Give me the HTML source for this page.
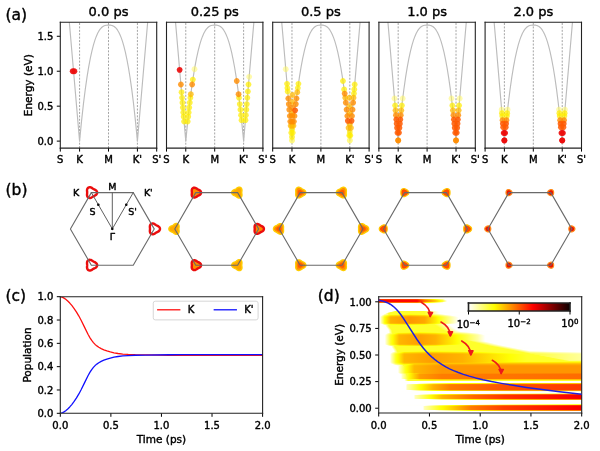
<!DOCTYPE html>
<html><head><meta charset="utf-8"><style>
html,body{margin:0;padding:0;background:#fff;}
#wrap{position:relative;width:600px;height:451px;overflow:hidden;background:#fff;}
#wrap>svg{position:absolute;left:0;top:0;}
#wrap text{stroke:#000;stroke-width:0.4px;}
</style></head><body><div id="wrap">
<svg width="600" height="451" viewBox="0 0 600 451"><defs><linearGradient id="h0" gradientUnits="userSpaceOnUse" x1="378.70" x2="581.70" y1="0" y2="0"><stop offset="0.0000" stop-color="#ff3400"/><stop offset="0.1897" stop-color="#ff3c00"/><stop offset="0.2266" stop-color="#ffa300"/><stop offset="0.2783" stop-color="#fffd00"/><stop offset="0.2931" stop-color="#ffff34"/><stop offset="0.3153" stop-color="#ffff89"/><stop offset="0.3276" stop-color="#fffffc"/><stop offset="0.3818" stop-color="#ffffff"/><stop offset="1.0000" stop-color="#ffffff"/></linearGradient><linearGradient id="h1" gradientUnits="userSpaceOnUse" x1="378.70" x2="581.70" y1="0" y2="0"><stop offset="0.0000" stop-color="#fd0000"/><stop offset="0.1897" stop-color="#ff0700"/><stop offset="0.2266" stop-color="#ff6e00"/><stop offset="0.2783" stop-color="#ffc700"/><stop offset="0.3005" stop-color="#ffff00"/><stop offset="0.3153" stop-color="#ffff39"/><stop offset="0.3350" stop-color="#fffff0"/><stop offset="0.3374" stop-color="#ffffff"/><stop offset="1.0000" stop-color="#ffffff"/></linearGradient><linearGradient id="h2" gradientUnits="userSpaceOnUse" x1="378.70" x2="581.70" y1="0" y2="0"><stop offset="0.0000" stop-color="#fd0000"/><stop offset="0.1897" stop-color="#ff0700"/><stop offset="0.2266" stop-color="#ff6e00"/><stop offset="0.2783" stop-color="#ffc700"/><stop offset="0.3005" stop-color="#ffff00"/><stop offset="0.3153" stop-color="#ffff39"/><stop offset="0.3350" stop-color="#fffff0"/><stop offset="0.3374" stop-color="#ffffff"/><stop offset="1.0000" stop-color="#ffffff"/></linearGradient><linearGradient id="h3" gradientUnits="userSpaceOnUse" x1="378.70" x2="581.70" y1="0" y2="0"><stop offset="0.0000" stop-color="#ff6c00"/><stop offset="0.1897" stop-color="#ff7400"/><stop offset="0.2266" stop-color="#ffdb00"/><stop offset="0.2488" stop-color="#ffff02"/><stop offset="0.2759" stop-color="#ffff47"/><stop offset="0.3153" stop-color="#ffffdd"/><stop offset="0.3177" stop-color="#fffff4"/><stop offset="0.3202" stop-color="#ffffff"/><stop offset="1.0000" stop-color="#ffffff"/></linearGradient><linearGradient id="h4" gradientUnits="userSpaceOnUse" x1="378.70" x2="581.70" y1="0" y2="0"><stop offset="0.0000" stop-color="#ffffff"/><stop offset="0.1429" stop-color="#fffffc"/><stop offset="0.2291" stop-color="#ffffe2"/><stop offset="0.3005" stop-color="#fffffc"/><stop offset="0.3276" stop-color="#ffffff"/><stop offset="1.0000" stop-color="#ffffff"/></linearGradient><linearGradient id="h5" gradientUnits="userSpaceOnUse" x1="378.70" x2="581.70" y1="0" y2="0"><stop offset="0.0000" stop-color="#ffffff"/><stop offset="0.0616" stop-color="#ffffff"/><stop offset="0.0640" stop-color="#ffffeb"/><stop offset="0.0788" stop-color="#ffff38"/><stop offset="0.0813" stop-color="#ffff2a"/><stop offset="0.2217" stop-color="#ffff2a"/><stop offset="0.2586" stop-color="#ffff92"/><stop offset="0.2956" stop-color="#fffffe"/><stop offset="1.0000" stop-color="#ffffff"/></linearGradient><linearGradient id="h6" gradientUnits="userSpaceOnUse" x1="378.70" x2="581.70" y1="0" y2="0"><stop offset="0.0000" stop-color="#ffffff"/><stop offset="0.0419" stop-color="#ffffff"/><stop offset="0.0443" stop-color="#ffffe8"/><stop offset="0.0591" stop-color="#ffff34"/><stop offset="0.0616" stop-color="#ffff2a"/><stop offset="0.2266" stop-color="#ffff2c"/><stop offset="0.2980" stop-color="#fffffc"/><stop offset="1.0000" stop-color="#ffffff"/></linearGradient><linearGradient id="h7" gradientUnits="userSpaceOnUse" x1="378.70" x2="581.70" y1="0" y2="0"><stop offset="0.0000" stop-color="#ffffff"/><stop offset="0.0320" stop-color="#ffffff"/><stop offset="0.0369" stop-color="#ffffc8"/><stop offset="0.0493" stop-color="#ffff33"/><stop offset="0.0517" stop-color="#ffff2a"/><stop offset="0.2266" stop-color="#ffff2a"/><stop offset="0.3005" stop-color="#ffffff"/><stop offset="1.0000" stop-color="#ffffff"/></linearGradient><linearGradient id="h8" gradientUnits="userSpaceOnUse" x1="378.70" x2="581.70" y1="0" y2="0"><stop offset="0.0000" stop-color="#ffffff"/><stop offset="0.0222" stop-color="#fffffd"/><stop offset="0.0296" stop-color="#ffffb2"/><stop offset="0.0443" stop-color="#ffff6e"/><stop offset="0.0493" stop-color="#ffff33"/><stop offset="0.0517" stop-color="#ffff2a"/><stop offset="0.0862" stop-color="#ffff25"/><stop offset="0.1527" stop-color="#ffff0c"/><stop offset="0.2266" stop-color="#ffff27"/><stop offset="0.2783" stop-color="#ffff84"/><stop offset="0.3276" stop-color="#ffffff"/><stop offset="1.0000" stop-color="#ffffff"/></linearGradient><linearGradient id="h9" gradientUnits="userSpaceOnUse" x1="378.70" x2="581.70" y1="0" y2="0"><stop offset="0.0000" stop-color="#ffffff"/><stop offset="0.0123" stop-color="#ffffff"/><stop offset="0.0148" stop-color="#ffffed"/><stop offset="0.0296" stop-color="#ffff59"/><stop offset="0.0493" stop-color="#ffff04"/><stop offset="0.0591" stop-color="#ffe600"/><stop offset="0.1552" stop-color="#ffcc00"/><stop offset="0.2266" stop-color="#ffdd00"/><stop offset="0.2562" stop-color="#ffff01"/><stop offset="0.2783" stop-color="#ffff2a"/><stop offset="0.3621" stop-color="#fffffd"/><stop offset="1.0000" stop-color="#ffffff"/></linearGradient><linearGradient id="h10" gradientUnits="userSpaceOnUse" x1="378.70" x2="581.70" y1="0" y2="0"><stop offset="0.0000" stop-color="#ffffff"/><stop offset="0.0074" stop-color="#ffffff"/><stop offset="0.0296" stop-color="#ffff20"/><stop offset="0.0369" stop-color="#fffe00"/><stop offset="0.0591" stop-color="#ffc000"/><stop offset="0.1552" stop-color="#ffa600"/><stop offset="0.2266" stop-color="#ffb700"/><stop offset="0.2808" stop-color="#fffa00"/><stop offset="0.2857" stop-color="#ffff05"/><stop offset="0.3867" stop-color="#ffffff"/><stop offset="1.0000" stop-color="#ffffff"/></linearGradient><linearGradient id="h11" gradientUnits="userSpaceOnUse" x1="378.70" x2="581.70" y1="0" y2="0"><stop offset="0.0000" stop-color="#ffffff"/><stop offset="0.0074" stop-color="#ffffff"/><stop offset="0.0099" stop-color="#ffffd0"/><stop offset="0.0296" stop-color="#ffff09"/><stop offset="0.0320" stop-color="#fffc00"/><stop offset="0.0591" stop-color="#ffb100"/><stop offset="0.1552" stop-color="#ff9700"/><stop offset="0.2266" stop-color="#ffa800"/><stop offset="0.2808" stop-color="#ffea00"/><stop offset="0.2931" stop-color="#ffff00"/><stop offset="0.3892" stop-color="#fffff1"/><stop offset="0.3941" stop-color="#ffffff"/><stop offset="1.0000" stop-color="#ffffff"/></linearGradient><linearGradient id="h12" gradientUnits="userSpaceOnUse" x1="378.70" x2="581.70" y1="0" y2="0"><stop offset="0.0000" stop-color="#ffffff"/><stop offset="0.0074" stop-color="#ffffff"/><stop offset="0.0099" stop-color="#ffffd0"/><stop offset="0.0296" stop-color="#ffff08"/><stop offset="0.0320" stop-color="#fffc00"/><stop offset="0.0591" stop-color="#ffb000"/><stop offset="0.1552" stop-color="#ff9600"/><stop offset="0.2266" stop-color="#ffa800"/><stop offset="0.2808" stop-color="#ffea00"/><stop offset="0.2931" stop-color="#ffff00"/><stop offset="0.3892" stop-color="#fffff0"/><stop offset="0.3941" stop-color="#ffffff"/><stop offset="1.0000" stop-color="#ffffff"/></linearGradient><linearGradient id="h13" gradientUnits="userSpaceOnUse" x1="378.70" x2="581.70" y1="0" y2="0"><stop offset="0.0000" stop-color="#ffffff"/><stop offset="0.0074" stop-color="#ffffff"/><stop offset="0.0099" stop-color="#ffffd0"/><stop offset="0.0296" stop-color="#ffff08"/><stop offset="0.0320" stop-color="#fffc00"/><stop offset="0.0591" stop-color="#ffb000"/><stop offset="0.1552" stop-color="#ff9600"/><stop offset="0.2266" stop-color="#ffa800"/><stop offset="0.2808" stop-color="#ffea00"/><stop offset="0.2931" stop-color="#ffff00"/><stop offset="0.3892" stop-color="#fffff0"/><stop offset="0.3941" stop-color="#ffffff"/><stop offset="1.0000" stop-color="#ffffff"/></linearGradient><linearGradient id="h14" gradientUnits="userSpaceOnUse" x1="378.70" x2="581.70" y1="0" y2="0"><stop offset="0.0000" stop-color="#ffffff"/><stop offset="0.0074" stop-color="#ffffff"/><stop offset="0.0099" stop-color="#ffffd0"/><stop offset="0.0296" stop-color="#ffff08"/><stop offset="0.0320" stop-color="#fffc00"/><stop offset="0.0591" stop-color="#ffb000"/><stop offset="0.1552" stop-color="#ff9600"/><stop offset="0.2266" stop-color="#ffa800"/><stop offset="0.2808" stop-color="#ffea00"/><stop offset="0.2931" stop-color="#ffff00"/><stop offset="0.3892" stop-color="#fffff0"/><stop offset="0.3941" stop-color="#ffffff"/><stop offset="1.0000" stop-color="#ffffff"/></linearGradient><linearGradient id="h15" gradientUnits="userSpaceOnUse" x1="378.70" x2="581.70" y1="0" y2="0"><stop offset="0.0000" stop-color="#ffffff"/><stop offset="0.0074" stop-color="#ffffff"/><stop offset="0.0099" stop-color="#ffffd0"/><stop offset="0.0296" stop-color="#ffff08"/><stop offset="0.0320" stop-color="#fffc00"/><stop offset="0.0591" stop-color="#ffb000"/><stop offset="0.1552" stop-color="#ff9600"/><stop offset="0.2266" stop-color="#ffa800"/><stop offset="0.2808" stop-color="#ffea00"/><stop offset="0.2931" stop-color="#ffff00"/><stop offset="0.3892" stop-color="#fffff0"/><stop offset="0.3941" stop-color="#ffffff"/><stop offset="1.0000" stop-color="#ffffff"/></linearGradient><linearGradient id="h16" gradientUnits="userSpaceOnUse" x1="378.70" x2="581.70" y1="0" y2="0"><stop offset="0.0000" stop-color="#ffffff"/><stop offset="0.0074" stop-color="#ffffff"/><stop offset="0.0099" stop-color="#ffffd0"/><stop offset="0.0296" stop-color="#ffff08"/><stop offset="0.0320" stop-color="#fffc00"/><stop offset="0.0591" stop-color="#ffb000"/><stop offset="0.1552" stop-color="#ff9600"/><stop offset="0.2266" stop-color="#ffa800"/><stop offset="0.2808" stop-color="#ffea00"/><stop offset="0.2931" stop-color="#ffff00"/><stop offset="0.3892" stop-color="#fffff0"/><stop offset="0.3941" stop-color="#ffffff"/><stop offset="1.0000" stop-color="#ffffff"/></linearGradient><linearGradient id="h17" gradientUnits="userSpaceOnUse" x1="378.70" x2="581.70" y1="0" y2="0"><stop offset="0.0000" stop-color="#ffffff"/><stop offset="0.0074" stop-color="#ffffff"/><stop offset="0.0148" stop-color="#ffffb7"/><stop offset="0.0296" stop-color="#ffff23"/><stop offset="0.0369" stop-color="#ffff01"/><stop offset="0.0591" stop-color="#ffc200"/><stop offset="0.1552" stop-color="#ffa800"/><stop offset="0.2266" stop-color="#ffb900"/><stop offset="0.2808" stop-color="#fffb00"/><stop offset="0.2857" stop-color="#ffff07"/><stop offset="0.3842" stop-color="#fffffe"/><stop offset="1.0000" stop-color="#ffffff"/></linearGradient><linearGradient id="h18" gradientUnits="userSpaceOnUse" x1="378.70" x2="581.70" y1="0" y2="0"><stop offset="0.0000" stop-color="#ffffff"/><stop offset="0.0172" stop-color="#ffffff"/><stop offset="0.0197" stop-color="#fffff0"/><stop offset="0.0296" stop-color="#ffff8d"/><stop offset="0.0468" stop-color="#ffff43"/><stop offset="0.0493" stop-color="#ffff33"/><stop offset="0.0591" stop-color="#ffff0f"/><stop offset="0.0813" stop-color="#ffff02"/><stop offset="0.1552" stop-color="#ffef00"/><stop offset="0.2266" stop-color="#ffff02"/><stop offset="0.2512" stop-color="#ffff2a"/><stop offset="0.2734" stop-color="#ffff2b"/><stop offset="0.3473" stop-color="#ffffff"/><stop offset="1.0000" stop-color="#ffffff"/></linearGradient><linearGradient id="h19" gradientUnits="userSpaceOnUse" x1="378.70" x2="581.70" y1="0" y2="0"><stop offset="0.0000" stop-color="#ffffff"/><stop offset="0.0320" stop-color="#ffffff"/><stop offset="0.0369" stop-color="#ffffc8"/><stop offset="0.0493" stop-color="#ffff33"/><stop offset="0.0517" stop-color="#ffff2a"/><stop offset="0.2808" stop-color="#ffff2a"/><stop offset="0.3547" stop-color="#ffffff"/><stop offset="1.0000" stop-color="#ffffff"/></linearGradient><linearGradient id="h20" gradientUnits="userSpaceOnUse" x1="378.70" x2="581.70" y1="0" y2="0"><stop offset="0.0000" stop-color="#ffffff"/><stop offset="0.0345" stop-color="#fffffd"/><stop offset="0.0517" stop-color="#ffff2b"/><stop offset="0.2882" stop-color="#ffff2a"/><stop offset="0.3621" stop-color="#ffffff"/><stop offset="1.0000" stop-color="#ffffff"/></linearGradient><linearGradient id="h21" gradientUnits="userSpaceOnUse" x1="378.70" x2="581.70" y1="0" y2="0"><stop offset="0.0000" stop-color="#ffffff"/><stop offset="0.0369" stop-color="#ffffff"/><stop offset="0.0394" stop-color="#ffffee"/><stop offset="0.0542" stop-color="#ffff3b"/><stop offset="0.0567" stop-color="#ffff2a"/><stop offset="0.2956" stop-color="#ffff2a"/><stop offset="0.3695" stop-color="#ffffff"/><stop offset="1.0000" stop-color="#ffffff"/></linearGradient><linearGradient id="h22" gradientUnits="userSpaceOnUse" x1="378.70" x2="581.70" y1="0" y2="0"><stop offset="0.0000" stop-color="#ffffff"/><stop offset="0.0419" stop-color="#fffffe"/><stop offset="0.0591" stop-color="#ffff2d"/><stop offset="0.1034" stop-color="#ffff2a"/><stop offset="0.3030" stop-color="#ffff2a"/><stop offset="0.3768" stop-color="#ffffff"/><stop offset="1.0000" stop-color="#ffffff"/></linearGradient><linearGradient id="h23" gradientUnits="userSpaceOnUse" x1="378.70" x2="581.70" y1="0" y2="0"><stop offset="0.0000" stop-color="#ffffff"/><stop offset="0.0443" stop-color="#ffffff"/><stop offset="0.0468" stop-color="#fffff0"/><stop offset="0.0616" stop-color="#ffff3c"/><stop offset="0.0640" stop-color="#ffff2a"/><stop offset="0.3103" stop-color="#ffff2a"/><stop offset="0.3842" stop-color="#fffffe"/><stop offset="1.0000" stop-color="#ffffff"/></linearGradient><linearGradient id="h24" gradientUnits="userSpaceOnUse" x1="378.70" x2="581.70" y1="0" y2="0"><stop offset="0.0000" stop-color="#ffffff"/><stop offset="0.0468" stop-color="#ffffff"/><stop offset="0.0493" stop-color="#ffffee"/><stop offset="0.0640" stop-color="#ffff3b"/><stop offset="0.0665" stop-color="#ffff2a"/><stop offset="0.3202" stop-color="#ffff2a"/><stop offset="0.3941" stop-color="#ffffff"/><stop offset="1.0000" stop-color="#ffffff"/></linearGradient><linearGradient id="h25" gradientUnits="userSpaceOnUse" x1="378.70" x2="581.70" y1="0" y2="0"><stop offset="0.0000" stop-color="#ffffff"/><stop offset="0.0468" stop-color="#ffffff"/><stop offset="0.0493" stop-color="#fffff9"/><stop offset="0.0665" stop-color="#ffff2a"/><stop offset="0.3325" stop-color="#ffff2d"/><stop offset="0.4039" stop-color="#fffffd"/><stop offset="1.0000" stop-color="#ffffff"/></linearGradient><linearGradient id="h26" gradientUnits="userSpaceOnUse" x1="378.70" x2="581.70" y1="0" y2="0"><stop offset="0.0000" stop-color="#ffffff"/><stop offset="0.0493" stop-color="#ffffff"/><stop offset="0.0567" stop-color="#ffffaa"/><stop offset="0.0665" stop-color="#ffff32"/><stop offset="0.0690" stop-color="#ffff2a"/><stop offset="0.1133" stop-color="#ffff26"/><stop offset="0.2044" stop-color="#ffff07"/><stop offset="0.2783" stop-color="#ffff22"/><stop offset="0.2906" stop-color="#ffff2a"/><stop offset="0.3424" stop-color="#ffff2a"/><stop offset="0.3768" stop-color="#ffff8e"/><stop offset="0.4360" stop-color="#ffffe0"/><stop offset="0.4557" stop-color="#ffffff"/><stop offset="1.0000" stop-color="#ffffff"/></linearGradient><linearGradient id="h27" gradientUnits="userSpaceOnUse" x1="378.70" x2="581.70" y1="0" y2="0"><stop offset="0.0000" stop-color="#ffffff"/><stop offset="0.0369" stop-color="#ffffff"/><stop offset="0.0394" stop-color="#fffff8"/><stop offset="0.0591" stop-color="#ffff6d"/><stop offset="0.0640" stop-color="#ffff59"/><stop offset="0.0665" stop-color="#ffff3d"/><stop offset="0.0690" stop-color="#ffff2a"/><stop offset="0.0788" stop-color="#ffff26"/><stop offset="0.0887" stop-color="#ffff04"/><stop offset="0.0985" stop-color="#ffeb00"/><stop offset="0.2020" stop-color="#ffcf00"/><stop offset="0.2808" stop-color="#ffe300"/><stop offset="0.3251" stop-color="#ffff03"/><stop offset="0.3621" stop-color="#ffff2c"/><stop offset="0.4335" stop-color="#ffff8e"/><stop offset="0.4877" stop-color="#ffffeb"/><stop offset="0.4951" stop-color="#fffffe"/><stop offset="1.0000" stop-color="#ffffff"/></linearGradient><linearGradient id="h28" gradientUnits="userSpaceOnUse" x1="378.70" x2="581.70" y1="0" y2="0"><stop offset="0.0000" stop-color="#ffffff"/><stop offset="0.0320" stop-color="#ffffff"/><stop offset="0.0419" stop-color="#ffffb4"/><stop offset="0.0591" stop-color="#ffff3b"/><stop offset="0.0739" stop-color="#ffff05"/><stop offset="0.0788" stop-color="#fff700"/><stop offset="0.1010" stop-color="#ffc600"/><stop offset="0.2044" stop-color="#ffae00"/><stop offset="0.2808" stop-color="#ffc200"/><stop offset="0.3670" stop-color="#ffff00"/><stop offset="0.4335" stop-color="#ffff5c"/><stop offset="0.4877" stop-color="#ffffb9"/><stop offset="0.5148" stop-color="#fffffd"/><stop offset="1.0000" stop-color="#ffffff"/></linearGradient><linearGradient id="h29" gradientUnits="userSpaceOnUse" x1="378.70" x2="581.70" y1="0" y2="0"><stop offset="0.0000" stop-color="#ffffff"/><stop offset="0.0296" stop-color="#ffffff"/><stop offset="0.0320" stop-color="#fffff6"/><stop offset="0.0345" stop-color="#ffffd5"/><stop offset="0.0591" stop-color="#ffff25"/><stop offset="0.0690" stop-color="#ffff00"/><stop offset="0.1010" stop-color="#ffb700"/><stop offset="0.2044" stop-color="#ff9f00"/><stop offset="0.2808" stop-color="#ffb300"/><stop offset="0.3645" stop-color="#ffee00"/><stop offset="0.3842" stop-color="#ffff01"/><stop offset="0.4360" stop-color="#ffff4a"/><stop offset="0.4877" stop-color="#ffffa3"/><stop offset="0.5246" stop-color="#ffffff"/><stop offset="1.0000" stop-color="#ffffff"/></linearGradient><linearGradient id="h30" gradientUnits="userSpaceOnUse" x1="378.70" x2="581.70" y1="0" y2="0"><stop offset="0.0000" stop-color="#ffffff"/><stop offset="0.0296" stop-color="#ffffff"/><stop offset="0.0320" stop-color="#fffff5"/><stop offset="0.0345" stop-color="#ffffd4"/><stop offset="0.0591" stop-color="#ffff23"/><stop offset="0.0690" stop-color="#fffe00"/><stop offset="0.1010" stop-color="#ffb600"/><stop offset="0.2044" stop-color="#ff9e00"/><stop offset="0.2808" stop-color="#ffb200"/><stop offset="0.3645" stop-color="#ffed00"/><stop offset="0.3867" stop-color="#ffff03"/><stop offset="0.4360" stop-color="#ffff49"/><stop offset="0.4877" stop-color="#ffffa1"/><stop offset="0.5246" stop-color="#fffffe"/><stop offset="1.0000" stop-color="#ffffff"/></linearGradient><linearGradient id="h31" gradientUnits="userSpaceOnUse" x1="378.70" x2="581.70" y1="0" y2="0"><stop offset="0.0000" stop-color="#ffffff"/><stop offset="0.0296" stop-color="#ffffff"/><stop offset="0.0320" stop-color="#fffff5"/><stop offset="0.0345" stop-color="#ffffd4"/><stop offset="0.0591" stop-color="#ffff23"/><stop offset="0.0690" stop-color="#fffe00"/><stop offset="0.1010" stop-color="#ffb600"/><stop offset="0.2044" stop-color="#ff9e00"/><stop offset="0.2808" stop-color="#ffb200"/><stop offset="0.3645" stop-color="#ffed00"/><stop offset="0.3867" stop-color="#ffff03"/><stop offset="0.4360" stop-color="#ffff49"/><stop offset="0.4877" stop-color="#ffffa1"/><stop offset="0.5246" stop-color="#fffffe"/><stop offset="1.0000" stop-color="#ffffff"/></linearGradient><linearGradient id="h32" gradientUnits="userSpaceOnUse" x1="378.70" x2="581.70" y1="0" y2="0"><stop offset="0.0000" stop-color="#ffffff"/><stop offset="0.0296" stop-color="#ffffff"/><stop offset="0.0320" stop-color="#fffff5"/><stop offset="0.0345" stop-color="#ffffd4"/><stop offset="0.0591" stop-color="#ffff23"/><stop offset="0.0690" stop-color="#fffe00"/><stop offset="0.1010" stop-color="#ffb600"/><stop offset="0.2044" stop-color="#ff9e00"/><stop offset="0.2808" stop-color="#ffb200"/><stop offset="0.3645" stop-color="#ffed00"/><stop offset="0.3867" stop-color="#ffff03"/><stop offset="0.4360" stop-color="#ffff49"/><stop offset="0.4877" stop-color="#ffffa1"/><stop offset="0.5246" stop-color="#fffffe"/><stop offset="1.0000" stop-color="#ffffff"/></linearGradient><linearGradient id="h33" gradientUnits="userSpaceOnUse" x1="378.70" x2="581.70" y1="0" y2="0"><stop offset="0.0000" stop-color="#ffffff"/><stop offset="0.0296" stop-color="#ffffff"/><stop offset="0.0320" stop-color="#fffff5"/><stop offset="0.0345" stop-color="#ffffd4"/><stop offset="0.0591" stop-color="#ffff23"/><stop offset="0.0690" stop-color="#fffe00"/><stop offset="0.1010" stop-color="#ffb600"/><stop offset="0.2044" stop-color="#ff9e00"/><stop offset="0.2808" stop-color="#ffb200"/><stop offset="0.3645" stop-color="#ffed00"/><stop offset="0.3867" stop-color="#ffff03"/><stop offset="0.4163" stop-color="#ffff2a"/><stop offset="0.4212" stop-color="#ffff2f"/><stop offset="0.4877" stop-color="#ffffa1"/><stop offset="0.5246" stop-color="#fffffe"/><stop offset="1.0000" stop-color="#ffffff"/></linearGradient><linearGradient id="h34" gradientUnits="userSpaceOnUse" x1="378.70" x2="581.70" y1="0" y2="0"><stop offset="0.0000" stop-color="#ffffff"/><stop offset="0.0296" stop-color="#ffffff"/><stop offset="0.0320" stop-color="#fffff5"/><stop offset="0.0345" stop-color="#ffffd4"/><stop offset="0.0591" stop-color="#ffff23"/><stop offset="0.0690" stop-color="#fffe00"/><stop offset="0.1010" stop-color="#ffb600"/><stop offset="0.2044" stop-color="#ff9e00"/><stop offset="0.2808" stop-color="#ffb200"/><stop offset="0.3645" stop-color="#ffed00"/><stop offset="0.3867" stop-color="#ffff03"/><stop offset="0.4163" stop-color="#ffff2a"/><stop offset="0.4360" stop-color="#ffff2c"/><stop offset="0.4606" stop-color="#ffff72"/><stop offset="0.4877" stop-color="#ffffa1"/><stop offset="0.5246" stop-color="#fffffe"/><stop offset="1.0000" stop-color="#ffffff"/></linearGradient><linearGradient id="h35" gradientUnits="userSpaceOnUse" x1="378.70" x2="581.70" y1="0" y2="0"><stop offset="0.0000" stop-color="#ffffff"/><stop offset="0.0296" stop-color="#ffffff"/><stop offset="0.0320" stop-color="#fffff5"/><stop offset="0.0345" stop-color="#ffffd4"/><stop offset="0.0591" stop-color="#ffff23"/><stop offset="0.0690" stop-color="#fffe00"/><stop offset="0.1010" stop-color="#ffb600"/><stop offset="0.2044" stop-color="#ff9e00"/><stop offset="0.2808" stop-color="#ffb200"/><stop offset="0.3645" stop-color="#ffed00"/><stop offset="0.3867" stop-color="#ffff03"/><stop offset="0.4163" stop-color="#ffff2a"/><stop offset="0.4557" stop-color="#ffff2c"/><stop offset="0.5271" stop-color="#fffffc"/><stop offset="0.5443" stop-color="#ffffff"/><stop offset="1.0000" stop-color="#ffffff"/></linearGradient><linearGradient id="h36" gradientUnits="userSpaceOnUse" x1="378.70" x2="581.70" y1="0" y2="0"><stop offset="0.0000" stop-color="#ffffff"/><stop offset="0.0296" stop-color="#ffffff"/><stop offset="0.0320" stop-color="#fffff5"/><stop offset="0.0345" stop-color="#ffffd4"/><stop offset="0.0591" stop-color="#ffff23"/><stop offset="0.0690" stop-color="#fffe00"/><stop offset="0.1010" stop-color="#ffb600"/><stop offset="0.2044" stop-color="#ff9e00"/><stop offset="0.2808" stop-color="#ffb200"/><stop offset="0.3645" stop-color="#ffed00"/><stop offset="0.3867" stop-color="#ffff03"/><stop offset="0.4163" stop-color="#ffff2a"/><stop offset="0.4754" stop-color="#ffff2b"/><stop offset="0.5493" stop-color="#ffffff"/><stop offset="1.0000" stop-color="#ffffff"/></linearGradient><linearGradient id="h37" gradientUnits="userSpaceOnUse" x1="378.70" x2="581.70" y1="0" y2="0"><stop offset="0.0000" stop-color="#ffffff"/><stop offset="0.0296" stop-color="#ffffff"/><stop offset="0.0320" stop-color="#fffff5"/><stop offset="0.0345" stop-color="#ffffd4"/><stop offset="0.0591" stop-color="#ffff23"/><stop offset="0.0690" stop-color="#fffe00"/><stop offset="0.1010" stop-color="#ffb600"/><stop offset="0.2044" stop-color="#ff9e00"/><stop offset="0.2808" stop-color="#ffb200"/><stop offset="0.3645" stop-color="#ffed00"/><stop offset="0.3867" stop-color="#ffff03"/><stop offset="0.4163" stop-color="#ffff2a"/><stop offset="0.4951" stop-color="#ffff2a"/><stop offset="0.5690" stop-color="#ffffff"/><stop offset="1.0000" stop-color="#ffffff"/></linearGradient><linearGradient id="h38" gradientUnits="userSpaceOnUse" x1="378.70" x2="581.70" y1="0" y2="0"><stop offset="0.0000" stop-color="#ffffff"/><stop offset="0.0320" stop-color="#ffffff"/><stop offset="0.0345" stop-color="#ffffe3"/><stop offset="0.0591" stop-color="#ffff33"/><stop offset="0.0714" stop-color="#ffff05"/><stop offset="0.0764" stop-color="#fff700"/><stop offset="0.1010" stop-color="#ffc000"/><stop offset="0.2044" stop-color="#ffa900"/><stop offset="0.2808" stop-color="#ffbc00"/><stop offset="0.3645" stop-color="#fff700"/><stop offset="0.3744" stop-color="#ffff02"/><stop offset="0.4064" stop-color="#ffff2a"/><stop offset="0.5148" stop-color="#ffff2a"/><stop offset="0.5887" stop-color="#ffffff"/><stop offset="1.0000" stop-color="#ffffff"/></linearGradient><linearGradient id="h39" gradientUnits="userSpaceOnUse" x1="378.70" x2="581.70" y1="0" y2="0"><stop offset="0.0000" stop-color="#ffffff"/><stop offset="0.0394" stop-color="#ffffff"/><stop offset="0.0419" stop-color="#fffff7"/><stop offset="0.0591" stop-color="#ffff7e"/><stop offset="0.0764" stop-color="#ffff3f"/><stop offset="0.0788" stop-color="#ffff2a"/><stop offset="0.0837" stop-color="#ffff26"/><stop offset="0.0936" stop-color="#ffff04"/><stop offset="0.1034" stop-color="#fff200"/><stop offset="0.2044" stop-color="#ffdb00"/><stop offset="0.2808" stop-color="#ffee00"/><stop offset="0.3079" stop-color="#ffff02"/><stop offset="0.3498" stop-color="#ffff2a"/><stop offset="0.5369" stop-color="#ffff2a"/><stop offset="0.6108" stop-color="#ffffff"/><stop offset="1.0000" stop-color="#ffffff"/></linearGradient><linearGradient id="h40" gradientUnits="userSpaceOnUse" x1="378.70" x2="581.70" y1="0" y2="0"><stop offset="0.0000" stop-color="#ffffff"/><stop offset="0.0616" stop-color="#fffffc"/><stop offset="0.0640" stop-color="#ffffe6"/><stop offset="0.0788" stop-color="#ffff33"/><stop offset="0.0813" stop-color="#ffff2a"/><stop offset="0.5616" stop-color="#ffff2a"/><stop offset="0.6355" stop-color="#fffffe"/><stop offset="1.0000" stop-color="#ffffff"/></linearGradient><linearGradient id="h41" gradientUnits="userSpaceOnUse" x1="378.70" x2="581.70" y1="0" y2="0"><stop offset="0.0000" stop-color="#ffffff"/><stop offset="0.0640" stop-color="#ffffff"/><stop offset="0.0813" stop-color="#ffff2e"/><stop offset="0.0862" stop-color="#ffff2a"/><stop offset="0.5862" stop-color="#ffff2a"/><stop offset="0.5961" stop-color="#ffff43"/><stop offset="0.6601" stop-color="#fffffd"/><stop offset="1.0000" stop-color="#ffffff"/></linearGradient><linearGradient id="h42" gradientUnits="userSpaceOnUse" x1="378.70" x2="581.70" y1="0" y2="0"><stop offset="0.0000" stop-color="#ffffff"/><stop offset="0.0665" stop-color="#ffffff"/><stop offset="0.0690" stop-color="#ffffec"/><stop offset="0.0837" stop-color="#ffff39"/><stop offset="0.0862" stop-color="#ffff2a"/><stop offset="0.6133" stop-color="#ffff2c"/><stop offset="0.6847" stop-color="#fffffc"/><stop offset="0.8399" stop-color="#ffffff"/><stop offset="1.0000" stop-color="#ffffff"/></linearGradient><linearGradient id="h43" gradientUnits="userSpaceOnUse" x1="378.70" x2="581.70" y1="0" y2="0"><stop offset="0.0000" stop-color="#ffffff"/><stop offset="0.0690" stop-color="#ffffff"/><stop offset="0.0714" stop-color="#fffff7"/><stop offset="0.0862" stop-color="#ffff43"/><stop offset="0.0887" stop-color="#ffff2a"/><stop offset="0.6379" stop-color="#ffff2b"/><stop offset="0.7118" stop-color="#ffffff"/><stop offset="1.0000" stop-color="#ffffff"/></linearGradient><linearGradient id="h44" gradientUnits="userSpaceOnUse" x1="378.70" x2="581.70" y1="0" y2="0"><stop offset="0.0000" stop-color="#ffffff"/><stop offset="0.0714" stop-color="#ffffff"/><stop offset="0.0739" stop-color="#fffff6"/><stop offset="0.0887" stop-color="#ffff43"/><stop offset="0.0911" stop-color="#ffff2a"/><stop offset="0.6626" stop-color="#ffff2a"/><stop offset="0.7365" stop-color="#ffffff"/><stop offset="1.0000" stop-color="#ffffff"/></linearGradient><linearGradient id="h45" gradientUnits="userSpaceOnUse" x1="378.70" x2="581.70" y1="0" y2="0"><stop offset="0.0000" stop-color="#ffffff"/><stop offset="0.0739" stop-color="#ffffff"/><stop offset="0.0764" stop-color="#ffffeb"/><stop offset="0.0911" stop-color="#ffff38"/><stop offset="0.0936" stop-color="#ffff2a"/><stop offset="0.1429" stop-color="#ffff26"/><stop offset="0.2562" stop-color="#ffff06"/><stop offset="0.4089" stop-color="#ffff23"/><stop offset="0.4335" stop-color="#ffff2a"/><stop offset="0.6872" stop-color="#ffff2a"/><stop offset="0.7438" stop-color="#ffffcb"/><stop offset="0.8424" stop-color="#fffff7"/><stop offset="0.8768" stop-color="#ffffff"/><stop offset="1.0000" stop-color="#ffffff"/></linearGradient><linearGradient id="h46" gradientUnits="userSpaceOnUse" x1="378.70" x2="581.70" y1="0" y2="0"><stop offset="0.0000" stop-color="#ffffff"/><stop offset="0.0616" stop-color="#ffffff"/><stop offset="0.0640" stop-color="#fffffa"/><stop offset="0.0837" stop-color="#ffff70"/><stop offset="0.0887" stop-color="#ffff5a"/><stop offset="0.0911" stop-color="#ffff4b"/><stop offset="0.0936" stop-color="#ffff2d"/><stop offset="0.1034" stop-color="#ffff27"/><stop offset="0.1158" stop-color="#fffd00"/><stop offset="0.1256" stop-color="#ffe700"/><stop offset="0.2586" stop-color="#ffcf00"/><stop offset="0.4138" stop-color="#ffe400"/><stop offset="0.5000" stop-color="#ffff02"/><stop offset="0.5837" stop-color="#ffff2a"/><stop offset="0.7118" stop-color="#ffff2a"/><stop offset="0.7414" stop-color="#ffff7c"/><stop offset="0.8399" stop-color="#ffffa8"/><stop offset="1.0000" stop-color="#ffffe4"/></linearGradient><linearGradient id="h47" gradientUnits="userSpaceOnUse" x1="378.70" x2="581.70" y1="0" y2="0"><stop offset="0.0000" stop-color="#ffffff"/><stop offset="0.0567" stop-color="#ffffff"/><stop offset="0.0591" stop-color="#fffff0"/><stop offset="0.0640" stop-color="#ffffc8"/><stop offset="0.0837" stop-color="#ffff3e"/><stop offset="0.0911" stop-color="#ffff20"/><stop offset="0.1010" stop-color="#fffd00"/><stop offset="0.1256" stop-color="#ffc600"/><stop offset="0.2586" stop-color="#ffae00"/><stop offset="0.4138" stop-color="#ffc200"/><stop offset="0.6010" stop-color="#ffff03"/><stop offset="0.6823" stop-color="#ffff2a"/><stop offset="0.7365" stop-color="#ffff2a"/><stop offset="0.7512" stop-color="#ffff4e"/><stop offset="0.8473" stop-color="#ffff79"/><stop offset="1.0000" stop-color="#ffffb2"/></linearGradient><linearGradient id="h48" gradientUnits="userSpaceOnUse" x1="378.70" x2="581.70" y1="0" y2="0"><stop offset="0.0000" stop-color="#ffffff"/><stop offset="0.0542" stop-color="#ffffff"/><stop offset="0.0567" stop-color="#fffffb"/><stop offset="0.0591" stop-color="#ffffda"/><stop offset="0.0640" stop-color="#ffffb2"/><stop offset="0.0837" stop-color="#ffff27"/><stop offset="0.0911" stop-color="#ffff09"/><stop offset="0.0936" stop-color="#ffff01"/><stop offset="0.1256" stop-color="#ffb700"/><stop offset="0.2586" stop-color="#ff9f00"/><stop offset="0.4138" stop-color="#ffb300"/><stop offset="0.6453" stop-color="#ffff03"/><stop offset="0.7266" stop-color="#ffff2a"/><stop offset="0.7635" stop-color="#ffff2d"/><stop offset="0.7709" stop-color="#ffff42"/><stop offset="0.9360" stop-color="#ffff84"/><stop offset="1.0000" stop-color="#ffff9c"/></linearGradient><linearGradient id="h49" gradientUnits="userSpaceOnUse" x1="378.70" x2="581.70" y1="0" y2="0"><stop offset="0.0000" stop-color="#ffffff"/><stop offset="0.0542" stop-color="#ffffff"/><stop offset="0.0567" stop-color="#fffffa"/><stop offset="0.0591" stop-color="#ffffd9"/><stop offset="0.0640" stop-color="#ffffb0"/><stop offset="0.0837" stop-color="#ffff26"/><stop offset="0.0911" stop-color="#ffff08"/><stop offset="0.0936" stop-color="#ffff00"/><stop offset="0.1256" stop-color="#ffb600"/><stop offset="0.2586" stop-color="#ff9e00"/><stop offset="0.4138" stop-color="#ffb300"/><stop offset="0.6478" stop-color="#ffff03"/><stop offset="0.7315" stop-color="#ffff2a"/><stop offset="0.7882" stop-color="#ffff2c"/><stop offset="0.8005" stop-color="#ffff4f"/><stop offset="1.0000" stop-color="#ffff9b"/></linearGradient><linearGradient id="h50" gradientUnits="userSpaceOnUse" x1="378.70" x2="581.70" y1="0" y2="0"><stop offset="0.0000" stop-color="#ffffff"/><stop offset="0.0542" stop-color="#ffffff"/><stop offset="0.0567" stop-color="#fffffa"/><stop offset="0.0591" stop-color="#ffffd9"/><stop offset="0.0640" stop-color="#ffffb0"/><stop offset="0.0837" stop-color="#ffff26"/><stop offset="0.0911" stop-color="#ffff08"/><stop offset="0.0936" stop-color="#ffff00"/><stop offset="0.1256" stop-color="#ffb600"/><stop offset="0.2586" stop-color="#ff9e00"/><stop offset="0.4138" stop-color="#ffb300"/><stop offset="0.6478" stop-color="#ffff03"/><stop offset="0.7315" stop-color="#ffff2a"/><stop offset="0.8128" stop-color="#ffff2b"/><stop offset="0.8300" stop-color="#ffff5b"/><stop offset="1.0000" stop-color="#ffff9b"/></linearGradient><linearGradient id="h51" gradientUnits="userSpaceOnUse" x1="378.70" x2="581.70" y1="0" y2="0"><stop offset="0.0000" stop-color="#ffffff"/><stop offset="0.0542" stop-color="#ffffff"/><stop offset="0.0567" stop-color="#fffffa"/><stop offset="0.0591" stop-color="#ffffd9"/><stop offset="0.0640" stop-color="#ffffb0"/><stop offset="0.0837" stop-color="#ffff26"/><stop offset="0.0911" stop-color="#ffff08"/><stop offset="0.0936" stop-color="#ffff00"/><stop offset="0.1256" stop-color="#ffb600"/><stop offset="0.2586" stop-color="#ff9e00"/><stop offset="0.4138" stop-color="#ffb300"/><stop offset="0.6478" stop-color="#ffff03"/><stop offset="0.7315" stop-color="#ffff2a"/><stop offset="0.8374" stop-color="#ffff2a"/><stop offset="0.8571" stop-color="#ffff63"/><stop offset="1.0000" stop-color="#ffff9b"/></linearGradient><linearGradient id="h52" gradientUnits="userSpaceOnUse" x1="378.70" x2="581.70" y1="0" y2="0"><stop offset="0.0000" stop-color="#ffffff"/><stop offset="0.0542" stop-color="#ffffff"/><stop offset="0.0567" stop-color="#fffffa"/><stop offset="0.0591" stop-color="#ffffd9"/><stop offset="0.0640" stop-color="#ffffb0"/><stop offset="0.0837" stop-color="#ffff26"/><stop offset="0.0911" stop-color="#ffff08"/><stop offset="0.0936" stop-color="#ffff00"/><stop offset="0.1256" stop-color="#ffb600"/><stop offset="0.2586" stop-color="#ff9e00"/><stop offset="0.4138" stop-color="#ffb300"/><stop offset="0.6478" stop-color="#ffff03"/><stop offset="0.7315" stop-color="#ffff2a"/><stop offset="0.8621" stop-color="#ffff2a"/><stop offset="0.8867" stop-color="#ffff70"/><stop offset="1.0000" stop-color="#ffff9b"/></linearGradient><linearGradient id="h53" gradientUnits="userSpaceOnUse" x1="378.70" x2="581.70" y1="0" y2="0"><stop offset="0.0000" stop-color="#ffffff"/><stop offset="0.0542" stop-color="#ffffff"/><stop offset="0.0567" stop-color="#fffffa"/><stop offset="0.0591" stop-color="#ffffd9"/><stop offset="0.0640" stop-color="#ffffb0"/><stop offset="0.0837" stop-color="#ffff26"/><stop offset="0.0911" stop-color="#ffff08"/><stop offset="0.0936" stop-color="#ffff00"/><stop offset="0.1256" stop-color="#ffb600"/><stop offset="0.2586" stop-color="#ff9e00"/><stop offset="0.4138" stop-color="#ffb300"/><stop offset="0.6478" stop-color="#ffff03"/><stop offset="0.7315" stop-color="#ffff2a"/><stop offset="0.8867" stop-color="#ffff2a"/><stop offset="0.9163" stop-color="#ffff7b"/><stop offset="1.0000" stop-color="#ffff9b"/></linearGradient><linearGradient id="h54" gradientUnits="userSpaceOnUse" x1="378.70" x2="581.70" y1="0" y2="0"><stop offset="0.0000" stop-color="#ffffff"/><stop offset="0.0542" stop-color="#ffffff"/><stop offset="0.0567" stop-color="#fffffa"/><stop offset="0.0591" stop-color="#ffffd9"/><stop offset="0.0640" stop-color="#ffffb0"/><stop offset="0.0837" stop-color="#ffff26"/><stop offset="0.0911" stop-color="#ffff08"/><stop offset="0.0936" stop-color="#ffff00"/><stop offset="0.1256" stop-color="#ffb600"/><stop offset="0.2586" stop-color="#ff9e00"/><stop offset="0.4138" stop-color="#ffb300"/><stop offset="0.6478" stop-color="#ffff03"/><stop offset="0.7315" stop-color="#ffff2a"/><stop offset="0.9113" stop-color="#ffff2a"/><stop offset="0.9310" stop-color="#ffff60"/><stop offset="0.9409" stop-color="#ffff7b"/><stop offset="1.0000" stop-color="#ffff7b"/></linearGradient><linearGradient id="h55" gradientUnits="userSpaceOnUse" x1="378.70" x2="581.70" y1="0" y2="0"><stop offset="0.0000" stop-color="#ffffff"/><stop offset="0.0542" stop-color="#ffffff"/><stop offset="0.0567" stop-color="#fffffa"/><stop offset="0.0591" stop-color="#ffffd9"/><stop offset="0.0640" stop-color="#ffffb0"/><stop offset="0.0837" stop-color="#ffff26"/><stop offset="0.0911" stop-color="#ffff08"/><stop offset="0.0936" stop-color="#ffff00"/><stop offset="0.1256" stop-color="#ffb600"/><stop offset="0.2586" stop-color="#ff9e00"/><stop offset="0.4138" stop-color="#ffb300"/><stop offset="0.6478" stop-color="#ffff03"/><stop offset="0.7217" stop-color="#ffff25"/><stop offset="1.0000" stop-color="#ffff25"/></linearGradient><linearGradient id="h56" gradientUnits="userSpaceOnUse" x1="378.70" x2="581.70" y1="0" y2="0"><stop offset="0.0000" stop-color="#ffffff"/><stop offset="0.0567" stop-color="#ffffff"/><stop offset="0.0591" stop-color="#ffffe1"/><stop offset="0.0640" stop-color="#ffffb9"/><stop offset="0.0837" stop-color="#ffff2e"/><stop offset="0.0911" stop-color="#ffff10"/><stop offset="0.0961" stop-color="#fffe00"/><stop offset="0.1256" stop-color="#ffbc00"/><stop offset="0.2586" stop-color="#ffa400"/><stop offset="0.4138" stop-color="#ffb800"/><stop offset="0.5665" stop-color="#ffe900"/><stop offset="1.0000" stop-color="#ffe900"/></linearGradient><linearGradient id="h57" gradientUnits="userSpaceOnUse" x1="378.70" x2="581.70" y1="0" y2="0"><stop offset="0.0000" stop-color="#ffffff"/><stop offset="0.0591" stop-color="#ffffff"/><stop offset="0.0690" stop-color="#ffffbe"/><stop offset="0.0837" stop-color="#ffff56"/><stop offset="0.0911" stop-color="#ffff38"/><stop offset="0.1059" stop-color="#ffff05"/><stop offset="0.1108" stop-color="#fff700"/><stop offset="0.1256" stop-color="#ffd600"/><stop offset="0.2586" stop-color="#ffbe00"/><stop offset="0.3645" stop-color="#ffc400"/><stop offset="1.0000" stop-color="#ffc400"/></linearGradient><linearGradient id="h58" gradientUnits="userSpaceOnUse" x1="378.70" x2="581.70" y1="0" y2="0"><stop offset="0.0000" stop-color="#ffffff"/><stop offset="0.0690" stop-color="#ffffff"/><stop offset="0.0714" stop-color="#fffff5"/><stop offset="0.0837" stop-color="#ffff9f"/><stop offset="0.0911" stop-color="#ffff81"/><stop offset="0.1256" stop-color="#ffff0c"/><stop offset="0.1478" stop-color="#ffff05"/><stop offset="0.1527" stop-color="#fff900"/><stop offset="0.1749" stop-color="#ffcc00"/><stop offset="0.3103" stop-color="#ffaa00"/><stop offset="1.0000" stop-color="#ffaa00"/></linearGradient><linearGradient id="h59" gradientUnits="userSpaceOnUse" x1="378.70" x2="581.70" y1="0" y2="0"><stop offset="0.0000" stop-color="#ffffff"/><stop offset="0.0862" stop-color="#fffffc"/><stop offset="0.1034" stop-color="#ffffc0"/><stop offset="0.1158" stop-color="#ffff78"/><stop offset="0.1207" stop-color="#ffff40"/><stop offset="0.1232" stop-color="#ffff2a"/><stop offset="0.1281" stop-color="#ffff2a"/><stop offset="0.1429" stop-color="#fffd00"/><stop offset="0.1749" stop-color="#ffbc00"/><stop offset="0.3103" stop-color="#ff9a00"/><stop offset="1.0000" stop-color="#ff9a00"/></linearGradient><linearGradient id="h60" gradientUnits="userSpaceOnUse" x1="378.70" x2="581.70" y1="0" y2="0"><stop offset="0.0000" stop-color="#ffffff"/><stop offset="0.0936" stop-color="#ffffff"/><stop offset="0.0961" stop-color="#fffff4"/><stop offset="0.1010" stop-color="#ffffc7"/><stop offset="0.1232" stop-color="#ffff45"/><stop offset="0.1256" stop-color="#ffff2b"/><stop offset="0.1281" stop-color="#ffff28"/><stop offset="0.1330" stop-color="#ffff14"/><stop offset="0.1404" stop-color="#fffd00"/><stop offset="0.1749" stop-color="#ffb700"/><stop offset="0.3103" stop-color="#ff9500"/><stop offset="1.0000" stop-color="#ff9500"/></linearGradient><linearGradient id="h61" gradientUnits="userSpaceOnUse" x1="378.70" x2="581.70" y1="0" y2="0"><stop offset="0.0000" stop-color="#ffffff"/><stop offset="0.0936" stop-color="#ffffff"/><stop offset="0.0961" stop-color="#fffff4"/><stop offset="0.1010" stop-color="#ffffc7"/><stop offset="0.1305" stop-color="#ffff1b"/><stop offset="0.1404" stop-color="#fffd00"/><stop offset="0.1749" stop-color="#ffb700"/><stop offset="0.3103" stop-color="#ff9500"/><stop offset="1.0000" stop-color="#ff9500"/></linearGradient><linearGradient id="h62" gradientUnits="userSpaceOnUse" x1="378.70" x2="581.70" y1="0" y2="0"><stop offset="0.0000" stop-color="#ffffff"/><stop offset="0.0936" stop-color="#ffffff"/><stop offset="0.0961" stop-color="#fffff4"/><stop offset="0.1010" stop-color="#ffffc7"/><stop offset="0.1305" stop-color="#ffff1b"/><stop offset="0.1404" stop-color="#fffd00"/><stop offset="0.1749" stop-color="#ffb700"/><stop offset="0.3103" stop-color="#ff9500"/><stop offset="1.0000" stop-color="#ff9500"/></linearGradient><linearGradient id="h63" gradientUnits="userSpaceOnUse" x1="378.70" x2="581.70" y1="0" y2="0"><stop offset="0.0000" stop-color="#ffffff"/><stop offset="0.0936" stop-color="#ffffff"/><stop offset="0.0961" stop-color="#fffff4"/><stop offset="0.1010" stop-color="#ffffc7"/><stop offset="0.1305" stop-color="#ffff1b"/><stop offset="0.1404" stop-color="#fffd00"/><stop offset="0.1749" stop-color="#ffb700"/><stop offset="0.3103" stop-color="#ff9500"/><stop offset="1.0000" stop-color="#ff9500"/></linearGradient><linearGradient id="h64" gradientUnits="userSpaceOnUse" x1="378.70" x2="581.70" y1="0" y2="0"><stop offset="0.0000" stop-color="#ffffff"/><stop offset="0.0936" stop-color="#ffffff"/><stop offset="0.0961" stop-color="#fffff4"/><stop offset="0.1010" stop-color="#ffffc7"/><stop offset="0.1305" stop-color="#ffff1b"/><stop offset="0.1404" stop-color="#fffd00"/><stop offset="0.1749" stop-color="#ffb700"/><stop offset="0.3103" stop-color="#ff9500"/><stop offset="1.0000" stop-color="#ff9500"/></linearGradient><linearGradient id="h65" gradientUnits="userSpaceOnUse" x1="378.70" x2="581.70" y1="0" y2="0"><stop offset="0.0000" stop-color="#ffffff"/><stop offset="0.0936" stop-color="#ffffff"/><stop offset="0.0961" stop-color="#fffff4"/><stop offset="0.1010" stop-color="#ffffc7"/><stop offset="0.1305" stop-color="#ffff1b"/><stop offset="0.1404" stop-color="#fffd00"/><stop offset="0.1749" stop-color="#ffb700"/><stop offset="0.3103" stop-color="#ff9500"/><stop offset="1.0000" stop-color="#ff9500"/></linearGradient><linearGradient id="h66" gradientUnits="userSpaceOnUse" x1="378.70" x2="581.70" y1="0" y2="0"><stop offset="0.0000" stop-color="#ffffff"/><stop offset="0.0936" stop-color="#ffffff"/><stop offset="0.0961" stop-color="#fffff4"/><stop offset="0.1010" stop-color="#ffffc7"/><stop offset="0.1305" stop-color="#ffff1b"/><stop offset="0.1404" stop-color="#fffd00"/><stop offset="0.1749" stop-color="#ffb700"/><stop offset="0.3103" stop-color="#ff9500"/><stop offset="1.0000" stop-color="#ff9500"/></linearGradient><linearGradient id="h67" gradientUnits="userSpaceOnUse" x1="378.70" x2="581.70" y1="0" y2="0"><stop offset="0.0000" stop-color="#ffffff"/><stop offset="0.0985" stop-color="#ffffff"/><stop offset="0.1305" stop-color="#ffff44"/><stop offset="0.1330" stop-color="#ffff3d"/><stop offset="0.1355" stop-color="#ffff2d"/><stop offset="0.1429" stop-color="#ffff1f"/><stop offset="0.1527" stop-color="#ffff00"/><stop offset="0.1749" stop-color="#ffd200"/><stop offset="0.1872" stop-color="#ffcc00"/><stop offset="0.2020" stop-color="#ffb200"/><stop offset="0.3103" stop-color="#ff9000"/><stop offset="1.0000" stop-color="#ff8000"/></linearGradient><linearGradient id="h68" gradientUnits="userSpaceOnUse" x1="378.70" x2="581.70" y1="0" y2="0"><stop offset="0.0000" stop-color="#ffffff"/><stop offset="0.1084" stop-color="#ffffff"/><stop offset="0.1108" stop-color="#fffff7"/><stop offset="0.1158" stop-color="#ffffc8"/><stop offset="0.1305" stop-color="#ffff74"/><stop offset="0.1330" stop-color="#ffff5c"/><stop offset="0.1355" stop-color="#ffff3e"/><stop offset="0.1379" stop-color="#ffff2a"/><stop offset="0.1429" stop-color="#ffff2a"/><stop offset="0.1502" stop-color="#ffff03"/><stop offset="0.1773" stop-color="#ffcb00"/><stop offset="0.2020" stop-color="#ff9d00"/><stop offset="0.3103" stop-color="#ff7c00"/><stop offset="1.0000" stop-color="#ff6b00"/></linearGradient><linearGradient id="h69" gradientUnits="userSpaceOnUse" x1="378.70" x2="581.70" y1="0" y2="0"><stop offset="0.0000" stop-color="#ffffff"/><stop offset="0.1084" stop-color="#ffffff"/><stop offset="0.1108" stop-color="#fffff7"/><stop offset="0.1158" stop-color="#ffffc8"/><stop offset="0.1330" stop-color="#ffff66"/><stop offset="0.1355" stop-color="#ffff4f"/><stop offset="0.1379" stop-color="#ffff31"/><stop offset="0.1404" stop-color="#ffff2a"/><stop offset="0.1429" stop-color="#ffff2a"/><stop offset="0.1502" stop-color="#ffff03"/><stop offset="0.1773" stop-color="#ffcb00"/><stop offset="0.2020" stop-color="#ff9d00"/><stop offset="0.3103" stop-color="#ff7c00"/><stop offset="1.0000" stop-color="#ff6b00"/></linearGradient><linearGradient id="h70" gradientUnits="userSpaceOnUse" x1="378.70" x2="581.70" y1="0" y2="0"><stop offset="0.0000" stop-color="#ffffff"/><stop offset="0.1084" stop-color="#ffffff"/><stop offset="0.1108" stop-color="#fffff7"/><stop offset="0.1158" stop-color="#ffffc8"/><stop offset="0.1355" stop-color="#ffff57"/><stop offset="0.1404" stop-color="#ffff2a"/><stop offset="0.1429" stop-color="#ffff2a"/><stop offset="0.1502" stop-color="#ffff03"/><stop offset="0.1773" stop-color="#ffcb00"/><stop offset="0.2020" stop-color="#ff9d00"/><stop offset="0.3103" stop-color="#ff7c00"/><stop offset="1.0000" stop-color="#ff6b00"/></linearGradient><linearGradient id="h71" gradientUnits="userSpaceOnUse" x1="378.70" x2="581.70" y1="0" y2="0"><stop offset="0.0000" stop-color="#ffffff"/><stop offset="0.1084" stop-color="#ffffff"/><stop offset="0.1108" stop-color="#fffff7"/><stop offset="0.1158" stop-color="#ffffc8"/><stop offset="0.1379" stop-color="#ffff49"/><stop offset="0.1404" stop-color="#ffff36"/><stop offset="0.1502" stop-color="#ffff03"/><stop offset="0.1773" stop-color="#ffcb00"/><stop offset="0.2020" stop-color="#ff9d00"/><stop offset="0.3103" stop-color="#ff7c00"/><stop offset="1.0000" stop-color="#ff6b00"/></linearGradient><linearGradient id="h72" gradientUnits="userSpaceOnUse" x1="378.70" x2="581.70" y1="0" y2="0"><stop offset="0.0000" stop-color="#ffffff"/><stop offset="0.1084" stop-color="#ffffff"/><stop offset="0.1108" stop-color="#fffff7"/><stop offset="0.1158" stop-color="#ffffc8"/><stop offset="0.1404" stop-color="#ffff3b"/><stop offset="0.1429" stop-color="#ffff2a"/><stop offset="0.1502" stop-color="#ffff03"/><stop offset="0.1773" stop-color="#ffcb00"/><stop offset="0.2020" stop-color="#ff9d00"/><stop offset="0.3103" stop-color="#ff7c00"/><stop offset="1.0000" stop-color="#ff6b00"/></linearGradient><linearGradient id="h73" gradientUnits="userSpaceOnUse" x1="378.70" x2="581.70" y1="0" y2="0"><stop offset="0.0000" stop-color="#ffffff"/><stop offset="0.1256" stop-color="#ffffff"/><stop offset="0.1281" stop-color="#ffffee"/><stop offset="0.1429" stop-color="#ffff3b"/><stop offset="0.1453" stop-color="#ffff2a"/><stop offset="0.1798" stop-color="#ffff28"/><stop offset="0.1921" stop-color="#ffff03"/><stop offset="0.2020" stop-color="#fff000"/><stop offset="0.3103" stop-color="#ffcf00"/><stop offset="1.0000" stop-color="#ffbf00"/></linearGradient><linearGradient id="h74" gradientUnits="userSpaceOnUse" x1="378.70" x2="581.70" y1="0" y2="0"><stop offset="0.0000" stop-color="#ffffff"/><stop offset="0.1256" stop-color="#ffffff"/><stop offset="0.1281" stop-color="#fffff7"/><stop offset="0.1429" stop-color="#ffff44"/><stop offset="0.1453" stop-color="#ffff2a"/><stop offset="1.0000" stop-color="#ffff2a"/></linearGradient><linearGradient id="h75" gradientUnits="userSpaceOnUse" x1="378.70" x2="581.70" y1="0" y2="0"><stop offset="0.0000" stop-color="#ffffff"/><stop offset="0.1872" stop-color="#ffffff"/><stop offset="0.2044" stop-color="#ffffd3"/><stop offset="0.2685" stop-color="#ffff5b"/><stop offset="0.3522" stop-color="#ffff06"/><stop offset="0.4015" stop-color="#fffb00"/><stop offset="0.6330" stop-color="#ffd700"/><stop offset="1.0000" stop-color="#ffc000"/></linearGradient><linearGradient id="h76" gradientUnits="userSpaceOnUse" x1="378.70" x2="581.70" y1="0" y2="0"><stop offset="0.0000" stop-color="#ffffff"/><stop offset="0.1330" stop-color="#ffffff"/><stop offset="0.1355" stop-color="#fffff7"/><stop offset="0.1404" stop-color="#ffffc3"/><stop offset="0.2020" stop-color="#ffff1d"/><stop offset="0.2167" stop-color="#ffff01"/><stop offset="0.2709" stop-color="#ffbd00"/><stop offset="0.3547" stop-color="#ff8600"/><stop offset="0.6305" stop-color="#ff5b00"/><stop offset="1.0000" stop-color="#ff4400"/></linearGradient><linearGradient id="h77" gradientUnits="userSpaceOnUse" x1="378.70" x2="581.70" y1="0" y2="0"><stop offset="0.0000" stop-color="#ffffff"/><stop offset="0.1330" stop-color="#ffffff"/><stop offset="0.1404" stop-color="#ffffb3"/><stop offset="0.2020" stop-color="#ffff0d"/><stop offset="0.2094" stop-color="#fffe00"/><stop offset="0.2685" stop-color="#ffb400"/><stop offset="0.3547" stop-color="#ff7b00"/><stop offset="0.6305" stop-color="#ff5000"/><stop offset="1.0000" stop-color="#ff3900"/></linearGradient><linearGradient id="h78" gradientUnits="userSpaceOnUse" x1="378.70" x2="581.70" y1="0" y2="0"><stop offset="0.0000" stop-color="#ffffff"/><stop offset="0.1330" stop-color="#ffffff"/><stop offset="0.1404" stop-color="#ffffb3"/><stop offset="0.2020" stop-color="#ffff0d"/><stop offset="0.2094" stop-color="#fffe00"/><stop offset="0.2685" stop-color="#ffb400"/><stop offset="0.3547" stop-color="#ff7b00"/><stop offset="0.6305" stop-color="#ff5000"/><stop offset="1.0000" stop-color="#ff3900"/></linearGradient><linearGradient id="h79" gradientUnits="userSpaceOnUse" x1="378.70" x2="581.70" y1="0" y2="0"><stop offset="0.0000" stop-color="#ffffff"/><stop offset="0.1330" stop-color="#ffffff"/><stop offset="0.1404" stop-color="#ffffb3"/><stop offset="0.2020" stop-color="#ffff0d"/><stop offset="0.2094" stop-color="#fffe00"/><stop offset="0.2685" stop-color="#ffb400"/><stop offset="0.3547" stop-color="#ff7b00"/><stop offset="0.6305" stop-color="#ff5000"/><stop offset="1.0000" stop-color="#ff3900"/></linearGradient><linearGradient id="h80" gradientUnits="userSpaceOnUse" x1="378.70" x2="581.70" y1="0" y2="0"><stop offset="0.0000" stop-color="#ffffff"/><stop offset="0.1330" stop-color="#ffffff"/><stop offset="0.1404" stop-color="#ffffb3"/><stop offset="0.2020" stop-color="#ffff0d"/><stop offset="0.2094" stop-color="#fffe00"/><stop offset="0.2685" stop-color="#ffb400"/><stop offset="0.3547" stop-color="#ff7b00"/><stop offset="0.6305" stop-color="#ff5000"/><stop offset="1.0000" stop-color="#ff3900"/></linearGradient><linearGradient id="h81" gradientUnits="userSpaceOnUse" x1="378.70" x2="581.70" y1="0" y2="0"><stop offset="0.0000" stop-color="#ffffff"/><stop offset="0.1330" stop-color="#ffffff"/><stop offset="0.1404" stop-color="#ffffb3"/><stop offset="0.2020" stop-color="#ffff0d"/><stop offset="0.2094" stop-color="#fffe00"/><stop offset="0.2685" stop-color="#ffb400"/><stop offset="0.3547" stop-color="#ff7b00"/><stop offset="0.6305" stop-color="#ff5000"/><stop offset="1.0000" stop-color="#ff3900"/></linearGradient><linearGradient id="h82" gradientUnits="userSpaceOnUse" x1="378.70" x2="581.70" y1="0" y2="0"><stop offset="0.0000" stop-color="#ffffff"/><stop offset="0.1576" stop-color="#ffffff"/><stop offset="0.2044" stop-color="#ffff85"/><stop offset="0.2685" stop-color="#ffff0d"/><stop offset="0.2833" stop-color="#fffd00"/><stop offset="0.3547" stop-color="#ffcf00"/><stop offset="0.6305" stop-color="#ffa400"/><stop offset="1.0000" stop-color="#ff8d00"/></linearGradient><linearGradient id="h83" gradientUnits="userSpaceOnUse" x1="378.70" x2="581.70" y1="0" y2="0"><stop offset="0.0000" stop-color="#ffffff"/><stop offset="0.5616" stop-color="#fffffc"/><stop offset="0.6379" stop-color="#ffffef"/><stop offset="1.0000" stop-color="#ffffcd"/></linearGradient><linearGradient id="h84" gradientUnits="userSpaceOnUse" x1="378.70" x2="581.70" y1="0" y2="0"><stop offset="0.0000" stop-color="#ffffff"/><stop offset="0.5049" stop-color="#fffffd"/><stop offset="0.6133" stop-color="#ffffc9"/><stop offset="1.0000" stop-color="#ffff68"/></linearGradient><linearGradient id="h85" gradientUnits="userSpaceOnUse" x1="378.70" x2="581.70" y1="0" y2="0"><stop offset="0.0000" stop-color="#ffffff"/><stop offset="0.1897" stop-color="#ffffff"/><stop offset="0.2685" stop-color="#ffff4d"/><stop offset="0.3054" stop-color="#ffff00"/><stop offset="0.3251" stop-color="#fff000"/><stop offset="0.4655" stop-color="#ffa800"/><stop offset="0.6207" stop-color="#ff7800"/><stop offset="1.0000" stop-color="#ff3800"/></linearGradient><linearGradient id="h86" gradientUnits="userSpaceOnUse" x1="378.70" x2="581.70" y1="0" y2="0"><stop offset="0.0000" stop-color="#ffffff"/><stop offset="0.1724" stop-color="#ffffff"/><stop offset="0.1749" stop-color="#ffffee"/><stop offset="0.1798" stop-color="#ffffb6"/><stop offset="0.2562" stop-color="#ffff04"/><stop offset="0.2685" stop-color="#fff000"/><stop offset="0.3128" stop-color="#ffb500"/><stop offset="0.4655" stop-color="#ff6600"/><stop offset="0.6207" stop-color="#ff3500"/><stop offset="0.9581" stop-color="#fc0000"/><stop offset="1.0000" stop-color="#f50000"/></linearGradient><linearGradient id="h87" gradientUnits="userSpaceOnUse" x1="378.70" x2="581.70" y1="0" y2="0"><stop offset="0.0000" stop-color="#ffffff"/><stop offset="0.1724" stop-color="#ffffff"/><stop offset="0.1749" stop-color="#ffffee"/><stop offset="0.1798" stop-color="#ffffb6"/><stop offset="0.2562" stop-color="#ffff04"/><stop offset="0.2685" stop-color="#fff000"/><stop offset="0.3128" stop-color="#ffb500"/><stop offset="0.4655" stop-color="#ff6600"/><stop offset="0.6207" stop-color="#ff3500"/><stop offset="0.9581" stop-color="#fc0000"/><stop offset="1.0000" stop-color="#f50000"/></linearGradient><linearGradient id="h88" gradientUnits="userSpaceOnUse" x1="378.70" x2="581.70" y1="0" y2="0"><stop offset="0.0000" stop-color="#ffffff"/><stop offset="0.1724" stop-color="#ffffff"/><stop offset="0.1749" stop-color="#ffffee"/><stop offset="0.1798" stop-color="#ffffb6"/><stop offset="0.2562" stop-color="#ffff04"/><stop offset="0.2685" stop-color="#fff000"/><stop offset="0.3128" stop-color="#ffb500"/><stop offset="0.4655" stop-color="#ff6600"/><stop offset="0.6207" stop-color="#ff3500"/><stop offset="0.9581" stop-color="#fc0000"/><stop offset="1.0000" stop-color="#f50000"/></linearGradient><linearGradient id="h89" gradientUnits="userSpaceOnUse" x1="378.70" x2="581.70" y1="0" y2="0"><stop offset="0.0000" stop-color="#ffffff"/><stop offset="0.1724" stop-color="#ffffff"/><stop offset="0.1749" stop-color="#fffff4"/><stop offset="0.1798" stop-color="#ffffbc"/><stop offset="0.2611" stop-color="#ffff00"/><stop offset="0.3128" stop-color="#ffb900"/><stop offset="0.4655" stop-color="#ff6a00"/><stop offset="0.6207" stop-color="#ff3a00"/><stop offset="0.9828" stop-color="#fc0000"/><stop offset="1.0000" stop-color="#f90000"/></linearGradient><linearGradient id="h90" gradientUnits="userSpaceOnUse" x1="378.70" x2="581.70" y1="0" y2="0"><stop offset="0.0000" stop-color="#ffffff"/><stop offset="0.2438" stop-color="#fffffe"/><stop offset="0.3103" stop-color="#ffff72"/><stop offset="0.4532" stop-color="#ffff00"/><stop offset="0.6182" stop-color="#ffcb00"/><stop offset="1.0000" stop-color="#ff8b00"/></linearGradient><linearGradient id="h91" gradientUnits="userSpaceOnUse" x1="378.70" x2="581.70" y1="0" y2="0"><stop offset="0.0000" stop-color="#ffffff"/><stop offset="0.4483" stop-color="#fffffe"/><stop offset="0.6084" stop-color="#ffffa1"/><stop offset="1.0000" stop-color="#ffff32"/></linearGradient><linearGradient id="h92" gradientUnits="userSpaceOnUse" x1="378.70" x2="581.70" y1="0" y2="0"><stop offset="0.0000" stop-color="#ffffff"/><stop offset="0.2266" stop-color="#fffffc"/><stop offset="0.3030" stop-color="#ffff59"/><stop offset="0.3695" stop-color="#ffff00"/><stop offset="0.4532" stop-color="#ffad00"/><stop offset="0.6158" stop-color="#ff7100"/><stop offset="1.0000" stop-color="#ff2900"/></linearGradient><linearGradient id="h93" gradientUnits="userSpaceOnUse" x1="378.70" x2="581.70" y1="0" y2="0"><stop offset="0.0000" stop-color="#ffffff"/><stop offset="0.2167" stop-color="#ffffff"/><stop offset="0.2192" stop-color="#fffff5"/><stop offset="0.2241" stop-color="#ffffbd"/><stop offset="0.2266" stop-color="#ffffb0"/><stop offset="0.3030" stop-color="#ffff0d"/><stop offset="0.3153" stop-color="#fffc00"/><stop offset="0.4236" stop-color="#ff9600"/><stop offset="0.4557" stop-color="#ff7a00"/><stop offset="0.6158" stop-color="#ff3e00"/><stop offset="0.9631" stop-color="#fc0000"/><stop offset="1.0000" stop-color="#f50000"/></linearGradient><linearGradient id="h94" gradientUnits="userSpaceOnUse" x1="378.70" x2="581.70" y1="0" y2="0"><stop offset="0.0000" stop-color="#ffffff"/><stop offset="0.2167" stop-color="#ffffff"/><stop offset="0.2192" stop-color="#fffff5"/><stop offset="0.2241" stop-color="#ffffbd"/><stop offset="0.2266" stop-color="#ffffb0"/><stop offset="0.3030" stop-color="#ffff0d"/><stop offset="0.3153" stop-color="#fffc00"/><stop offset="0.4236" stop-color="#ff9600"/><stop offset="0.4557" stop-color="#ff7a00"/><stop offset="0.6158" stop-color="#ff3e00"/><stop offset="0.9631" stop-color="#fc0000"/><stop offset="1.0000" stop-color="#f50000"/></linearGradient><linearGradient id="h95" gradientUnits="userSpaceOnUse" x1="378.70" x2="581.70" y1="0" y2="0"><stop offset="0.0000" stop-color="#ffffff"/><stop offset="0.2167" stop-color="#ffffff"/><stop offset="0.2192" stop-color="#fffff5"/><stop offset="0.2241" stop-color="#ffffbd"/><stop offset="0.2266" stop-color="#ffffb0"/><stop offset="0.3030" stop-color="#ffff0d"/><stop offset="0.3153" stop-color="#fffc00"/><stop offset="0.4236" stop-color="#ff9600"/><stop offset="0.4557" stop-color="#ff7a00"/><stop offset="0.6158" stop-color="#ff3e00"/><stop offset="0.9631" stop-color="#fc0000"/><stop offset="1.0000" stop-color="#f50000"/></linearGradient><linearGradient id="h96" gradientUnits="userSpaceOnUse" x1="378.70" x2="581.70" y1="0" y2="0"><stop offset="0.0000" stop-color="#ffffff"/><stop offset="0.2167" stop-color="#ffffff"/><stop offset="0.2192" stop-color="#fffff7"/><stop offset="0.2241" stop-color="#ffffbf"/><stop offset="0.2266" stop-color="#ffffb2"/><stop offset="0.3030" stop-color="#ffff0e"/><stop offset="0.3153" stop-color="#fffd00"/><stop offset="0.4236" stop-color="#ff9700"/><stop offset="0.4557" stop-color="#ff7b00"/><stop offset="0.6158" stop-color="#ff3f00"/><stop offset="0.9680" stop-color="#fc0000"/><stop offset="1.0000" stop-color="#f60000"/></linearGradient><linearGradient id="h97" gradientUnits="userSpaceOnUse" x1="378.70" x2="581.70" y1="0" y2="0"><stop offset="0.0000" stop-color="#ffffff"/><stop offset="0.2759" stop-color="#ffffff"/><stop offset="0.3030" stop-color="#ffffc8"/><stop offset="0.3990" stop-color="#ffff43"/><stop offset="0.4458" stop-color="#fffd00"/><stop offset="0.6133" stop-color="#ffbc00"/><stop offset="1.0000" stop-color="#ff7300"/></linearGradient><linearGradient id="cbg" x1="0" x2="1" y1="0" y2="0"><stop offset="0.000" stop-color="#ffffff"/><stop offset="0.254" stop-color="#ffff00"/><stop offset="0.635" stop-color="#ff0000"/><stop offset="1.000" stop-color="#0b0000"/></linearGradient></defs><rect x="378.70" y="299" width="203.00" height="1" fill="url(#h0)"/><rect x="378.70" y="300" width="203.00" height="1" fill="url(#h1)"/><rect x="378.70" y="301" width="203.00" height="1" fill="url(#h2)"/><rect x="378.70" y="302" width="203.00" height="1" fill="url(#h3)"/><rect x="378.70" y="303" width="203.00" height="1" fill="url(#h4)"/><rect x="378.70" y="311" width="203.00" height="1" fill="url(#h5)"/><rect x="378.70" y="312" width="203.00" height="1" fill="url(#h6)"/><rect x="378.70" y="313" width="203.00" height="1" fill="url(#h7)"/><rect x="378.70" y="314" width="203.00" height="1" fill="url(#h8)"/><rect x="378.70" y="315" width="203.00" height="1" fill="url(#h9)"/><rect x="378.70" y="316" width="203.00" height="1" fill="url(#h10)"/><rect x="378.70" y="317" width="203.00" height="1" fill="url(#h11)"/><rect x="378.70" y="318" width="203.00" height="1" fill="url(#h12)"/><rect x="378.70" y="319" width="203.00" height="1" fill="url(#h13)"/><rect x="378.70" y="320" width="203.00" height="1" fill="url(#h14)"/><rect x="378.70" y="321" width="203.00" height="1" fill="url(#h15)"/><rect x="378.70" y="322" width="203.00" height="1" fill="url(#h16)"/><rect x="378.70" y="323" width="203.00" height="1" fill="url(#h17)"/><rect x="378.70" y="324" width="203.00" height="1" fill="url(#h18)"/><rect x="378.70" y="325" width="203.00" height="1" fill="url(#h19)"/><rect x="378.70" y="326" width="203.00" height="1" fill="url(#h20)"/><rect x="378.70" y="327" width="203.00" height="1" fill="url(#h21)"/><rect x="378.70" y="328" width="203.00" height="1" fill="url(#h22)"/><rect x="378.70" y="329" width="203.00" height="1" fill="url(#h23)"/><rect x="378.70" y="330" width="203.00" height="1" fill="url(#h24)"/><rect x="378.70" y="331" width="203.00" height="1" fill="url(#h25)"/><rect x="378.70" y="332" width="203.00" height="1" fill="url(#h26)"/><rect x="378.70" y="333" width="203.00" height="1" fill="url(#h27)"/><rect x="378.70" y="334" width="203.00" height="1" fill="url(#h28)"/><rect x="378.70" y="335" width="203.00" height="1" fill="url(#h29)"/><rect x="378.70" y="336" width="203.00" height="1" fill="url(#h30)"/><rect x="378.70" y="337" width="203.00" height="1" fill="url(#h31)"/><rect x="378.70" y="338" width="203.00" height="1" fill="url(#h32)"/><rect x="378.70" y="339" width="203.00" height="1" fill="url(#h33)"/><rect x="378.70" y="340" width="203.00" height="1" fill="url(#h34)"/><rect x="378.70" y="341" width="203.00" height="1" fill="url(#h35)"/><rect x="378.70" y="342" width="203.00" height="1" fill="url(#h36)"/><rect x="378.70" y="343" width="203.00" height="1" fill="url(#h37)"/><rect x="378.70" y="344" width="203.00" height="1" fill="url(#h38)"/><rect x="378.70" y="345" width="203.00" height="1" fill="url(#h39)"/><rect x="378.70" y="346" width="203.00" height="1" fill="url(#h40)"/><rect x="378.70" y="347" width="203.00" height="1" fill="url(#h41)"/><rect x="378.70" y="348" width="203.00" height="1" fill="url(#h42)"/><rect x="378.70" y="349" width="203.00" height="1" fill="url(#h43)"/><rect x="378.70" y="350" width="203.00" height="1" fill="url(#h44)"/><rect x="378.70" y="351" width="203.00" height="1" fill="url(#h45)"/><rect x="378.70" y="352" width="203.00" height="1" fill="url(#h46)"/><rect x="378.70" y="353" width="203.00" height="1" fill="url(#h47)"/><rect x="378.70" y="354" width="203.00" height="1" fill="url(#h48)"/><rect x="378.70" y="355" width="203.00" height="1" fill="url(#h49)"/><rect x="378.70" y="356" width="203.00" height="1" fill="url(#h50)"/><rect x="378.70" y="357" width="203.00" height="1" fill="url(#h51)"/><rect x="378.70" y="358" width="203.00" height="1" fill="url(#h52)"/><rect x="378.70" y="359" width="203.00" height="1" fill="url(#h53)"/><rect x="378.70" y="360" width="203.00" height="1" fill="url(#h54)"/><rect x="378.70" y="361" width="203.00" height="1" fill="url(#h55)"/><rect x="378.70" y="362" width="203.00" height="1" fill="url(#h56)"/><rect x="378.70" y="363" width="203.00" height="1" fill="url(#h57)"/><rect x="378.70" y="364" width="203.00" height="1" fill="url(#h58)"/><rect x="378.70" y="365" width="203.00" height="1" fill="url(#h59)"/><rect x="378.70" y="366" width="203.00" height="1" fill="url(#h60)"/><rect x="378.70" y="367" width="203.00" height="1" fill="url(#h61)"/><rect x="378.70" y="368" width="203.00" height="1" fill="url(#h62)"/><rect x="378.70" y="369" width="203.00" height="1" fill="url(#h63)"/><rect x="378.70" y="370" width="203.00" height="1" fill="url(#h64)"/><rect x="378.70" y="371" width="203.00" height="1" fill="url(#h65)"/><rect x="378.70" y="372" width="203.00" height="1" fill="url(#h66)"/><rect x="378.70" y="373" width="203.00" height="1" fill="url(#h67)"/><rect x="378.70" y="374" width="203.00" height="1" fill="url(#h68)"/><rect x="378.70" y="375" width="203.00" height="1" fill="url(#h69)"/><rect x="378.70" y="376" width="203.00" height="1" fill="url(#h70)"/><rect x="378.70" y="377" width="203.00" height="1" fill="url(#h71)"/><rect x="378.70" y="378" width="203.00" height="1" fill="url(#h72)"/><rect x="378.70" y="379" width="203.00" height="1" fill="url(#h73)"/><rect x="378.70" y="380" width="203.00" height="1" fill="url(#h74)"/><rect x="378.70" y="383" width="203.00" height="1" fill="url(#h75)"/><rect x="378.70" y="384" width="203.00" height="1" fill="url(#h76)"/><rect x="378.70" y="385" width="203.00" height="1" fill="url(#h77)"/><rect x="378.70" y="386" width="203.00" height="1" fill="url(#h78)"/><rect x="378.70" y="387" width="203.00" height="1" fill="url(#h79)"/><rect x="378.70" y="388" width="203.00" height="1" fill="url(#h80)"/><rect x="378.70" y="389" width="203.00" height="1" fill="url(#h81)"/><rect x="378.70" y="390" width="203.00" height="1" fill="url(#h82)"/><rect x="378.70" y="391" width="203.00" height="1" fill="url(#h83)"/><rect x="378.70" y="393" width="203.00" height="1" fill="url(#h84)"/><rect x="378.70" y="394" width="203.00" height="1" fill="url(#h85)"/><rect x="378.70" y="395" width="203.00" height="1" fill="url(#h86)"/><rect x="378.70" y="396" width="203.00" height="1" fill="url(#h87)"/><rect x="378.70" y="397" width="203.00" height="1" fill="url(#h88)"/><rect x="378.70" y="398" width="203.00" height="1" fill="url(#h89)"/><rect x="378.70" y="399" width="203.00" height="1" fill="url(#h90)"/><rect x="378.70" y="404" width="203.00" height="1" fill="url(#h91)"/><rect x="378.70" y="405" width="203.00" height="1" fill="url(#h92)"/><rect x="378.70" y="406" width="203.00" height="1" fill="url(#h93)"/><rect x="378.70" y="407" width="203.00" height="1" fill="url(#h94)"/><rect x="378.70" y="408" width="203.00" height="1" fill="url(#h95)"/><rect x="378.70" y="409" width="203.00" height="1" fill="url(#h96)"/><rect x="378.70" y="410" width="203.00" height="1" fill="url(#h97)"/><rect x="468.50" y="303.00" width="101.50" height="8.00" fill="url(#cbg)"/></svg>
<svg width="600" height="451" viewBox="0 0 600 451" version="1.1">
 <defs>
  <style type="text/css">*{stroke-linejoin: round; stroke-linecap: butt}</style>
 </defs>
 <g id="figure_1">
  <g id="patch_1">
   <path d="M 0 451 
L 600 451 
L 600 0 
L 0 0 
L 0 451 
z
" style="fill: none; opacity: 0"/>
  </g>
  <g id="axes_1">
   <g id="patch_2">
    <path d="M 60.3 148.1 
L 156.7 148.1 
L 156.7 22.3 
L 60.3 22.3 
L 60.3 148.1 
z
" style="fill: none; opacity: 0"/>
   </g>
   <g id="line2d_1">
    <path d="M 79.58 148.1 
L 79.58 22.3 
" clip-path="url(#p44844f4a24)" style="fill: none; stroke-dasharray: 1.98,1.44; stroke-dashoffset: 0; stroke: #9a9a9a; stroke-width: 0.9"/>
   </g>
   <g id="line2d_2">
    <path d="M 108.5 148.1 
L 108.5 22.3 
" clip-path="url(#p44844f4a24)" style="fill: none; stroke-dasharray: 1.98,1.44; stroke-dashoffset: 0; stroke: #9a9a9a; stroke-width: 0.9"/>
   </g>
   <g id="line2d_3">
    <path d="M 137.42 148.1 
L 137.42 22.3 
" clip-path="url(#p44844f4a24)" style="fill: none; stroke-dasharray: 1.98,1.44; stroke-dashoffset: 0; stroke: #9a9a9a; stroke-width: 0.9"/>
   </g>
   <g id="line2d_4">
    <path d="M 67.328847 -1 
L 79.58 141.111111 
L 81.508 121.393168 
L 83.436 103.930157 
L 85.283667 89.205241 
L 87.051 76.86576 
L 88.738 66.593278 
L 90.344667 58.101507 
L 91.951333 50.79602 
L 93.477667 44.886741 
L 94.923667 40.154467 
L 96.289333 36.405935 
L 97.655 33.306642 
L 98.940333 30.936408 
L 100.145333 29.155214 
L 101.350333 27.761509 
L 102.555333 26.71522 
L 103.760333 25.974173 
L 104.965333 25.493499 
L 106.331 25.202014 
L 108.018 25.09739 
L 110.508333 25.18204 
L 111.874 25.446528 
L 113.079 25.896056 
L 114.203667 26.543984 
L 115.328333 27.450228 
L 116.453 28.649532 
L 117.577667 30.174942 
L 118.782667 32.20714 
L 119.987667 34.687503 
L 121.273 37.867932 
L 122.558333 41.641905 
L 123.924 46.348191 
L 125.37 52.165762 
L 126.896333 59.297853 
L 128.422667 67.510511 
L 130.029333 77.390947 
L 131.716333 89.205241 
L 133.483667 103.249792 
L 135.251 119.089289 
L 137.098667 137.66343 
L 137.42 141.111111 
L 149.671153 -1 
L 149.671153 -1 
" clip-path="url(#p44844f4a24)" style="fill: none; stroke: #bcbcbc; stroke-width: 1.15; stroke-linecap: square"/>
   </g>
   <g id="matplotlib.axis_1">
    <g id="xtick_1">
     <g id="line2d_5">
      <defs>
       <path id="m8d3a855a7b" d="M 0 0 
L 0 3.5 
" style="stroke: #000000"/>
      </defs>
      <g>
       <use href="#m8d3a855a7b" x="60.3" y="148.1" style="stroke: #000000"/>
      </g>
     </g>
     <g id="text_1">
      <text style="font-size: 10px; font-family: 'DejaVu Sans'; text-anchor: middle" x="60.3" y="163.198438" transform="rotate(-0 60.3 163.198438)">S</text>
     </g>
    </g>
    <g id="xtick_2">
     <g id="line2d_6">
      <g>
       <use href="#m8d3a855a7b" x="79.58" y="148.1" style="stroke: #000000"/>
      </g>
     </g>
     <g id="text_2">
      <text style="font-size: 10px; font-family: 'DejaVu Sans'; text-anchor: middle" x="79.58" y="163.198438" transform="rotate(-0 79.58 163.198438)">K</text>
     </g>
    </g>
    <g id="xtick_3">
     <g id="line2d_7">
      <g>
       <use href="#m8d3a855a7b" x="108.5" y="148.1" style="stroke: #000000"/>
      </g>
     </g>
     <g id="text_3">
      <text style="font-size: 10px; font-family: 'DejaVu Sans'; text-anchor: middle" x="108.5" y="163.198438" transform="rotate(-0 108.5 163.198438)">M</text>
     </g>
    </g>
    <g id="xtick_4">
     <g id="line2d_8">
      <g>
       <use href="#m8d3a855a7b" x="137.42" y="148.1" style="stroke: #000000"/>
      </g>
     </g>
     <g id="text_4">
      <text style="font-size: 10px; font-family: 'DejaVu Sans'; text-anchor: middle" x="137.42" y="163.198438" transform="rotate(-0 137.42 163.198438)">K'</text>
     </g>
    </g>
    <g id="xtick_5">
     <g id="line2d_9">
      <g>
       <use href="#m8d3a855a7b" x="156.7" y="148.1" style="stroke: #000000"/>
      </g>
     </g>
     <g id="text_5">
      <text style="font-size: 10px; font-family: 'DejaVu Sans'; text-anchor: middle" x="156.7" y="163.198438" transform="rotate(-0 156.7 163.198438)">S'</text>
     </g>
    </g>
   </g>
   <g id="matplotlib.axis_2">
    <g id="ytick_1">
     <g id="line2d_10">
      <defs>
       <path id="me4d9d56b5a" d="M 0 0 
L -3.5 0 
" style="stroke: #000000"/>
      </defs>
      <g>
       <use href="#me4d9d56b5a" x="60.3" y="141.111111" style="stroke: #000000"/>
      </g>
     </g>
     <g id="text_6">
      <text style="font-size: 10px; font-family: 'DejaVu Sans'; text-anchor: end" x="53.3" y="144.91033" transform="rotate(-0 53.3 144.91033)">0.0</text>
     </g>
    </g>
    <g id="ytick_2">
     <g id="line2d_11">
      <g>
       <use href="#me4d9d56b5a" x="60.3" y="106.166667" style="stroke: #000000"/>
      </g>
     </g>
     <g id="text_7">
      <text style="font-size: 10px; font-family: 'DejaVu Sans'; text-anchor: end" x="53.3" y="109.965885" transform="rotate(-0 53.3 109.965885)">0.5</text>
     </g>
    </g>
    <g id="ytick_3">
     <g id="line2d_12">
      <g>
       <use href="#me4d9d56b5a" x="60.3" y="71.222222" style="stroke: #000000"/>
      </g>
     </g>
     <g id="text_8">
      <text style="font-size: 10px; font-family: 'DejaVu Sans'; text-anchor: end" x="53.3" y="75.021441" transform="rotate(-0 53.3 75.021441)">1.0</text>
     </g>
    </g>
    <g id="ytick_4">
     <g id="line2d_13">
      <g>
       <use href="#me4d9d56b5a" x="60.3" y="36.277778" style="stroke: #000000"/>
      </g>
     </g>
     <g id="text_9">
      <text style="font-size: 10px; font-family: 'DejaVu Sans'; text-anchor: end" x="53.3" y="40.076997" transform="rotate(-0 53.3 40.076997)">1.5</text>
     </g>
    </g>
    <g id="text_10">
     <text style="font-size: 10.5px; font-family: 'DejaVu Sans'; text-anchor: middle" x="31.713203" y="85.2" transform="rotate(-90 31.713203 85.2)">Energy (eV)</text>
    </g>
   </g>
   <g id="patch_3">
    <path d="M 60.3 148.1 
L 60.3 22.3 
" style="fill: none; stroke: #222222; stroke-width: 1.1; stroke-linejoin: miter; stroke-linecap: square"/>
   </g>
   <g id="patch_4">
    <path d="M 156.7 148.1 
L 156.7 22.3 
" style="fill: none; stroke: #222222; stroke-width: 1.1; stroke-linejoin: miter; stroke-linecap: square"/>
   </g>
   <g id="patch_5">
    <path d="M 60.3 148.1 
L 156.7 148.1 
" style="fill: none; stroke: #222222; stroke-width: 1.1; stroke-linejoin: miter; stroke-linecap: square"/>
   </g>
   <g id="patch_6">
    <path d="M 60.3 22.3 
L 156.7 22.3 
" style="fill: none; stroke: #222222; stroke-width: 1.1; stroke-linejoin: miter; stroke-linecap: square"/>
   </g>
   <g id="PathCollection_1">
    <defs>
     <path id="C0_0_6bc16225f0" d="M 0 2.915476 
C 0.773193 2.915476 1.514823 2.608283 2.061553 2.061553 
C 2.608283 1.514823 2.915476 0.773193 2.915476 -0 
C 2.915476 -0.773193 2.608283 -1.514823 2.061553 -2.061553 
C 1.514823 -2.608283 0.773193 -2.915476 0 -2.915476 
C -0.773193 -2.915476 -1.514823 -2.608283 -2.061553 -2.061553 
C -2.608283 -1.514823 -2.915476 -0.773193 -2.915476 0 
C -2.915476 0.773193 -2.608283 1.514823 -2.061553 2.061553 
C -1.514823 2.608283 -0.773193 2.915476 0 2.915476 
z
"/>
    </defs>
    <g clip-path="url(#p44844f4a24)">
     <use href="#C0_0_6bc16225f0" x="72.6874" y="71.222222" style="fill: #eb0d0d; fill-opacity: 0.92"/>
    </g>
    <g clip-path="url(#p44844f4a24)">
     <use href="#C0_0_6bc16225f0" x="74.4226" y="71.222222" style="fill: #eb0d0d; fill-opacity: 0.92"/>
    </g>
   </g>
   <g id="text_11">
    <text style="font-size: 13px; font-family: 'DejaVu Sans'; text-anchor: middle" x="108.5" y="16.3" transform="rotate(-0 108.5 16.3)">0.0 ps</text>
   </g>
  </g>
  <g id="axes_2">
   <g id="patch_7">
    <path d="M 166.5 148.1 
L 262.9 148.1 
L 262.9 22.3 
L 166.5 22.3 
L 166.5 148.1 
z
" style="fill: none; opacity: 0"/>
   </g>
   <g id="line2d_14">
    <path d="M 185.78 148.1 
L 185.78 22.3 
" clip-path="url(#pb991e767cc)" style="fill: none; stroke-dasharray: 1.98,1.44; stroke-dashoffset: 0; stroke: #9a9a9a; stroke-width: 0.9"/>
   </g>
   <g id="line2d_15">
    <path d="M 214.7 148.1 
L 214.7 22.3 
" clip-path="url(#pb991e767cc)" style="fill: none; stroke-dasharray: 1.98,1.44; stroke-dashoffset: 0; stroke: #9a9a9a; stroke-width: 0.9"/>
   </g>
   <g id="line2d_16">
    <path d="M 243.62 148.1 
L 243.62 22.3 
" clip-path="url(#pb991e767cc)" style="fill: none; stroke-dasharray: 1.98,1.44; stroke-dashoffset: 0; stroke: #9a9a9a; stroke-width: 0.9"/>
   </g>
   <g id="line2d_17">
    <path d="M 173.528847 -1 
L 185.78 141.111111 
L 187.708 121.393168 
L 189.636 103.930157 
L 191.483667 89.205241 
L 193.251 76.86576 
L 194.938 66.593278 
L 196.544667 58.101507 
L 198.151333 50.79602 
L 199.677667 44.886741 
L 201.123667 40.154467 
L 202.489333 36.405935 
L 203.855 33.306642 
L 205.140333 30.936408 
L 206.345333 29.155214 
L 207.550333 27.761509 
L 208.755333 26.71522 
L 209.960333 25.974173 
L 211.165333 25.493499 
L 212.531 25.202014 
L 214.218 25.09739 
L 216.708333 25.18204 
L 218.074 25.446528 
L 219.279 25.896056 
L 220.403667 26.543984 
L 221.528333 27.450228 
L 222.653 28.649532 
L 223.777667 30.174942 
L 224.982667 32.20714 
L 226.187667 34.687503 
L 227.473 37.867932 
L 228.758333 41.641905 
L 230.124 46.348191 
L 231.57 52.165762 
L 233.096333 59.297853 
L 234.622667 67.510511 
L 236.229333 77.390947 
L 237.916333 89.205241 
L 239.683667 103.249792 
L 241.451 119.089289 
L 243.298667 137.66343 
L 243.62 141.111111 
L 255.871153 -1 
L 255.871153 -1 
" clip-path="url(#pb991e767cc)" style="fill: none; stroke: #bcbcbc; stroke-width: 1.15; stroke-linecap: square"/>
   </g>
   <g id="matplotlib.axis_3">
    <g id="xtick_6">
     <g id="line2d_18">
      <g>
       <use href="#m8d3a855a7b" x="166.5" y="148.1" style="stroke: #000000"/>
      </g>
     </g>
     <g id="text_12">
      <text style="font-size: 10px; font-family: 'DejaVu Sans'; text-anchor: middle" x="166.5" y="163.198438" transform="rotate(-0 166.5 163.198438)">S</text>
     </g>
    </g>
    <g id="xtick_7">
     <g id="line2d_19">
      <g>
       <use href="#m8d3a855a7b" x="185.78" y="148.1" style="stroke: #000000"/>
      </g>
     </g>
     <g id="text_13">
      <text style="font-size: 10px; font-family: 'DejaVu Sans'; text-anchor: middle" x="185.78" y="163.198438" transform="rotate(-0 185.78 163.198438)">K</text>
     </g>
    </g>
    <g id="xtick_8">
     <g id="line2d_20">
      <g>
       <use href="#m8d3a855a7b" x="214.7" y="148.1" style="stroke: #000000"/>
      </g>
     </g>
     <g id="text_14">
      <text style="font-size: 10px; font-family: 'DejaVu Sans'; text-anchor: middle" x="214.7" y="163.198438" transform="rotate(-0 214.7 163.198438)">M</text>
     </g>
    </g>
    <g id="xtick_9">
     <g id="line2d_21">
      <g>
       <use href="#m8d3a855a7b" x="243.62" y="148.1" style="stroke: #000000"/>
      </g>
     </g>
     <g id="text_15">
      <text style="font-size: 10px; font-family: 'DejaVu Sans'; text-anchor: middle" x="243.62" y="163.198438" transform="rotate(-0 243.62 163.198438)">K'</text>
     </g>
    </g>
    <g id="xtick_10">
     <g id="line2d_22">
      <g>
       <use href="#m8d3a855a7b" x="262.9" y="148.1" style="stroke: #000000"/>
      </g>
     </g>
     <g id="text_16">
      <text style="font-size: 10px; font-family: 'DejaVu Sans'; text-anchor: middle" x="262.9" y="163.198438" transform="rotate(-0 262.9 163.198438)">S'</text>
     </g>
    </g>
   </g>
   <g id="matplotlib.axis_4">
    <g id="ytick_5">
     <g id="line2d_23"/>
    </g>
    <g id="ytick_6">
     <g id="line2d_24"/>
    </g>
    <g id="ytick_7">
     <g id="line2d_25"/>
    </g>
    <g id="ytick_8">
     <g id="line2d_26"/>
    </g>
   </g>
   <g id="patch_8">
    <path d="M 166.5 148.1 
L 166.5 22.3 
" style="fill: none; stroke: #222222; stroke-width: 1.1; stroke-linejoin: miter; stroke-linecap: square"/>
   </g>
   <g id="patch_9">
    <path d="M 262.9 148.1 
L 262.9 22.3 
" style="fill: none; stroke: #222222; stroke-width: 1.1; stroke-linejoin: miter; stroke-linecap: square"/>
   </g>
   <g id="patch_10">
    <path d="M 166.5 148.1 
L 262.9 148.1 
" style="fill: none; stroke: #222222; stroke-width: 1.1; stroke-linejoin: miter; stroke-linecap: square"/>
   </g>
   <g id="patch_11">
    <path d="M 166.5 22.3 
L 262.9 22.3 
" style="fill: none; stroke: #222222; stroke-width: 1.1; stroke-linejoin: miter; stroke-linecap: square"/>
   </g>
   <g id="PathCollection_2">
    <defs>
     <path id="C1_0_6bc16225f0" d="M 0 2.915476 
C 0.773193 2.915476 1.514823 2.608283 2.061553 2.061553 
C 2.608283 1.514823 2.915476 0.773193 2.915476 -0 
C 2.915476 -0.773193 2.608283 -1.514823 2.061553 -2.061553 
C 1.514823 -2.608283 0.773193 -2.915476 0 -2.915476 
C -0.773193 -2.915476 -1.514823 -2.608283 -2.061553 -2.061553 
C -2.608283 -1.514823 -2.915476 -0.773193 -2.915476 0 
C -2.915476 0.773193 -2.608283 1.514823 -2.061553 2.061553 
C -1.514823 2.608283 -0.773193 2.915476 0 2.915476 
z
"/>
    </defs>
    <g clip-path="url(#pb991e767cc)">
     <use href="#C1_0_6bc16225f0" x="194.49967" y="69.125556" style="fill: #fff759; fill-opacity: 0.5"/>
    </g>
    <g clip-path="url(#pb991e767cc)">
     <use href="#C1_0_6bc16225f0" x="249.163" y="76.813333" style="fill: #fff759; fill-opacity: 0.5"/>
    </g>
    <g clip-path="url(#pb991e767cc)">
     <use href="#C1_0_6bc16225f0" x="192.836896" y="79.608889" style="fill: #ffed00; fill-opacity: 0.72"/>
    </g>
    <g clip-path="url(#pb991e767cc)">
     <use href="#C1_0_6bc16225f0" x="181.5625" y="92.188889" style="fill: #ffed00; fill-opacity: 0.72"/>
    </g>
    <g clip-path="url(#pb991e767cc)">
     <use href="#C1_0_6bc16225f0" x="182.0445" y="97.78" style="fill: #ffed00; fill-opacity: 0.72"/>
    </g>
    <g clip-path="url(#pb991e767cc)">
     <use href="#C1_0_6bc16225f0" x="190.378776" y="97.78" style="fill: #ffed00; fill-opacity: 0.72"/>
    </g>
    <g clip-path="url(#pb991e767cc)">
     <use href="#C1_0_6bc16225f0" x="182.46625" y="102.672222" style="fill: #ffed00; fill-opacity: 0.72"/>
    </g>
    <g clip-path="url(#pb991e767cc)">
     <use href="#C1_0_6bc16225f0" x="189.784875" y="102.672222" style="fill: #ffed00; fill-opacity: 0.72"/>
    </g>
    <g clip-path="url(#pb991e767cc)">
     <use href="#C1_0_6bc16225f0" x="182.888" y="107.564444" style="fill: #ffed00; fill-opacity: 0.72"/>
    </g>
    <g clip-path="url(#pb991e767cc)">
     <use href="#C1_0_6bc16225f0" x="189.214114" y="107.564444" style="fill: #ffed00; fill-opacity: 0.72"/>
    </g>
    <g clip-path="url(#pb991e767cc)">
     <use href="#C1_0_6bc16225f0" x="183.30975" y="112.456667" style="fill: #ffed00; fill-opacity: 0.72"/>
    </g>
    <g clip-path="url(#pb991e767cc)">
     <use href="#C1_0_6bc16225f0" x="188.664293" y="112.456667" style="fill: #ffed00; fill-opacity: 0.72"/>
    </g>
    <g clip-path="url(#pb991e767cc)">
     <use href="#C1_0_6bc16225f0" x="183.67125" y="116.65" style="fill: #ffed00; fill-opacity: 0.72"/>
    </g>
    <g clip-path="url(#pb991e767cc)">
     <use href="#C1_0_6bc16225f0" x="188.208254" y="116.65" style="fill: #ffed00; fill-opacity: 0.72"/>
    </g>
    <g clip-path="url(#pb991e767cc)">
     <use href="#C1_0_6bc16225f0" x="184.093" y="121.542222" style="fill: #ffed00; fill-opacity: 0.72"/>
    </g>
    <g clip-path="url(#pb991e767cc)">
     <use href="#C1_0_6bc16225f0" x="187.692534" y="121.542222" style="fill: #ffed00; fill-opacity: 0.72"/>
    </g>
    <g clip-path="url(#pb991e767cc)">
     <use href="#C1_0_6bc16225f0" x="248.50025" y="84.501111" style="fill: #ffed00; fill-opacity: 0.72"/>
    </g>
    <g clip-path="url(#pb991e767cc)">
     <use href="#C1_0_6bc16225f0" x="247.89775" y="91.49" style="fill: #ffed00; fill-opacity: 0.72"/>
    </g>
    <g clip-path="url(#pb991e767cc)">
     <use href="#C1_0_6bc16225f0" x="247.3555" y="97.78" style="fill: #ffed00; fill-opacity: 0.72"/>
    </g>
    <g clip-path="url(#pb991e767cc)">
     <use href="#C1_0_6bc16225f0" x="239.021224" y="97.78" style="fill: #ffed00; fill-opacity: 0.72"/>
    </g>
    <g clip-path="url(#pb991e767cc)">
     <use href="#C1_0_6bc16225f0" x="246.81325" y="104.07" style="fill: #ffed00; fill-opacity: 0.72"/>
    </g>
    <g clip-path="url(#pb991e767cc)">
     <use href="#C1_0_6bc16225f0" x="239.780458" y="104.07" style="fill: #ffed00; fill-opacity: 0.72"/>
    </g>
    <g clip-path="url(#pb991e767cc)">
     <use href="#C1_0_6bc16225f0" x="246.33125" y="109.661111" style="fill: #ffed00; fill-opacity: 0.72"/>
    </g>
    <g clip-path="url(#pb991e767cc)">
     <use href="#C1_0_6bc16225f0" x="240.423972" y="109.661111" style="fill: #ffed00; fill-opacity: 0.72"/>
    </g>
    <g clip-path="url(#pb991e767cc)">
     <use href="#C1_0_6bc16225f0" x="245.84925" y="115.252222" style="fill: #ffed00; fill-opacity: 0.72"/>
    </g>
    <g clip-path="url(#pb991e767cc)">
     <use href="#C1_0_6bc16225f0" x="241.041222" y="115.252222" style="fill: #ffed00; fill-opacity: 0.72"/>
    </g>
    <g clip-path="url(#pb991e767cc)">
     <use href="#C1_0_6bc16225f0" x="245.4275" y="120.144444" style="fill: #ffed00; fill-opacity: 0.72"/>
    </g>
    <g clip-path="url(#pb991e767cc)">
     <use href="#C1_0_6bc16225f0" x="241.561832" y="120.144444" style="fill: #ffed00; fill-opacity: 0.72"/>
    </g>
    <g clip-path="url(#pb991e767cc)">
     <use href="#C1_0_6bc16225f0" x="190.818578" y="94.285556" style="fill: #ffb800; fill-opacity: 0.75"/>
    </g>
    <g clip-path="url(#pb991e767cc)">
     <use href="#C1_0_6bc16225f0" x="180.89975" y="84.501111" style="fill: #ff8c00; fill-opacity: 0.8"/>
    </g>
    <g clip-path="url(#pb991e767cc)">
     <use href="#C1_0_6bc16225f0" x="192.129788" y="84.501111" style="fill: #ff8c00; fill-opacity: 0.8"/>
    </g>
    <g clip-path="url(#pb991e767cc)">
     <use href="#C1_0_6bc16225f0" x="236.769077" y="81.006667" style="fill: #ff8c00; fill-opacity: 0.8"/>
    </g>
    <g clip-path="url(#pb991e767cc)">
     <use href="#C1_0_6bc16225f0" x="238.581422" y="94.285556" style="fill: #ff8c00; fill-opacity: 0.8"/>
    </g>
    <g clip-path="url(#pb991e767cc)">
     <use href="#C1_0_6bc16225f0" x="179.6345" y="69.824444" style="fill: #eb0d0d; fill-opacity: 0.92"/>
    </g>
   </g>
   <g id="text_17">
    <text style="font-size: 13px; font-family: 'DejaVu Sans'; text-anchor: middle" x="214.7" y="16.3" transform="rotate(-0 214.7 16.3)">0.25 ps</text>
   </g>
  </g>
  <g id="axes_3">
   <g id="patch_12">
    <path d="M 272.7 148.1 
L 369.1 148.1 
L 369.1 22.3 
L 272.7 22.3 
L 272.7 148.1 
z
" style="fill: none; opacity: 0"/>
   </g>
   <g id="line2d_27">
    <path d="M 291.98 148.1 
L 291.98 22.3 
" clip-path="url(#p926dd5e495)" style="fill: none; stroke-dasharray: 1.98,1.44; stroke-dashoffset: 0; stroke: #9a9a9a; stroke-width: 0.9"/>
   </g>
   <g id="line2d_28">
    <path d="M 320.9 148.1 
L 320.9 22.3 
" clip-path="url(#p926dd5e495)" style="fill: none; stroke-dasharray: 1.98,1.44; stroke-dashoffset: 0; stroke: #9a9a9a; stroke-width: 0.9"/>
   </g>
   <g id="line2d_29">
    <path d="M 349.82 148.1 
L 349.82 22.3 
" clip-path="url(#p926dd5e495)" style="fill: none; stroke-dasharray: 1.98,1.44; stroke-dashoffset: 0; stroke: #9a9a9a; stroke-width: 0.9"/>
   </g>
   <g id="line2d_30">
    <path d="M 279.728847 -1 
L 291.98 141.111111 
L 293.908 121.393168 
L 295.836 103.930157 
L 297.683667 89.205241 
L 299.451 76.86576 
L 301.138 66.593278 
L 302.744667 58.101507 
L 304.351333 50.79602 
L 305.877667 44.886741 
L 307.323667 40.154467 
L 308.689333 36.405935 
L 310.055 33.306642 
L 311.340333 30.936408 
L 312.545333 29.155214 
L 313.750333 27.761509 
L 314.955333 26.71522 
L 316.160333 25.974173 
L 317.365333 25.493499 
L 318.731 25.202014 
L 320.418 25.09739 
L 322.908333 25.18204 
L 324.274 25.446528 
L 325.479 25.896056 
L 326.603667 26.543984 
L 327.728333 27.450228 
L 328.853 28.649532 
L 329.977667 30.174942 
L 331.182667 32.20714 
L 332.387667 34.687503 
L 333.673 37.867932 
L 334.958333 41.641905 
L 336.324 46.348191 
L 337.77 52.165762 
L 339.296333 59.297853 
L 340.822667 67.510511 
L 342.429333 77.390947 
L 344.116333 89.205241 
L 345.883667 103.249792 
L 347.651 119.089289 
L 349.498667 137.66343 
L 349.82 141.111111 
L 362.071153 -1 
L 362.071153 -1 
" clip-path="url(#p926dd5e495)" style="fill: none; stroke: #bcbcbc; stroke-width: 1.15; stroke-linecap: square"/>
   </g>
   <g id="matplotlib.axis_5">
    <g id="xtick_11">
     <g id="line2d_31">
      <g>
       <use href="#m8d3a855a7b" x="272.7" y="148.1" style="stroke: #000000"/>
      </g>
     </g>
     <g id="text_18">
      <text style="font-size: 10px; font-family: 'DejaVu Sans'; text-anchor: middle" x="272.7" y="163.198438" transform="rotate(-0 272.7 163.198438)">S</text>
     </g>
    </g>
    <g id="xtick_12">
     <g id="line2d_32">
      <g>
       <use href="#m8d3a855a7b" x="291.98" y="148.1" style="stroke: #000000"/>
      </g>
     </g>
     <g id="text_19">
      <text style="font-size: 10px; font-family: 'DejaVu Sans'; text-anchor: middle" x="291.98" y="163.198438" transform="rotate(-0 291.98 163.198438)">K</text>
     </g>
    </g>
    <g id="xtick_13">
     <g id="line2d_33">
      <g>
       <use href="#m8d3a855a7b" x="320.9" y="148.1" style="stroke: #000000"/>
      </g>
     </g>
     <g id="text_20">
      <text style="font-size: 10px; font-family: 'DejaVu Sans'; text-anchor: middle" x="320.9" y="163.198438" transform="rotate(-0 320.9 163.198438)">M</text>
     </g>
    </g>
    <g id="xtick_14">
     <g id="line2d_34">
      <g>
       <use href="#m8d3a855a7b" x="349.82" y="148.1" style="stroke: #000000"/>
      </g>
     </g>
     <g id="text_21">
      <text style="font-size: 10px; font-family: 'DejaVu Sans'; text-anchor: middle" x="349.82" y="163.198438" transform="rotate(-0 349.82 163.198438)">K'</text>
     </g>
    </g>
    <g id="xtick_15">
     <g id="line2d_35">
      <g>
       <use href="#m8d3a855a7b" x="369.1" y="148.1" style="stroke: #000000"/>
      </g>
     </g>
     <g id="text_22">
      <text style="font-size: 10px; font-family: 'DejaVu Sans'; text-anchor: middle" x="369.1" y="163.198438" transform="rotate(-0 369.1 163.198438)">S'</text>
     </g>
    </g>
   </g>
   <g id="matplotlib.axis_6">
    <g id="ytick_9">
     <g id="line2d_36"/>
    </g>
    <g id="ytick_10">
     <g id="line2d_37"/>
    </g>
    <g id="ytick_11">
     <g id="line2d_38"/>
    </g>
    <g id="ytick_12">
     <g id="line2d_39"/>
    </g>
   </g>
   <g id="patch_13">
    <path d="M 272.7 148.1 
L 272.7 22.3 
" style="fill: none; stroke: #222222; stroke-width: 1.1; stroke-linejoin: miter; stroke-linecap: square"/>
   </g>
   <g id="patch_14">
    <path d="M 369.1 148.1 
L 369.1 22.3 
" style="fill: none; stroke: #222222; stroke-width: 1.1; stroke-linejoin: miter; stroke-linecap: square"/>
   </g>
   <g id="patch_15">
    <path d="M 272.7 148.1 
L 369.1 148.1 
" style="fill: none; stroke: #222222; stroke-width: 1.1; stroke-linejoin: miter; stroke-linecap: square"/>
   </g>
   <g id="patch_16">
    <path d="M 272.7 22.3 
L 369.1 22.3 
" style="fill: none; stroke: #222222; stroke-width: 1.1; stroke-linejoin: miter; stroke-linecap: square"/>
   </g>
   <g id="PathCollection_3">
    <defs>
     <path id="C2_0_6bc16225f0" d="M 0 2.915476 
C 0.773193 2.915476 1.514823 2.608283 2.061553 2.061553 
C 2.608283 1.514823 2.915476 0.773193 2.915476 -0 
C 2.915476 -0.773193 2.608283 -1.514823 2.061553 -2.061553 
C 1.514823 -2.608283 0.773193 -2.915476 0 -2.915476 
C -0.773193 -2.915476 -1.514823 -2.608283 -2.061553 -2.061553 
C -2.608283 -1.514823 -2.915476 -0.773193 -2.915476 0 
C -2.915476 0.773193 -2.608283 1.514823 -2.061553 2.061553 
C -1.514823 2.608283 -0.773193 2.915476 0 2.915476 
z
"/>
    </defs>
    <g clip-path="url(#p926dd5e495)">
     <use href="#C2_0_6bc16225f0" x="285.77425" y="69.125556" style="fill: #fff759; fill-opacity: 0.5"/>
    </g>
    <g clip-path="url(#p926dd5e495)">
     <use href="#C2_0_6bc16225f0" x="291.91975" y="140.412222" style="fill: #fff759; fill-opacity: 0.5"/>
    </g>
    <g clip-path="url(#p926dd5e495)">
     <use href="#C2_0_6bc16225f0" x="292.044648" y="140.412222" style="fill: #fff759; fill-opacity: 0.5"/>
    </g>
    <g clip-path="url(#p926dd5e495)">
     <use href="#C2_0_6bc16225f0" x="349.88025" y="140.412222" style="fill: #fff759; fill-opacity: 0.5"/>
    </g>
    <g clip-path="url(#p926dd5e495)">
     <use href="#C2_0_6bc16225f0" x="349.755352" y="140.412222" style="fill: #fff759; fill-opacity: 0.5"/>
    </g>
    <g clip-path="url(#p926dd5e495)">
     <use href="#C2_0_6bc16225f0" x="287.0395" y="83.802222" style="fill: #ffed00; fill-opacity: 0.72"/>
    </g>
    <g clip-path="url(#p926dd5e495)">
     <use href="#C2_0_6bc16225f0" x="298.4285" y="83.802222" style="fill: #ffed00; fill-opacity: 0.72"/>
    </g>
    <g clip-path="url(#p926dd5e495)">
     <use href="#C2_0_6bc16225f0" x="287.401" y="87.995556" style="fill: #ffed00; fill-opacity: 0.72"/>
    </g>
    <g clip-path="url(#p926dd5e495)">
     <use href="#C2_0_6bc16225f0" x="297.846888" y="87.995556" style="fill: #ffed00; fill-opacity: 0.72"/>
    </g>
    <g clip-path="url(#p926dd5e495)">
     <use href="#C2_0_6bc16225f0" x="287.70225" y="91.49" style="fill: #ffed00; fill-opacity: 0.72"/>
    </g>
    <g clip-path="url(#p926dd5e495)">
     <use href="#C2_0_6bc16225f0" x="292.035073" y="129.23" style="fill: #ffed00; fill-opacity: 0.72"/>
    </g>
    <g clip-path="url(#p926dd5e495)">
     <use href="#C2_0_6bc16225f0" x="291.257" y="132.724444" style="fill: #ffed00; fill-opacity: 0.72"/>
    </g>
    <g clip-path="url(#p926dd5e495)">
     <use href="#C2_0_6bc16225f0" x="292.772645" y="132.724444" style="fill: #ffed00; fill-opacity: 0.72"/>
    </g>
    <g clip-path="url(#p926dd5e495)">
     <use href="#C2_0_6bc16225f0" x="291.995071" y="136.917778" style="fill: #ffed00; fill-opacity: 0.72"/>
    </g>
    <g clip-path="url(#p926dd5e495)">
     <use href="#C2_0_6bc16225f0" x="342.969077" y="81.006667" style="fill: #ffed00; fill-opacity: 0.72"/>
    </g>
    <g clip-path="url(#p926dd5e495)">
     <use href="#C2_0_6bc16225f0" x="354.70025" y="84.501111" style="fill: #ffed00; fill-opacity: 0.72"/>
    </g>
    <g clip-path="url(#p926dd5e495)">
     <use href="#C2_0_6bc16225f0" x="354.2785" y="89.393333" style="fill: #ffed00; fill-opacity: 0.72"/>
    </g>
    <g clip-path="url(#p926dd5e495)">
     <use href="#C2_0_6bc16225f0" x="344.141538" y="89.393333" style="fill: #ffed00; fill-opacity: 0.72"/>
    </g>
    <g clip-path="url(#p926dd5e495)">
     <use href="#C2_0_6bc16225f0" x="353.917" y="93.586667" style="fill: #ffed00; fill-opacity: 0.72"/>
    </g>
    <g clip-path="url(#p926dd5e495)">
     <use href="#C2_0_6bc16225f0" x="349.78141" y="132.025556" style="fill: #ffed00; fill-opacity: 0.72"/>
    </g>
    <g clip-path="url(#p926dd5e495)">
     <use href="#C2_0_6bc16225f0" x="350.302" y="135.52" style="fill: #ffed00; fill-opacity: 0.72"/>
    </g>
    <g clip-path="url(#p926dd5e495)">
     <use href="#C2_0_6bc16225f0" x="349.295758" y="135.52" style="fill: #ffed00; fill-opacity: 0.72"/>
    </g>
    <g clip-path="url(#p926dd5e495)">
     <use href="#C2_0_6bc16225f0" x="297.289207" y="92.188889" style="fill: #ffb800; fill-opacity: 0.75"/>
    </g>
    <g clip-path="url(#p926dd5e495)">
     <use href="#C2_0_6bc16225f0" x="292.466509" y="94.984444" style="fill: #ffb800; fill-opacity: 0.75"/>
    </g>
    <g clip-path="url(#p926dd5e495)">
     <use href="#C2_0_6bc16225f0" x="292.337123" y="101.973333" style="fill: #ffb800; fill-opacity: 0.75"/>
    </g>
    <g clip-path="url(#p926dd5e495)">
     <use href="#C2_0_6bc16225f0" x="292.178672" y="113.155556" style="fill: #ffb800; fill-opacity: 0.75"/>
    </g>
    <g clip-path="url(#p926dd5e495)">
     <use href="#C2_0_6bc16225f0" x="290.6545" y="125.735556" style="fill: #ffb800; fill-opacity: 0.75"/>
    </g>
    <g clip-path="url(#p926dd5e495)">
     <use href="#C2_0_6bc16225f0" x="293.463447" y="125.735556" style="fill: #ffb800; fill-opacity: 0.75"/>
    </g>
    <g clip-path="url(#p926dd5e495)">
     <use href="#C2_0_6bc16225f0" x="292.058973" y="125.735556" style="fill: #ffb800; fill-opacity: 0.75"/>
    </g>
    <g clip-path="url(#p926dd5e495)">
     <use href="#C2_0_6bc16225f0" x="353.5555" y="97.78" style="fill: #ffb800; fill-opacity: 0.75"/>
    </g>
    <g clip-path="url(#p926dd5e495)">
     <use href="#C2_0_6bc16225f0" x="345.221224" y="97.78" style="fill: #ffb800; fill-opacity: 0.75"/>
    </g>
    <g clip-path="url(#p926dd5e495)">
     <use href="#C2_0_6bc16225f0" x="349.388362" y="97.78" style="fill: #ffb800; fill-opacity: 0.75"/>
    </g>
    <g clip-path="url(#p926dd5e495)">
     <use href="#C2_0_6bc16225f0" x="349.528769" y="106.166667" style="fill: #ffb800; fill-opacity: 0.75"/>
    </g>
    <g clip-path="url(#p926dd5e495)">
     <use href="#C2_0_6bc16225f0" x="349.621328" y="113.155556" style="fill: #ffb800; fill-opacity: 0.75"/>
    </g>
    <g clip-path="url(#p926dd5e495)">
     <use href="#C2_0_6bc16225f0" x="349.730398" y="124.337778" style="fill: #ffb800; fill-opacity: 0.75"/>
    </g>
    <g clip-path="url(#p926dd5e495)">
     <use href="#C2_0_6bc16225f0" x="350.96475" y="127.832222" style="fill: #ffb800; fill-opacity: 0.75"/>
    </g>
    <g clip-path="url(#p926dd5e495)">
     <use href="#C2_0_6bc16225f0" x="348.546882" y="127.832222" style="fill: #ffb800; fill-opacity: 0.75"/>
    </g>
    <g clip-path="url(#p926dd5e495)">
     <use href="#C2_0_6bc16225f0" x="288.30475" y="98.478889" style="fill: #ff8c00; fill-opacity: 0.8"/>
    </g>
    <g clip-path="url(#p926dd5e495)">
     <use href="#C2_0_6bc16225f0" x="296.492423" y="98.478889" style="fill: #ff8c00; fill-opacity: 0.8"/>
    </g>
    <g clip-path="url(#p926dd5e495)">
     <use href="#C2_0_6bc16225f0" x="288.78675" y="104.07" style="fill: #ff8c00; fill-opacity: 0.8"/>
    </g>
    <g clip-path="url(#p926dd5e495)">
     <use href="#C2_0_6bc16225f0" x="295.819542" y="104.07" style="fill: #ff8c00; fill-opacity: 0.8"/>
    </g>
    <g clip-path="url(#p926dd5e495)">
     <use href="#C2_0_6bc16225f0" x="289.26875" y="109.661111" style="fill: #ff8c00; fill-opacity: 0.8"/>
    </g>
    <g clip-path="url(#p926dd5e495)">
     <use href="#C2_0_6bc16225f0" x="292.251057" y="107.564444" style="fill: #ff8c00; fill-opacity: 0.8"/>
    </g>
    <g clip-path="url(#p926dd5e495)">
     <use href="#C2_0_6bc16225f0" x="289.811" y="115.951111" style="fill: #ff8c00; fill-opacity: 0.8"/>
    </g>
    <g clip-path="url(#p926dd5e495)">
     <use href="#C2_0_6bc16225f0" x="294.483333" y="115.951111" style="fill: #ff8c00; fill-opacity: 0.8"/>
    </g>
    <g clip-path="url(#p926dd5e495)">
     <use href="#C2_0_6bc16225f0" x="292.147167" y="115.951111" style="fill: #ff8c00; fill-opacity: 0.8"/>
    </g>
    <g clip-path="url(#p926dd5e495)">
     <use href="#C2_0_6bc16225f0" x="290.293" y="121.542222" style="fill: #ff8c00; fill-opacity: 0.8"/>
    </g>
    <g clip-path="url(#p926dd5e495)">
     <use href="#C2_0_6bc16225f0" x="293.892534" y="121.542222" style="fill: #ff8c00; fill-opacity: 0.8"/>
    </g>
    <g clip-path="url(#p926dd5e495)">
     <use href="#C2_0_6bc16225f0" x="292.092767" y="121.542222" style="fill: #ff8c00; fill-opacity: 0.8"/>
    </g>
    <g clip-path="url(#p926dd5e495)">
     <use href="#C2_0_6bc16225f0" x="344.691793" y="93.586667" style="fill: #ff8c00; fill-opacity: 0.8"/>
    </g>
    <g clip-path="url(#p926dd5e495)">
     <use href="#C2_0_6bc16225f0" x="353.13375" y="102.672222" style="fill: #ff8c00; fill-opacity: 0.8"/>
    </g>
    <g clip-path="url(#p926dd5e495)">
     <use href="#C2_0_6bc16225f0" x="345.815125" y="102.672222" style="fill: #ff8c00; fill-opacity: 0.8"/>
    </g>
    <g clip-path="url(#p926dd5e495)">
     <use href="#C2_0_6bc16225f0" x="352.53125" y="109.661111" style="fill: #ff8c00; fill-opacity: 0.8"/>
    </g>
    <g clip-path="url(#p926dd5e495)">
     <use href="#C2_0_6bc16225f0" x="346.623972" y="109.661111" style="fill: #ff8c00; fill-opacity: 0.8"/>
    </g>
    <g clip-path="url(#p926dd5e495)">
     <use href="#C2_0_6bc16225f0" x="351.989" y="115.951111" style="fill: #ff8c00; fill-opacity: 0.8"/>
    </g>
    <g clip-path="url(#p926dd5e495)">
     <use href="#C2_0_6bc16225f0" x="347.316667" y="115.951111" style="fill: #ff8c00; fill-opacity: 0.8"/>
    </g>
    <g clip-path="url(#p926dd5e495)">
     <use href="#C2_0_6bc16225f0" x="295.097493" y="110.36" style="fill: #ff5900; fill-opacity: 0.85"/>
    </g>
    <g clip-path="url(#p926dd5e495)">
     <use href="#C2_0_6bc16225f0" x="351.56725" y="120.843333" style="fill: #ff5900; fill-opacity: 0.85"/>
    </g>
    <g clip-path="url(#p926dd5e495)">
     <use href="#C2_0_6bc16225f0" x="347.834817" y="120.843333" style="fill: #ff5900; fill-opacity: 0.85"/>
    </g>
   </g>
   <g id="text_23">
    <text style="font-size: 13px; font-family: 'DejaVu Sans'; text-anchor: middle" x="320.9" y="16.3" transform="rotate(-0 320.9 16.3)">0.5 ps</text>
   </g>
  </g>
  <g id="axes_4">
   <g id="patch_17">
    <path d="M 378.9 148.1 
L 475.3 148.1 
L 475.3 22.3 
L 378.9 22.3 
L 378.9 148.1 
z
" style="fill: none; opacity: 0"/>
   </g>
   <g id="line2d_40">
    <path d="M 398.18 148.1 
L 398.18 22.3 
" clip-path="url(#p4cb11d95ed)" style="fill: none; stroke-dasharray: 1.98,1.44; stroke-dashoffset: 0; stroke: #9a9a9a; stroke-width: 0.9"/>
   </g>
   <g id="line2d_41">
    <path d="M 427.1 148.1 
L 427.1 22.3 
" clip-path="url(#p4cb11d95ed)" style="fill: none; stroke-dasharray: 1.98,1.44; stroke-dashoffset: 0; stroke: #9a9a9a; stroke-width: 0.9"/>
   </g>
   <g id="line2d_42">
    <path d="M 456.02 148.1 
L 456.02 22.3 
" clip-path="url(#p4cb11d95ed)" style="fill: none; stroke-dasharray: 1.98,1.44; stroke-dashoffset: 0; stroke: #9a9a9a; stroke-width: 0.9"/>
   </g>
   <g id="line2d_43">
    <path d="M 385.928847 -1 
L 398.18 141.111111 
L 400.108 121.393168 
L 402.036 103.930157 
L 403.883667 89.205241 
L 405.651 76.86576 
L 407.338 66.593278 
L 408.944667 58.101507 
L 410.551333 50.79602 
L 412.077667 44.886741 
L 413.523667 40.154467 
L 414.889333 36.405935 
L 416.255 33.306642 
L 417.540333 30.936408 
L 418.745333 29.155214 
L 419.950333 27.761509 
L 421.155333 26.71522 
L 422.360333 25.974173 
L 423.565333 25.493499 
L 424.931 25.202014 
L 426.618 25.09739 
L 429.108333 25.18204 
L 430.474 25.446528 
L 431.679 25.896056 
L 432.803667 26.543984 
L 433.928333 27.450228 
L 435.053 28.649532 
L 436.177667 30.174942 
L 437.382667 32.20714 
L 438.587667 34.687503 
L 439.873 37.867932 
L 441.158333 41.641905 
L 442.524 46.348191 
L 443.97 52.165762 
L 445.496333 59.297853 
L 447.022667 67.510511 
L 448.629333 77.390947 
L 450.316333 89.205241 
L 452.083667 103.249792 
L 453.851 119.089289 
L 455.698667 137.66343 
L 456.02 141.111111 
L 468.271153 -1 
L 468.271153 -1 
" clip-path="url(#p4cb11d95ed)" style="fill: none; stroke: #bcbcbc; stroke-width: 1.15; stroke-linecap: square"/>
   </g>
   <g id="matplotlib.axis_7">
    <g id="xtick_16">
     <g id="line2d_44">
      <g>
       <use href="#m8d3a855a7b" x="378.9" y="148.1" style="stroke: #000000"/>
      </g>
     </g>
     <g id="text_24">
      <text style="font-size: 10px; font-family: 'DejaVu Sans'; text-anchor: middle" x="378.9" y="163.198438" transform="rotate(-0 378.9 163.198438)">S</text>
     </g>
    </g>
    <g id="xtick_17">
     <g id="line2d_45">
      <g>
       <use href="#m8d3a855a7b" x="398.18" y="148.1" style="stroke: #000000"/>
      </g>
     </g>
     <g id="text_25">
      <text style="font-size: 10px; font-family: 'DejaVu Sans'; text-anchor: middle" x="398.18" y="163.198438" transform="rotate(-0 398.18 163.198438)">K</text>
     </g>
    </g>
    <g id="xtick_18">
     <g id="line2d_46">
      <g>
       <use href="#m8d3a855a7b" x="427.1" y="148.1" style="stroke: #000000"/>
      </g>
     </g>
     <g id="text_26">
      <text style="font-size: 10px; font-family: 'DejaVu Sans'; text-anchor: middle" x="427.1" y="163.198438" transform="rotate(-0 427.1 163.198438)">M</text>
     </g>
    </g>
    <g id="xtick_19">
     <g id="line2d_47">
      <g>
       <use href="#m8d3a855a7b" x="456.02" y="148.1" style="stroke: #000000"/>
      </g>
     </g>
     <g id="text_27">
      <text style="font-size: 10px; font-family: 'DejaVu Sans'; text-anchor: middle" x="456.02" y="163.198438" transform="rotate(-0 456.02 163.198438)">K'</text>
     </g>
    </g>
    <g id="xtick_20">
     <g id="line2d_48">
      <g>
       <use href="#m8d3a855a7b" x="475.3" y="148.1" style="stroke: #000000"/>
      </g>
     </g>
     <g id="text_28">
      <text style="font-size: 10px; font-family: 'DejaVu Sans'; text-anchor: middle" x="475.3" y="163.198438" transform="rotate(-0 475.3 163.198438)">S'</text>
     </g>
    </g>
   </g>
   <g id="matplotlib.axis_8">
    <g id="ytick_13">
     <g id="line2d_49"/>
    </g>
    <g id="ytick_14">
     <g id="line2d_50"/>
    </g>
    <g id="ytick_15">
     <g id="line2d_51"/>
    </g>
    <g id="ytick_16">
     <g id="line2d_52"/>
    </g>
   </g>
   <g id="patch_18">
    <path d="M 378.9 148.1 
L 378.9 22.3 
" style="fill: none; stroke: #222222; stroke-width: 1.1; stroke-linejoin: miter; stroke-linecap: square"/>
   </g>
   <g id="patch_19">
    <path d="M 475.3 148.1 
L 475.3 22.3 
" style="fill: none; stroke: #222222; stroke-width: 1.1; stroke-linejoin: miter; stroke-linecap: square"/>
   </g>
   <g id="patch_20">
    <path d="M 378.9 148.1 
L 475.3 148.1 
" style="fill: none; stroke: #222222; stroke-width: 1.1; stroke-linejoin: miter; stroke-linecap: square"/>
   </g>
   <g id="patch_21">
    <path d="M 378.9 22.3 
L 475.3 22.3 
" style="fill: none; stroke: #222222; stroke-width: 1.1; stroke-linejoin: miter; stroke-linecap: square"/>
   </g>
   <g id="PathCollection_4">
    <defs>
     <path id="C3_0_6bc16225f0" d="M 0 2.915476 
C 0.773193 2.915476 1.514823 2.608283 2.061553 2.061553 
C 2.608283 1.514823 2.915476 0.773193 2.915476 -0 
C 2.915476 -0.773193 2.608283 -1.514823 2.061553 -2.061553 
C 1.514823 -2.608283 0.773193 -2.915476 0 -2.915476 
C -0.773193 -2.915476 -1.514823 -2.608283 -2.061553 -2.061553 
C -2.608283 -1.514823 -2.915476 -0.773193 -2.915476 0 
C -2.915476 0.773193 -2.608283 1.514823 -2.061553 2.061553 
C -1.514823 2.608283 -0.773193 2.915476 0 2.915476 
z
"/>
    </defs>
    <g clip-path="url(#p4cb11d95ed)">
     <use href="#C3_0_6bc16225f0" x="394.50475" y="98.478889" style="fill: #fff759; fill-opacity: 0.5"/>
    </g>
    <g clip-path="url(#p4cb11d95ed)">
     <use href="#C3_0_6bc16225f0" x="402.692423" y="98.478889" style="fill: #fff759; fill-opacity: 0.5"/>
    </g>
    <g clip-path="url(#p4cb11d95ed)">
     <use href="#C3_0_6bc16225f0" x="459.69525" y="98.478889" style="fill: #fff759; fill-opacity: 0.5"/>
    </g>
    <g clip-path="url(#p4cb11d95ed)">
     <use href="#C3_0_6bc16225f0" x="451.507577" y="98.478889" style="fill: #fff759; fill-opacity: 0.5"/>
    </g>
    <g clip-path="url(#p4cb11d95ed)">
     <use href="#C3_0_6bc16225f0" x="395.10725" y="105.467778" style="fill: #ffed00; fill-opacity: 0.72"/>
    </g>
    <g clip-path="url(#p4cb11d95ed)">
     <use href="#C3_0_6bc16225f0" x="401.856042" y="105.467778" style="fill: #ffed00; fill-opacity: 0.72"/>
    </g>
    <g clip-path="url(#p4cb11d95ed)">
     <use href="#C3_0_6bc16225f0" x="459.09275" y="105.467778" style="fill: #ffed00; fill-opacity: 0.72"/>
    </g>
    <g clip-path="url(#p4cb11d95ed)">
     <use href="#C3_0_6bc16225f0" x="452.343958" y="105.467778" style="fill: #ffed00; fill-opacity: 0.72"/>
    </g>
    <g clip-path="url(#p4cb11d95ed)">
     <use href="#C3_0_6bc16225f0" x="395.529" y="110.36" style="fill: #ffb800; fill-opacity: 0.75"/>
    </g>
    <g clip-path="url(#p4cb11d95ed)">
     <use href="#C3_0_6bc16225f0" x="401.297493" y="110.36" style="fill: #ffb800; fill-opacity: 0.75"/>
    </g>
    <g clip-path="url(#p4cb11d95ed)">
     <use href="#C3_0_6bc16225f0" x="458.671" y="110.36" style="fill: #ffb800; fill-opacity: 0.75"/>
    </g>
    <g clip-path="url(#p4cb11d95ed)">
     <use href="#C3_0_6bc16225f0" x="452.902507" y="110.36" style="fill: #ffb800; fill-opacity: 0.75"/>
    </g>
    <g clip-path="url(#p4cb11d95ed)">
     <use href="#C3_0_6bc16225f0" x="395.95075" y="115.252222" style="fill: #ff8c00; fill-opacity: 0.8"/>
    </g>
    <g clip-path="url(#p4cb11d95ed)">
     <use href="#C3_0_6bc16225f0" x="400.758778" y="115.252222" style="fill: #ff8c00; fill-opacity: 0.8"/>
    </g>
    <g clip-path="url(#p4cb11d95ed)">
     <use href="#C3_0_6bc16225f0" x="398.11975" y="140.412222" style="fill: #ff8c00; fill-opacity: 0.8"/>
    </g>
    <g clip-path="url(#p4cb11d95ed)">
     <use href="#C3_0_6bc16225f0" x="398.244648" y="140.412222" style="fill: #ff8c00; fill-opacity: 0.8"/>
    </g>
    <g clip-path="url(#p4cb11d95ed)">
     <use href="#C3_0_6bc16225f0" x="458.24925" y="115.252222" style="fill: #ff8c00; fill-opacity: 0.8"/>
    </g>
    <g clip-path="url(#p4cb11d95ed)">
     <use href="#C3_0_6bc16225f0" x="453.441222" y="115.252222" style="fill: #ff8c00; fill-opacity: 0.8"/>
    </g>
    <g clip-path="url(#p4cb11d95ed)">
     <use href="#C3_0_6bc16225f0" x="456.08025" y="140.412222" style="fill: #ff8c00; fill-opacity: 0.8"/>
    </g>
    <g clip-path="url(#p4cb11d95ed)">
     <use href="#C3_0_6bc16225f0" x="455.955352" y="140.412222" style="fill: #ff8c00; fill-opacity: 0.8"/>
    </g>
    <g clip-path="url(#p4cb11d95ed)">
     <use href="#C3_0_6bc16225f0" x="396.31225" y="119.445556" style="fill: #ff5900; fill-opacity: 0.85"/>
    </g>
    <g clip-path="url(#p4cb11d95ed)">
     <use href="#C3_0_6bc16225f0" x="400.311491" y="119.445556" style="fill: #ff5900; fill-opacity: 0.85"/>
    </g>
    <g clip-path="url(#p4cb11d95ed)">
     <use href="#C3_0_6bc16225f0" x="396.67375" y="123.638889" style="fill: #ff5900; fill-opacity: 0.85"/>
    </g>
    <g clip-path="url(#p4cb11d95ed)">
     <use href="#C3_0_6bc16225f0" x="399.876553" y="123.638889" style="fill: #ff5900; fill-opacity: 0.85"/>
    </g>
    <g clip-path="url(#p4cb11d95ed)">
     <use href="#C3_0_6bc16225f0" x="397.03525" y="127.832222" style="fill: #ff5900; fill-opacity: 0.85"/>
    </g>
    <g clip-path="url(#p4cb11d95ed)">
     <use href="#C3_0_6bc16225f0" x="399.453118" y="127.832222" style="fill: #ff5900; fill-opacity: 0.85"/>
    </g>
    <g clip-path="url(#p4cb11d95ed)">
     <use href="#C3_0_6bc16225f0" x="397.457" y="132.724444" style="fill: #ff5900; fill-opacity: 0.85"/>
    </g>
    <g clip-path="url(#p4cb11d95ed)">
     <use href="#C3_0_6bc16225f0" x="398.972645" y="132.724444" style="fill: #ff5900; fill-opacity: 0.85"/>
    </g>
    <g clip-path="url(#p4cb11d95ed)">
     <use href="#C3_0_6bc16225f0" x="457.88775" y="119.445556" style="fill: #ff5900; fill-opacity: 0.85"/>
    </g>
    <g clip-path="url(#p4cb11d95ed)">
     <use href="#C3_0_6bc16225f0" x="453.888509" y="119.445556" style="fill: #ff5900; fill-opacity: 0.85"/>
    </g>
    <g clip-path="url(#p4cb11d95ed)">
     <use href="#C3_0_6bc16225f0" x="457.52625" y="123.638889" style="fill: #ff5900; fill-opacity: 0.85"/>
    </g>
    <g clip-path="url(#p4cb11d95ed)">
     <use href="#C3_0_6bc16225f0" x="454.323447" y="123.638889" style="fill: #ff5900; fill-opacity: 0.85"/>
    </g>
    <g clip-path="url(#p4cb11d95ed)">
     <use href="#C3_0_6bc16225f0" x="457.16475" y="127.832222" style="fill: #ff5900; fill-opacity: 0.85"/>
    </g>
    <g clip-path="url(#p4cb11d95ed)">
     <use href="#C3_0_6bc16225f0" x="454.746882" y="127.832222" style="fill: #ff5900; fill-opacity: 0.85"/>
    </g>
    <g clip-path="url(#p4cb11d95ed)">
     <use href="#C3_0_6bc16225f0" x="456.743" y="132.724444" style="fill: #ff5900; fill-opacity: 0.85"/>
    </g>
    <g clip-path="url(#p4cb11d95ed)">
     <use href="#C3_0_6bc16225f0" x="455.227355" y="132.724444" style="fill: #ff5900; fill-opacity: 0.85"/>
    </g>
   </g>
   <g id="text_29">
    <text style="font-size: 13px; font-family: 'DejaVu Sans'; text-anchor: middle" x="427.1" y="16.3" transform="rotate(-0 427.1 16.3)">1.0 ps</text>
   </g>
  </g>
  <g id="axes_5">
   <g id="patch_22">
    <path d="M 485.1 148.1 
L 581.5 148.1 
L 581.5 22.3 
L 485.1 22.3 
L 485.1 148.1 
z
" style="fill: none; opacity: 0"/>
   </g>
   <g id="line2d_53">
    <path d="M 504.38 148.1 
L 504.38 22.3 
" clip-path="url(#pf6ebbcd71c)" style="fill: none; stroke-dasharray: 1.98,1.44; stroke-dashoffset: 0; stroke: #9a9a9a; stroke-width: 0.9"/>
   </g>
   <g id="line2d_54">
    <path d="M 533.3 148.1 
L 533.3 22.3 
" clip-path="url(#pf6ebbcd71c)" style="fill: none; stroke-dasharray: 1.98,1.44; stroke-dashoffset: 0; stroke: #9a9a9a; stroke-width: 0.9"/>
   </g>
   <g id="line2d_55">
    <path d="M 562.22 148.1 
L 562.22 22.3 
" clip-path="url(#pf6ebbcd71c)" style="fill: none; stroke-dasharray: 1.98,1.44; stroke-dashoffset: 0; stroke: #9a9a9a; stroke-width: 0.9"/>
   </g>
   <g id="line2d_56">
    <path d="M 492.128847 -1 
L 504.38 141.111111 
L 506.308 121.393168 
L 508.236 103.930157 
L 510.083667 89.205241 
L 511.851 76.86576 
L 513.538 66.593278 
L 515.144667 58.101507 
L 516.751333 50.79602 
L 518.277667 44.886741 
L 519.723667 40.154467 
L 521.089333 36.405935 
L 522.455 33.306642 
L 523.740333 30.936408 
L 524.945333 29.155214 
L 526.150333 27.761509 
L 527.355333 26.71522 
L 528.560333 25.974173 
L 529.765333 25.493499 
L 531.131 25.202014 
L 532.818 25.09739 
L 535.308333 25.18204 
L 536.674 25.446528 
L 537.879 25.896056 
L 539.003667 26.543984 
L 540.128333 27.450228 
L 541.253 28.649532 
L 542.377667 30.174942 
L 543.582667 32.20714 
L 544.787667 34.687503 
L 546.073 37.867932 
L 547.358333 41.641905 
L 548.724 46.348191 
L 550.17 52.165762 
L 551.696333 59.297853 
L 553.222667 67.510511 
L 554.829333 77.390947 
L 556.516333 89.205241 
L 558.283667 103.249792 
L 560.051 119.089289 
L 561.898667 137.66343 
L 562.22 141.111111 
L 574.471153 -1 
L 574.471153 -1 
" clip-path="url(#pf6ebbcd71c)" style="fill: none; stroke: #bcbcbc; stroke-width: 1.15; stroke-linecap: square"/>
   </g>
   <g id="matplotlib.axis_9">
    <g id="xtick_21">
     <g id="line2d_57">
      <g>
       <use href="#m8d3a855a7b" x="485.1" y="148.1" style="stroke: #000000"/>
      </g>
     </g>
     <g id="text_30">
      <text style="font-size: 10px; font-family: 'DejaVu Sans'; text-anchor: middle" x="485.1" y="163.198438" transform="rotate(-0 485.1 163.198438)">S</text>
     </g>
    </g>
    <g id="xtick_22">
     <g id="line2d_58">
      <g>
       <use href="#m8d3a855a7b" x="504.38" y="148.1" style="stroke: #000000"/>
      </g>
     </g>
     <g id="text_31">
      <text style="font-size: 10px; font-family: 'DejaVu Sans'; text-anchor: middle" x="504.38" y="163.198438" transform="rotate(-0 504.38 163.198438)">K</text>
     </g>
    </g>
    <g id="xtick_23">
     <g id="line2d_59">
      <g>
       <use href="#m8d3a855a7b" x="533.3" y="148.1" style="stroke: #000000"/>
      </g>
     </g>
     <g id="text_32">
      <text style="font-size: 10px; font-family: 'DejaVu Sans'; text-anchor: middle" x="533.3" y="163.198438" transform="rotate(-0 533.3 163.198438)">M</text>
     </g>
    </g>
    <g id="xtick_24">
     <g id="line2d_60">
      <g>
       <use href="#m8d3a855a7b" x="562.22" y="148.1" style="stroke: #000000"/>
      </g>
     </g>
     <g id="text_33">
      <text style="font-size: 10px; font-family: 'DejaVu Sans'; text-anchor: middle" x="562.22" y="163.198438" transform="rotate(-0 562.22 163.198438)">K'</text>
     </g>
    </g>
    <g id="xtick_25">
     <g id="line2d_61">
      <g>
       <use href="#m8d3a855a7b" x="581.5" y="148.1" style="stroke: #000000"/>
      </g>
     </g>
     <g id="text_34">
      <text style="font-size: 10px; font-family: 'DejaVu Sans'; text-anchor: middle" x="581.5" y="163.198438" transform="rotate(-0 581.5 163.198438)">S'</text>
     </g>
    </g>
   </g>
   <g id="matplotlib.axis_10">
    <g id="ytick_17">
     <g id="line2d_62"/>
    </g>
    <g id="ytick_18">
     <g id="line2d_63"/>
    </g>
    <g id="ytick_19">
     <g id="line2d_64"/>
    </g>
    <g id="ytick_20">
     <g id="line2d_65"/>
    </g>
   </g>
   <g id="patch_23">
    <path d="M 485.1 148.1 
L 485.1 22.3 
" style="fill: none; stroke: #222222; stroke-width: 1.1; stroke-linejoin: miter; stroke-linecap: square"/>
   </g>
   <g id="patch_24">
    <path d="M 581.5 148.1 
L 581.5 22.3 
" style="fill: none; stroke: #222222; stroke-width: 1.1; stroke-linejoin: miter; stroke-linecap: square"/>
   </g>
   <g id="patch_25">
    <path d="M 485.1 148.1 
L 581.5 148.1 
" style="fill: none; stroke: #222222; stroke-width: 1.1; stroke-linejoin: miter; stroke-linecap: square"/>
   </g>
   <g id="patch_26">
    <path d="M 485.1 22.3 
L 581.5 22.3 
" style="fill: none; stroke: #222222; stroke-width: 1.1; stroke-linejoin: miter; stroke-linecap: square"/>
   </g>
   <g id="PathCollection_5">
    <defs>
     <path id="C4_0_6bc16225f0" d="M 0 2.915476 
C 0.773193 2.915476 1.514823 2.608283 2.061553 2.061553 
C 2.608283 1.514823 2.915476 0.773193 2.915476 -0 
C 2.915476 -0.773193 2.608283 -1.514823 2.061553 -2.061553 
C 1.514823 -2.608283 0.773193 -2.915476 0 -2.915476 
C -0.773193 -2.915476 -1.514823 -2.608283 -2.061553 -2.061553 
C -2.608283 -1.514823 -2.915476 -0.773193 -2.915476 0 
C -2.915476 0.773193 -2.608283 1.514823 -2.061553 2.061553 
C -1.514823 2.608283 -0.773193 2.915476 0 2.915476 
z
"/>
    </defs>
    <g clip-path="url(#pf6ebbcd71c)">
     <use href="#C4_0_6bc16225f0" x="501.66875" y="109.661111" style="fill: #fff759; fill-opacity: 0.5"/>
    </g>
    <g clip-path="url(#pf6ebbcd71c)">
     <use href="#C4_0_6bc16225f0" x="507.576028" y="109.661111" style="fill: #fff759; fill-opacity: 0.5"/>
    </g>
    <g clip-path="url(#pf6ebbcd71c)">
     <use href="#C4_0_6bc16225f0" x="564.93125" y="109.661111" style="fill: #fff759; fill-opacity: 0.5"/>
    </g>
    <g clip-path="url(#pf6ebbcd71c)">
     <use href="#C4_0_6bc16225f0" x="559.023972" y="109.661111" style="fill: #fff759; fill-opacity: 0.5"/>
    </g>
    <g clip-path="url(#pf6ebbcd71c)">
     <use href="#C4_0_6bc16225f0" x="501.97" y="113.155556" style="fill: #ffed00; fill-opacity: 0.72"/>
    </g>
    <g clip-path="url(#pf6ebbcd71c)">
     <use href="#C4_0_6bc16225f0" x="507.187344" y="113.155556" style="fill: #ffed00; fill-opacity: 0.72"/>
    </g>
    <g clip-path="url(#pf6ebbcd71c)">
     <use href="#C4_0_6bc16225f0" x="502.211" y="115.951111" style="fill: #ffed00; fill-opacity: 0.72"/>
    </g>
    <g clip-path="url(#pf6ebbcd71c)">
     <use href="#C4_0_6bc16225f0" x="506.883333" y="115.951111" style="fill: #ffed00; fill-opacity: 0.72"/>
    </g>
    <g clip-path="url(#pf6ebbcd71c)">
     <use href="#C4_0_6bc16225f0" x="564.63" y="113.155556" style="fill: #ffed00; fill-opacity: 0.72"/>
    </g>
    <g clip-path="url(#pf6ebbcd71c)">
     <use href="#C4_0_6bc16225f0" x="559.412656" y="113.155556" style="fill: #ffed00; fill-opacity: 0.72"/>
    </g>
    <g clip-path="url(#pf6ebbcd71c)">
     <use href="#C4_0_6bc16225f0" x="564.389" y="115.951111" style="fill: #ffed00; fill-opacity: 0.72"/>
    </g>
    <g clip-path="url(#pf6ebbcd71c)">
     <use href="#C4_0_6bc16225f0" x="559.716667" y="115.951111" style="fill: #ffed00; fill-opacity: 0.72"/>
    </g>
    <g clip-path="url(#pf6ebbcd71c)">
     <use href="#C4_0_6bc16225f0" x="502.5725" y="120.144444" style="fill: #ff8c00; fill-opacity: 0.8"/>
    </g>
    <g clip-path="url(#pf6ebbcd71c)">
     <use href="#C4_0_6bc16225f0" x="506.438168" y="120.144444" style="fill: #ff8c00; fill-opacity: 0.8"/>
    </g>
    <g clip-path="url(#pf6ebbcd71c)">
     <use href="#C4_0_6bc16225f0" x="564.0275" y="120.144444" style="fill: #ff8c00; fill-opacity: 0.8"/>
    </g>
    <g clip-path="url(#pf6ebbcd71c)">
     <use href="#C4_0_6bc16225f0" x="560.161832" y="120.144444" style="fill: #ff8c00; fill-opacity: 0.8"/>
    </g>
    <g clip-path="url(#pf6ebbcd71c)">
     <use href="#C4_0_6bc16225f0" x="502.87375" y="123.638889" style="fill: #ff5900; fill-opacity: 0.85"/>
    </g>
    <g clip-path="url(#pf6ebbcd71c)">
     <use href="#C4_0_6bc16225f0" x="506.076553" y="123.638889" style="fill: #ff5900; fill-opacity: 0.85"/>
    </g>
    <g clip-path="url(#pf6ebbcd71c)">
     <use href="#C4_0_6bc16225f0" x="503.175" y="127.133333" style="fill: #ff5900; fill-opacity: 0.85"/>
    </g>
    <g clip-path="url(#pf6ebbcd71c)">
     <use href="#C4_0_6bc16225f0" x="505.722925" y="127.133333" style="fill: #ff5900; fill-opacity: 0.85"/>
    </g>
    <g clip-path="url(#pf6ebbcd71c)">
     <use href="#C4_0_6bc16225f0" x="563.72625" y="123.638889" style="fill: #ff5900; fill-opacity: 0.85"/>
    </g>
    <g clip-path="url(#pf6ebbcd71c)">
     <use href="#C4_0_6bc16225f0" x="560.523447" y="123.638889" style="fill: #ff5900; fill-opacity: 0.85"/>
    </g>
    <g clip-path="url(#pf6ebbcd71c)">
     <use href="#C4_0_6bc16225f0" x="563.425" y="127.133333" style="fill: #ff5900; fill-opacity: 0.85"/>
    </g>
    <g clip-path="url(#pf6ebbcd71c)">
     <use href="#C4_0_6bc16225f0" x="560.877075" y="127.133333" style="fill: #ff5900; fill-opacity: 0.85"/>
    </g>
    <g clip-path="url(#pf6ebbcd71c)">
     <use href="#C4_0_6bc16225f0" x="503.6811" y="133.004" style="fill: #eb0d0d; fill-opacity: 0.92"/>
    </g>
    <g clip-path="url(#pf6ebbcd71c)">
     <use href="#C4_0_6bc16225f0" x="505.145609" y="133.004" style="fill: #eb0d0d; fill-opacity: 0.92"/>
    </g>
    <g clip-path="url(#pf6ebbcd71c)">
     <use href="#C4_0_6bc16225f0" x="504.31975" y="140.412222" style="fill: #eb0d0d; fill-opacity: 0.92"/>
    </g>
    <g clip-path="url(#pf6ebbcd71c)">
     <use href="#C4_0_6bc16225f0" x="504.444648" y="140.412222" style="fill: #eb0d0d; fill-opacity: 0.92"/>
    </g>
    <g clip-path="url(#pf6ebbcd71c)">
     <use href="#C4_0_6bc16225f0" x="562.9189" y="133.004" style="fill: #eb0d0d; fill-opacity: 0.92"/>
    </g>
    <g clip-path="url(#pf6ebbcd71c)">
     <use href="#C4_0_6bc16225f0" x="561.454391" y="133.004" style="fill: #eb0d0d; fill-opacity: 0.92"/>
    </g>
    <g clip-path="url(#pf6ebbcd71c)">
     <use href="#C4_0_6bc16225f0" x="562.28025" y="140.412222" style="fill: #eb0d0d; fill-opacity: 0.92"/>
    </g>
    <g clip-path="url(#pf6ebbcd71c)">
     <use href="#C4_0_6bc16225f0" x="562.155352" y="140.412222" style="fill: #eb0d0d; fill-opacity: 0.92"/>
    </g>
   </g>
   <g id="text_35">
    <text style="font-size: 13px; font-family: 'DejaVu Sans'; text-anchor: middle" x="533.3" y="16.3" transform="rotate(-0 533.3 16.3)">2.0 ps</text>
   </g>
  </g>
  <g id="axes_6">
   <g id="patch_27">
    <path d="M 160 228.9 
L 159.929287 228.297828 
L 159.723808 227.725878 
L 159.402496 227.209607 
L 158.993568 226.765766 
L 158.530127 226.4 
L 158.045085 226.106382 
L 157.566276 225.868991 
L 157.112583 225.665249 
L 156.691713 225.470452 
L 156.3 225.262693 
L 155.92422 225.027339 
L 155.545085 224.760254 
L 155.141793 224.469215 
L 154.696801 224.17325 
L 154.2 223.9 
L 153.651517 223.681531 
L 153.062676 223.549309 
L 152.454915 223.529181 
L 151.856853 223.637206 
L 151.3 223.877053 
L 150.81386 224.239378 
L 150.421277 224.703302 
L 150.134828 225.239703 
L 149.954915 225.815765 
L 149.869873 226.4 
L 149.858114 226.966868 
L 149.891931 227.500224 
L 149.942332 227.995005 
L 149.984068 228.456888 
L 150 228.9 
L 149.984068 229.343112 
L 149.942332 229.804995 
L 149.891931 230.299776 
L 149.858114 230.833132 
L 149.869873 231.4 
L 149.954915 231.984235 
L 150.134828 232.560297 
L 150.421277 233.096698 
L 150.81386 233.560622 
L 151.3 233.922947 
L 151.856853 234.162794 
L 152.454915 234.270819 
L 153.062676 234.250691 
L 153.651517 234.118469 
L 154.2 233.9 
L 154.696801 233.62675 
L 155.141793 233.330785 
L 155.545085 233.039746 
L 155.92422 232.772661 
L 156.3 232.537307 
L 156.691713 232.329548 
L 157.112583 232.134751 
L 157.566276 231.931009 
L 158.045085 231.693618 
L 158.530127 231.4 
L 158.993568 231.034234 
L 159.402496 230.590393 
L 159.723808 230.074122 
L 159.929287 229.502172 
L 160 228.9 
z
" clip-path="url(#pe98bc2f327)" style="fill: none; stroke: #eb0d0d; stroke-width: 2.4; stroke-linejoin: miter"/>
   </g>
   <g id="patch_28">
    <path d="M 97.15 192.6146 
L 97.079287 192.012428 
L 96.873808 191.440478 
L 96.552496 190.924207 
L 96.143568 190.480366 
L 95.680127 190.1146 
L 95.195085 189.820982 
L 94.716276 189.583591 
L 94.262583 189.379849 
L 93.841713 189.185052 
L 93.45 188.977293 
L 93.07422 188.741939 
L 92.695085 188.474854 
L 92.291793 188.183815 
L 91.846801 187.88785 
L 91.35 187.6146 
L 90.801517 187.396131 
L 90.212676 187.263909 
L 89.604915 187.243781 
L 89.006853 187.351806 
L 88.45 187.591653 
L 87.96386 187.953978 
L 87.571277 188.417902 
L 87.284828 188.954303 
L 87.104915 189.530365 
L 87.019873 190.1146 
L 87.008114 190.681468 
L 87.041931 191.214824 
L 87.092332 191.709605 
L 87.134068 192.171488 
L 87.15 192.6146 
L 87.134068 193.057712 
L 87.092332 193.519595 
L 87.041931 194.014376 
L 87.008114 194.547732 
L 87.019873 195.1146 
L 87.104915 195.698835 
L 87.284828 196.274897 
L 87.571277 196.811298 
L 87.96386 197.275222 
L 88.45 197.637547 
L 89.006853 197.877394 
L 89.604915 197.985419 
L 90.212676 197.965291 
L 90.801517 197.833069 
L 91.35 197.6146 
L 91.846801 197.34135 
L 92.291793 197.045385 
L 92.695085 196.754346 
L 93.07422 196.487261 
L 93.45 196.251907 
L 93.841713 196.044148 
L 94.262583 195.849351 
L 94.716276 195.645609 
L 95.195085 195.408218 
L 95.680127 195.1146 
L 96.143568 194.748834 
L 96.552496 194.304993 
L 96.873808 193.788722 
L 97.079287 193.216772 
L 97.15 192.6146 
z
" clip-path="url(#pe98bc2f327)" style="fill: none; stroke: #eb0d0d; stroke-width: 2.4; stroke-linejoin: miter"/>
   </g>
   <g id="patch_29">
    <path d="M 97.15 265.1854 
L 97.079287 264.583228 
L 96.873808 264.011278 
L 96.552496 263.495007 
L 96.143568 263.051166 
L 95.680127 262.6854 
L 95.195085 262.391782 
L 94.716276 262.154391 
L 94.262583 261.950649 
L 93.841713 261.755852 
L 93.45 261.548093 
L 93.07422 261.312739 
L 92.695085 261.045654 
L 92.291793 260.754615 
L 91.846801 260.45865 
L 91.35 260.1854 
L 90.801517 259.966931 
L 90.212676 259.834709 
L 89.604915 259.814581 
L 89.006853 259.922606 
L 88.45 260.162453 
L 87.96386 260.524778 
L 87.571277 260.988702 
L 87.284828 261.525103 
L 87.104915 262.101165 
L 87.019873 262.6854 
L 87.008114 263.252268 
L 87.041931 263.785624 
L 87.092332 264.280405 
L 87.134068 264.742288 
L 87.15 265.1854 
L 87.134068 265.628512 
L 87.092332 266.090395 
L 87.041931 266.585176 
L 87.008114 267.118532 
L 87.019873 267.6854 
L 87.104915 268.269635 
L 87.284828 268.845697 
L 87.571277 269.382098 
L 87.96386 269.846022 
L 88.45 270.208347 
L 89.006853 270.448194 
L 89.604915 270.556219 
L 90.212676 270.536091 
L 90.801517 270.403869 
L 91.35 270.1854 
L 91.846801 269.91215 
L 92.291793 269.616185 
L 92.695085 269.325146 
L 93.07422 269.058061 
L 93.45 268.822707 
L 93.841713 268.614948 
L 94.262583 268.420151 
L 94.716276 268.216409 
L 95.195085 267.979018 
L 95.680127 267.6854 
L 96.143568 267.319634 
L 96.552496 266.875793 
L 96.873808 266.359522 
L 97.079287 265.787572 
L 97.15 265.1854 
z
" clip-path="url(#pe98bc2f327)" style="fill: none; stroke: #eb0d0d; stroke-width: 2.4; stroke-linejoin: miter"/>
   </g>
   <g id="patch_30">
    <path d="M 263.916 228.9 
L 263.850944 228.346001 
L 263.661904 227.819808 
L 263.366296 227.344838 
L 262.990083 226.936505 
L 262.563717 226.6 
L 262.117478 226.329872 
L 261.676974 226.111472 
L 261.259576 225.924029 
L 260.872376 225.744816 
L 260.512 225.553678 
L 260.166282 225.337152 
L 259.817478 225.091434 
L 259.446449 224.823677 
L 259.037057 224.55139 
L 258.58 224.3 
L 258.075395 224.099009 
L 257.533662 223.977365 
L 256.974522 223.958846 
L 256.424305 224.05823 
L 255.912 224.278888 
L 255.464751 224.612228 
L 255.103574 225.039038 
L 254.840042 225.532527 
L 254.674522 226.062504 
L 254.596283 226.6 
L 254.585464 227.121518 
L 254.616577 227.612206 
L 254.662946 228.067404 
L 254.701342 228.492337 
L 254.716 228.9 
L 254.701342 229.307663 
L 254.662946 229.732596 
L 254.616577 230.187794 
L 254.585464 230.678482 
L 254.596283 231.2 
L 254.674522 231.737496 
L 254.840042 232.267473 
L 255.103574 232.760962 
L 255.464751 233.187772 
L 255.912 233.521112 
L 256.424305 233.74177 
L 256.974522 233.841154 
L 257.533662 233.822635 
L 258.075395 233.700991 
L 258.58 233.5 
L 259.037057 233.24861 
L 259.446449 232.976323 
L 259.817478 232.708566 
L 260.166282 232.462848 
L 260.512 232.246322 
L 260.872376 232.055184 
L 261.259576 231.875971 
L 261.676974 231.688528 
L 262.117478 231.470128 
L 262.563717 231.2 
L 262.990083 230.863495 
L 263.366296 230.455162 
L 263.661904 229.980192 
L 263.850944 229.453999 
z
" clip-path="url(#pe98bc2f327)" style="fill: #ff8c00; stroke: #eb0d0d; stroke-width: 2.4; stroke-linejoin: miter"/>
   </g>
   <g id="patch_31">
    <path d="M 201.066 192.6146 
L 201.000944 192.060601 
L 200.811904 191.534408 
L 200.516296 191.059438 
L 200.140083 190.651105 
L 199.713717 190.3146 
L 199.267478 190.044472 
L 198.826974 189.826072 
L 198.409576 189.638629 
L 198.022376 189.459416 
L 197.662 189.268278 
L 197.316282 189.051752 
L 196.967478 188.806034 
L 196.596449 188.538277 
L 196.187057 188.26599 
L 195.73 188.0146 
L 195.225395 187.813609 
L 194.683662 187.691965 
L 194.124522 187.673446 
L 193.574305 187.77283 
L 193.062 187.993488 
L 192.614751 188.326828 
L 192.253574 188.753638 
L 191.990042 189.247127 
L 191.824522 189.777104 
L 191.746283 190.3146 
L 191.735464 190.836118 
L 191.766577 191.326806 
L 191.812946 191.782004 
L 191.851342 192.206937 
L 191.866 192.6146 
L 191.851342 193.022263 
L 191.812946 193.447196 
L 191.766577 193.902394 
L 191.735464 194.393082 
L 191.746283 194.9146 
L 191.824522 195.452096 
L 191.990042 195.982073 
L 192.253574 196.475562 
L 192.614751 196.902372 
L 193.062 197.235712 
L 193.574305 197.45637 
L 194.124522 197.555754 
L 194.683662 197.537235 
L 195.225395 197.415591 
L 195.73 197.2146 
L 196.187057 196.96321 
L 196.596449 196.690923 
L 196.967478 196.423166 
L 197.316282 196.177448 
L 197.662 195.960922 
L 198.022376 195.769784 
L 198.409576 195.590571 
L 198.826974 195.403128 
L 199.267478 195.184728 
L 199.713717 194.9146 
L 200.140083 194.578095 
L 200.516296 194.169762 
L 200.811904 193.694792 
L 201.000944 193.168599 
z
" clip-path="url(#pe98bc2f327)" style="fill: #ff8c00; stroke: #eb0d0d; stroke-width: 2.4; stroke-linejoin: miter"/>
   </g>
   <g id="patch_32">
    <path d="M 201.066 265.1854 
L 201.000944 264.631401 
L 200.811904 264.105208 
L 200.516296 263.630238 
L 200.140083 263.221905 
L 199.713717 262.8854 
L 199.267478 262.615272 
L 198.826974 262.396872 
L 198.409576 262.209429 
L 198.022376 262.030216 
L 197.662 261.839078 
L 197.316282 261.622552 
L 196.967478 261.376834 
L 196.596449 261.109077 
L 196.187057 260.83679 
L 195.73 260.5854 
L 195.225395 260.384409 
L 194.683662 260.262765 
L 194.124522 260.244246 
L 193.574305 260.34363 
L 193.062 260.564288 
L 192.614751 260.897628 
L 192.253574 261.324438 
L 191.990042 261.817927 
L 191.824522 262.347904 
L 191.746283 262.8854 
L 191.735464 263.406918 
L 191.766577 263.897606 
L 191.812946 264.352804 
L 191.851342 264.777737 
L 191.866 265.1854 
L 191.851342 265.593063 
L 191.812946 266.017996 
L 191.766577 266.473194 
L 191.735464 266.963882 
L 191.746283 267.4854 
L 191.824522 268.022896 
L 191.990042 268.552873 
L 192.253574 269.046362 
L 192.614751 269.473172 
L 193.062 269.806512 
L 193.574305 270.02717 
L 194.124522 270.126554 
L 194.683662 270.108035 
L 195.225395 269.986391 
L 195.73 269.7854 
L 196.187057 269.53401 
L 196.596449 269.261723 
L 196.967478 268.993966 
L 197.316282 268.748248 
L 197.662 268.531722 
L 198.022376 268.340584 
L 198.409576 268.161371 
L 198.826974 267.973928 
L 199.267478 267.755528 
L 199.713717 267.4854 
L 200.140083 267.148895 
L 200.516296 266.740562 
L 200.811904 266.265592 
L 201.000944 265.739399 
z
" clip-path="url(#pe98bc2f327)" style="fill: #ff8c00; stroke: #eb0d0d; stroke-width: 2.4; stroke-linejoin: miter"/>
   </g>
   <g id="patch_33">
    <path d="M 178.88 228.9 
L 178.901348 228.466829 
L 178.958534 228.011825 
L 179.032167 227.518387 
L 179.093656 226.979436 
L 179.110127 226.4 
L 179.050085 225.797602 
L 178.888853 225.200372 
L 178.612857 224.643181 
L 178.222042 224.162436 
L 177.73 223.79045 
L 177.16183 223.550323 
L 176.550085 223.452239 
L 175.929545 223.491815 
L 175.331713 223.650799 
L 174.78 223.9 
L 174.286429 224.203982 
L 173.850428 224.526709 
L 173.459915 224.837196 
L 173.094463 225.114223 
L 172.73 225.349296 
L 172.344189 225.547394 
L 171.921551 225.725371 
L 171.457404 225.908322 
L 170.959915 226.124546 
L 170.449873 226.4 
L 169.958202 226.753197 
L 169.521602 227.191443 
L 169.177058 227.709058 
L 168.956129 228.287886 
L 168.88 228.9 
L 168.956129 229.512114 
L 169.177058 230.090942 
L 169.521602 230.608557 
L 169.958202 231.046803 
L 170.449873 231.4 
L 170.959915 231.675454 
L 171.457404 231.891678 
L 171.921551 232.074629 
L 172.344189 232.252606 
L 172.73 232.450704 
L 173.094463 232.685777 
L 173.459915 232.962804 
L 173.850428 233.273291 
L 174.286429 233.596018 
L 174.78 233.9 
L 175.331713 234.149201 
L 175.929545 234.308185 
L 176.550085 234.347761 
L 177.16183 234.249677 
L 177.73 234.00955 
L 178.222042 233.637564 
L 178.612857 233.156819 
L 178.888853 232.599628 
L 179.050085 232.002398 
L 179.110127 231.4 
L 179.093656 230.820564 
L 179.032167 230.281613 
L 178.958534 229.788175 
L 178.901348 229.333171 
z
" clip-path="url(#pe98bc2f327)" style="fill: #ffaa00; stroke: #ffcc00; stroke-width: 1.4; stroke-linejoin: miter"/>
   </g>
   <g id="patch_34">
    <path d="M 241.73 192.6146 
L 241.751348 192.181429 
L 241.808534 191.726425 
L 241.882167 191.232987 
L 241.943656 190.694036 
L 241.960127 190.1146 
L 241.900085 189.512202 
L 241.738853 188.914972 
L 241.462857 188.357781 
L 241.072042 187.877036 
L 240.58 187.50505 
L 240.01183 187.264923 
L 239.400085 187.166839 
L 238.779545 187.206415 
L 238.181713 187.365399 
L 237.63 187.6146 
L 237.136429 187.918582 
L 236.700428 188.241309 
L 236.309915 188.551796 
L 235.944463 188.828823 
L 235.58 189.063896 
L 235.194189 189.261994 
L 234.771551 189.439971 
L 234.307404 189.622922 
L 233.809915 189.839146 
L 233.299873 190.1146 
L 232.808202 190.467797 
L 232.371602 190.906043 
L 232.027058 191.423658 
L 231.806129 192.002486 
L 231.73 192.6146 
L 231.806129 193.226714 
L 232.027058 193.805542 
L 232.371602 194.323157 
L 232.808202 194.761403 
L 233.299873 195.1146 
L 233.809915 195.390054 
L 234.307404 195.606278 
L 234.771551 195.789229 
L 235.194189 195.967206 
L 235.58 196.165304 
L 235.944463 196.400377 
L 236.309915 196.677404 
L 236.700428 196.987891 
L 237.136429 197.310618 
L 237.63 197.6146 
L 238.181713 197.863801 
L 238.779545 198.022785 
L 239.400085 198.062361 
L 240.01183 197.964277 
L 240.58 197.72415 
L 241.072042 197.352164 
L 241.462857 196.871419 
L 241.738853 196.314228 
L 241.900085 195.716998 
L 241.960127 195.1146 
L 241.943656 194.535164 
L 241.882167 193.996213 
L 241.808534 193.502775 
L 241.751348 193.047771 
z
" clip-path="url(#pe98bc2f327)" style="fill: #ffaa00; stroke: #ffcc00; stroke-width: 1.4; stroke-linejoin: miter"/>
   </g>
   <g id="patch_35">
    <path d="M 241.73 265.1854 
L 241.751348 264.752229 
L 241.808534 264.297225 
L 241.882167 263.803787 
L 241.943656 263.264836 
L 241.960127 262.6854 
L 241.900085 262.083002 
L 241.738853 261.485772 
L 241.462857 260.928581 
L 241.072042 260.447836 
L 240.58 260.07585 
L 240.01183 259.835723 
L 239.400085 259.737639 
L 238.779545 259.777215 
L 238.181713 259.936199 
L 237.63 260.1854 
L 237.136429 260.489382 
L 236.700428 260.812109 
L 236.309915 261.122596 
L 235.944463 261.399623 
L 235.58 261.634696 
L 235.194189 261.832794 
L 234.771551 262.010771 
L 234.307404 262.193722 
L 233.809915 262.409946 
L 233.299873 262.6854 
L 232.808202 263.038597 
L 232.371602 263.476843 
L 232.027058 263.994458 
L 231.806129 264.573286 
L 231.73 265.1854 
L 231.806129 265.797514 
L 232.027058 266.376342 
L 232.371602 266.893957 
L 232.808202 267.332203 
L 233.299873 267.6854 
L 233.809915 267.960854 
L 234.307404 268.177078 
L 234.771551 268.360029 
L 235.194189 268.538006 
L 235.58 268.736104 
L 235.944463 268.971177 
L 236.309915 269.248204 
L 236.700428 269.558691 
L 237.136429 269.881418 
L 237.63 270.1854 
L 238.181713 270.434601 
L 238.779545 270.593585 
L 239.400085 270.633161 
L 240.01183 270.535077 
L 240.58 270.29495 
L 241.072042 269.922964 
L 241.462857 269.442219 
L 241.738853 268.885028 
L 241.900085 268.287798 
L 241.960127 267.6854 
L 241.943656 267.105964 
L 241.882167 266.567013 
L 241.808534 266.073575 
L 241.751348 265.618571 
z
" clip-path="url(#pe98bc2f327)" style="fill: #ffaa00; stroke: #ffcc00; stroke-width: 1.4; stroke-linejoin: miter"/>
   </g>
   <g id="patch_36">
    <path d="M 368.66 228.9 
L 368.594702 228.307769 
L 368.404675 227.742699 
L 368.106594 227.22777 
L 367.725338 226.778335 
L 367.290127 226.4 
L 366.830085 226.088219 
L 366.369957 225.829661 
L 365.926716 225.605128 
L 365.507614 225.39351 
L 365.11 225.176091 
L 364.722903 224.940456 
L 364.330085 224.683312 
L 363.914013 224.411721 
L 363.460032 224.142517 
L 362.96 223.9 
L 362.414747 223.712264 
L 361.834896 223.606803 
L 361.239915 223.606123 
L 360.655536 223.724089 
L 360.11 223.963655 
L 359.629762 224.31632 
L 359.23541 224.763424 
L 358.938509 225.279033 
L 358.739915 225.833929 
L 358.629873 226.4 
L 358.589883 226.954299 
L 358.596029 227.48206 
L 358.623199 227.978184 
L 358.649483 228.446946 
L 358.66 228.9 
L 358.649483 229.353054 
L 358.623199 229.821816 
L 358.596029 230.31794 
L 358.589883 230.845701 
L 358.629873 231.4 
L 358.739915 231.966071 
L 358.938509 232.520967 
L 359.23541 233.036576 
L 359.629762 233.48368 
L 360.11 233.836345 
L 360.655536 234.075911 
L 361.239915 234.193877 
L 361.834896 234.193197 
L 362.414747 234.087736 
L 362.96 233.9 
L 363.460032 233.657483 
L 363.914013 233.388279 
L 364.330085 233.116688 
L 364.722903 232.859544 
L 365.11 232.623909 
L 365.507614 232.40649 
L 365.926716 232.194872 
L 366.369957 231.970339 
L 366.830085 231.711781 
L 367.290127 231.4 
L 367.725338 231.021665 
L 368.106594 230.57223 
L 368.404675 230.057301 
L 368.594702 229.492231 
z
" clip-path="url(#pe98bc2f327)" style="fill: #ff8c00; stroke: #ffcc00; stroke-width: 1.4; stroke-linejoin: miter"/>
   </g>
   <g id="patch_37">
    <path d="M 365.82 228.9 
L 365.791677 228.602379 
L 365.708932 228.315697 
L 365.578091 228.049331 
L 365.408616 227.809806 
L 365.211666 227.6 
L 364.998444 227.418984 
L 364.778606 227.26252 
L 364.558992 227.12414 
L 364.342897 226.996605 
L 364.13 226.873501 
L 363.91694 226.750678 
L 363.698444 226.627302 
L 363.468796 226.506301 
L 363.223376 226.394147 
L 362.96 226.3 
L 362.679828 226.234339 
L 362.387656 226.207332 
L 362.091556 226.227204 
L 361.801909 226.298885 
L 361.53 226.423167 
L 361.286414 226.596506 
L 361.079513 226.811507 
L 360.914253 227.058001 
L 360.791556 227.324533 
L 360.708334 227.6 
L 360.65818 227.875164 
L 360.632597 228.143781 
L 360.622564 228.403163 
L 360.620163 228.654073 
L 360.62 228.9 
L 360.620163 229.145927 
L 360.622564 229.396837 
L 360.632597 229.656219 
L 360.65818 229.924836 
L 360.708334 230.2 
L 360.791556 230.475467 
L 360.914253 230.741999 
L 361.079513 230.988493 
L 361.286414 231.203494 
L 361.53 231.376833 
L 361.801909 231.501115 
L 362.091556 231.572796 
L 362.387656 231.592668 
L 362.679828 231.565661 
L 362.96 231.5 
L 363.223376 231.405853 
L 363.468796 231.293699 
L 363.698444 231.172698 
L 363.91694 231.049322 
L 364.13 230.926499 
L 364.342897 230.803395 
L 364.558992 230.67586 
L 364.778606 230.53748 
L 364.998444 230.381016 
L 365.211666 230.2 
L 365.408616 229.990194 
L 365.578091 229.750669 
L 365.708932 229.484303 
L 365.791677 229.197621 
z
" clip-path="url(#pe98bc2f327)" style="fill: #ff5900"/>
   </g>
   <g id="patch_38">
    <path d="M 305.81 192.6146 
L 305.744702 192.022369 
L 305.554675 191.457299 
L 305.256594 190.94237 
L 304.875338 190.492935 
L 304.440127 190.1146 
L 303.980085 189.802819 
L 303.519957 189.544261 
L 303.076716 189.319728 
L 302.657614 189.10811 
L 302.26 188.890691 
L 301.872903 188.655056 
L 301.480085 188.397912 
L 301.064013 188.126321 
L 300.610032 187.857117 
L 300.11 187.6146 
L 299.564747 187.426864 
L 298.984896 187.321403 
L 298.389915 187.320723 
L 297.805536 187.438689 
L 297.26 187.678255 
L 296.779762 188.03092 
L 296.38541 188.478024 
L 296.088509 188.993633 
L 295.889915 189.548529 
L 295.779873 190.1146 
L 295.739883 190.668899 
L 295.746029 191.19666 
L 295.773199 191.692784 
L 295.799483 192.161546 
L 295.81 192.6146 
L 295.799483 193.067654 
L 295.773199 193.536416 
L 295.746029 194.03254 
L 295.739883 194.560301 
L 295.779873 195.1146 
L 295.889915 195.680671 
L 296.088509 196.235567 
L 296.38541 196.751176 
L 296.779762 197.19828 
L 297.26 197.550945 
L 297.805536 197.790511 
L 298.389915 197.908477 
L 298.984896 197.907797 
L 299.564747 197.802336 
L 300.11 197.6146 
L 300.610032 197.372083 
L 301.064013 197.102879 
L 301.480085 196.831288 
L 301.872903 196.574144 
L 302.26 196.338509 
L 302.657614 196.12109 
L 303.076716 195.909472 
L 303.519957 195.684939 
L 303.980085 195.426381 
L 304.440127 195.1146 
L 304.875338 194.736265 
L 305.256594 194.28683 
L 305.554675 193.771901 
L 305.744702 193.206831 
z
" clip-path="url(#pe98bc2f327)" style="fill: #ff8c00; stroke: #ffcc00; stroke-width: 1.4; stroke-linejoin: miter"/>
   </g>
   <g id="patch_39">
    <path d="M 302.97 192.6146 
L 302.941677 192.316979 
L 302.858932 192.030297 
L 302.728091 191.763931 
L 302.558616 191.524406 
L 302.361666 191.3146 
L 302.148444 191.133584 
L 301.928606 190.97712 
L 301.708992 190.83874 
L 301.492897 190.711205 
L 301.28 190.588101 
L 301.06694 190.465278 
L 300.848444 190.341902 
L 300.618796 190.220901 
L 300.373376 190.108747 
L 300.11 190.0146 
L 299.829828 189.948939 
L 299.537656 189.921932 
L 299.241556 189.941804 
L 298.951909 190.013485 
L 298.68 190.137767 
L 298.436414 190.311106 
L 298.229513 190.526107 
L 298.064253 190.772601 
L 297.941556 191.039133 
L 297.858334 191.3146 
L 297.80818 191.589764 
L 297.782597 191.858381 
L 297.772564 192.117763 
L 297.770163 192.368673 
L 297.77 192.6146 
L 297.770163 192.860527 
L 297.772564 193.111437 
L 297.782597 193.370819 
L 297.80818 193.639436 
L 297.858334 193.9146 
L 297.941556 194.190067 
L 298.064253 194.456599 
L 298.229513 194.703093 
L 298.436414 194.918094 
L 298.68 195.091433 
L 298.951909 195.215715 
L 299.241556 195.287396 
L 299.537656 195.307268 
L 299.829828 195.280261 
L 300.11 195.2146 
L 300.373376 195.120453 
L 300.618796 195.008299 
L 300.848444 194.887298 
L 301.06694 194.763922 
L 301.28 194.641099 
L 301.492897 194.517995 
L 301.708992 194.39046 
L 301.928606 194.25208 
L 302.148444 194.095616 
L 302.361666 193.9146 
L 302.558616 193.704794 
L 302.728091 193.465269 
L 302.858932 193.198903 
L 302.941677 192.912221 
z
" clip-path="url(#pe98bc2f327)" style="fill: #ff5900"/>
   </g>
   <g id="patch_40">
    <path d="M 305.81 265.1854 
L 305.744702 264.593169 
L 305.554675 264.028099 
L 305.256594 263.51317 
L 304.875338 263.063735 
L 304.440127 262.6854 
L 303.980085 262.373619 
L 303.519957 262.115061 
L 303.076716 261.890528 
L 302.657614 261.67891 
L 302.26 261.461491 
L 301.872903 261.225856 
L 301.480085 260.968712 
L 301.064013 260.697121 
L 300.610032 260.427917 
L 300.11 260.1854 
L 299.564747 259.997664 
L 298.984896 259.892203 
L 298.389915 259.891523 
L 297.805536 260.009489 
L 297.26 260.249055 
L 296.779762 260.60172 
L 296.38541 261.048824 
L 296.088509 261.564433 
L 295.889915 262.119329 
L 295.779873 262.6854 
L 295.739883 263.239699 
L 295.746029 263.76746 
L 295.773199 264.263584 
L 295.799483 264.732346 
L 295.81 265.1854 
L 295.799483 265.638454 
L 295.773199 266.107216 
L 295.746029 266.60334 
L 295.739883 267.131101 
L 295.779873 267.6854 
L 295.889915 268.251471 
L 296.088509 268.806367 
L 296.38541 269.321976 
L 296.779762 269.76908 
L 297.26 270.121745 
L 297.805536 270.361311 
L 298.389915 270.479277 
L 298.984896 270.478597 
L 299.564747 270.373136 
L 300.11 270.1854 
L 300.610032 269.942883 
L 301.064013 269.673679 
L 301.480085 269.402088 
L 301.872903 269.144944 
L 302.26 268.909309 
L 302.657614 268.69189 
L 303.076716 268.480272 
L 303.519957 268.255739 
L 303.980085 267.997181 
L 304.440127 267.6854 
L 304.875338 267.307065 
L 305.256594 266.85763 
L 305.554675 266.342701 
L 305.744702 265.777631 
z
" clip-path="url(#pe98bc2f327)" style="fill: #ff8c00; stroke: #ffcc00; stroke-width: 1.4; stroke-linejoin: miter"/>
   </g>
   <g id="patch_41">
    <path d="M 302.97 265.1854 
L 302.941677 264.887779 
L 302.858932 264.601097 
L 302.728091 264.334731 
L 302.558616 264.095206 
L 302.361666 263.8854 
L 302.148444 263.704384 
L 301.928606 263.54792 
L 301.708992 263.40954 
L 301.492897 263.282005 
L 301.28 263.158901 
L 301.06694 263.036078 
L 300.848444 262.912702 
L 300.618796 262.791701 
L 300.373376 262.679547 
L 300.11 262.5854 
L 299.829828 262.519739 
L 299.537656 262.492732 
L 299.241556 262.512604 
L 298.951909 262.584285 
L 298.68 262.708567 
L 298.436414 262.881906 
L 298.229513 263.096907 
L 298.064253 263.343401 
L 297.941556 263.609933 
L 297.858334 263.8854 
L 297.80818 264.160564 
L 297.782597 264.429181 
L 297.772564 264.688563 
L 297.770163 264.939473 
L 297.77 265.1854 
L 297.770163 265.431327 
L 297.772564 265.682237 
L 297.782597 265.941619 
L 297.80818 266.210236 
L 297.858334 266.4854 
L 297.941556 266.760867 
L 298.064253 267.027399 
L 298.229513 267.273893 
L 298.436414 267.488894 
L 298.68 267.662233 
L 298.951909 267.786515 
L 299.241556 267.858196 
L 299.537656 267.878068 
L 299.829828 267.851061 
L 300.11 267.7854 
L 300.373376 267.691253 
L 300.618796 267.579099 
L 300.848444 267.458098 
L 301.06694 267.334722 
L 301.28 267.211899 
L 301.492897 267.088795 
L 301.708992 266.96126 
L 301.928606 266.82288 
L 302.148444 266.666416 
L 302.361666 266.4854 
L 302.558616 266.275594 
L 302.728091 266.036069 
L 302.858932 265.769703 
L 302.941677 265.483021 
z
" clip-path="url(#pe98bc2f327)" style="fill: #ff5900"/>
   </g>
   <g id="patch_42">
    <path d="M 283.46 228.9 
L 283.470517 228.446946 
L 283.496801 227.978184 
L 283.523971 227.48206 
L 283.530117 226.954299 
L 283.490127 226.4 
L 283.380085 225.833929 
L 283.181491 225.279033 
L 282.88459 224.763424 
L 282.490238 224.31632 
L 282.01 223.963655 
L 281.464464 223.724089 
L 280.880085 223.606123 
L 280.285104 223.606803 
L 279.705253 223.712264 
L 279.16 223.9 
L 278.659968 224.142517 
L 278.205987 224.411721 
L 277.789915 224.683312 
L 277.397097 224.940456 
L 277.01 225.176091 
L 276.612386 225.39351 
L 276.193284 225.605128 
L 275.750043 225.829661 
L 275.289915 226.088219 
L 274.829873 226.4 
L 274.394662 226.778335 
L 274.013406 227.22777 
L 273.715325 227.742699 
L 273.525298 228.307769 
L 273.46 228.9 
L 273.525298 229.492231 
L 273.715325 230.057301 
L 274.013406 230.57223 
L 274.394662 231.021665 
L 274.829873 231.4 
L 275.289915 231.711781 
L 275.750043 231.970339 
L 276.193284 232.194872 
L 276.612386 232.40649 
L 277.01 232.623909 
L 277.397097 232.859544 
L 277.789915 233.116688 
L 278.205987 233.388279 
L 278.659968 233.657483 
L 279.16 233.9 
L 279.705253 234.087736 
L 280.285104 234.193197 
L 280.880085 234.193877 
L 281.464464 234.075911 
L 282.01 233.836345 
L 282.490238 233.48368 
L 282.88459 233.036576 
L 283.181491 232.520967 
L 283.380085 231.966071 
L 283.490127 231.4 
L 283.530117 230.845701 
L 283.523971 230.31794 
L 283.496801 229.821816 
L 283.470517 229.353054 
z
" clip-path="url(#pe98bc2f327)" style="fill: #ff8c00; stroke: #ffcc00; stroke-width: 1.4; stroke-linejoin: miter"/>
   </g>
   <g id="patch_43">
    <path d="M 281.5 228.9 
L 281.499837 228.654073 
L 281.497436 228.403163 
L 281.487403 228.143781 
L 281.46182 227.875164 
L 281.411666 227.6 
L 281.328444 227.324533 
L 281.205747 227.058001 
L 281.040487 226.811507 
L 280.833586 226.596506 
L 280.59 226.423167 
L 280.318091 226.298885 
L 280.028444 226.227204 
L 279.732344 226.207332 
L 279.440172 226.234339 
L 279.16 226.3 
L 278.896624 226.394147 
L 278.651204 226.506301 
L 278.421556 226.627302 
L 278.20306 226.750678 
L 277.99 226.873501 
L 277.777103 226.996605 
L 277.561008 227.12414 
L 277.341394 227.26252 
L 277.121556 227.418984 
L 276.908334 227.6 
L 276.711384 227.809806 
L 276.541909 228.049331 
L 276.411068 228.315697 
L 276.328323 228.602379 
L 276.3 228.9 
L 276.328323 229.197621 
L 276.411068 229.484303 
L 276.541909 229.750669 
L 276.711384 229.990194 
L 276.908334 230.2 
L 277.121556 230.381016 
L 277.341394 230.53748 
L 277.561008 230.67586 
L 277.777103 230.803395 
L 277.99 230.926499 
L 278.20306 231.049322 
L 278.421556 231.172698 
L 278.651204 231.293699 
L 278.896624 231.405853 
L 279.16 231.5 
L 279.440172 231.565661 
L 279.732344 231.592668 
L 280.028444 231.572796 
L 280.318091 231.501115 
L 280.59 231.376833 
L 280.833586 231.203494 
L 281.040487 230.988493 
L 281.205747 230.741999 
L 281.328444 230.475467 
L 281.411666 230.2 
L 281.46182 229.924836 
L 281.487403 229.656219 
L 281.497436 229.396837 
L 281.499837 229.145927 
z
" clip-path="url(#pe98bc2f327)" style="fill: #ff5900"/>
   </g>
   <g id="patch_44">
    <path d="M 346.31 192.6146 
L 346.320517 192.161546 
L 346.346801 191.692784 
L 346.373971 191.19666 
L 346.380117 190.668899 
L 346.340127 190.1146 
L 346.230085 189.548529 
L 346.031491 188.993633 
L 345.73459 188.478024 
L 345.340238 188.03092 
L 344.86 187.678255 
L 344.314464 187.438689 
L 343.730085 187.320723 
L 343.135104 187.321403 
L 342.555253 187.426864 
L 342.01 187.6146 
L 341.509968 187.857117 
L 341.055987 188.126321 
L 340.639915 188.397912 
L 340.247097 188.655056 
L 339.86 188.890691 
L 339.462386 189.10811 
L 339.043284 189.319728 
L 338.600043 189.544261 
L 338.139915 189.802819 
L 337.679873 190.1146 
L 337.244662 190.492935 
L 336.863406 190.94237 
L 336.565325 191.457299 
L 336.375298 192.022369 
L 336.31 192.6146 
L 336.375298 193.206831 
L 336.565325 193.771901 
L 336.863406 194.28683 
L 337.244662 194.736265 
L 337.679873 195.1146 
L 338.139915 195.426381 
L 338.600043 195.684939 
L 339.043284 195.909472 
L 339.462386 196.12109 
L 339.86 196.338509 
L 340.247097 196.574144 
L 340.639915 196.831288 
L 341.055987 197.102879 
L 341.509968 197.372083 
L 342.01 197.6146 
L 342.555253 197.802336 
L 343.135104 197.907797 
L 343.730085 197.908477 
L 344.314464 197.790511 
L 344.86 197.550945 
L 345.340238 197.19828 
L 345.73459 196.751176 
L 346.031491 196.235567 
L 346.230085 195.680671 
L 346.340127 195.1146 
L 346.380117 194.560301 
L 346.373971 194.03254 
L 346.346801 193.536416 
L 346.320517 193.067654 
z
" clip-path="url(#pe98bc2f327)" style="fill: #ff8c00; stroke: #ffcc00; stroke-width: 1.4; stroke-linejoin: miter"/>
   </g>
   <g id="patch_45">
    <path d="M 344.35 192.6146 
L 344.349837 192.368673 
L 344.347436 192.117763 
L 344.337403 191.858381 
L 344.31182 191.589764 
L 344.261666 191.3146 
L 344.178444 191.039133 
L 344.055747 190.772601 
L 343.890487 190.526107 
L 343.683586 190.311106 
L 343.44 190.137767 
L 343.168091 190.013485 
L 342.878444 189.941804 
L 342.582344 189.921932 
L 342.290172 189.948939 
L 342.01 190.0146 
L 341.746624 190.108747 
L 341.501204 190.220901 
L 341.271556 190.341902 
L 341.05306 190.465278 
L 340.84 190.588101 
L 340.627103 190.711205 
L 340.411008 190.83874 
L 340.191394 190.97712 
L 339.971556 191.133584 
L 339.758334 191.3146 
L 339.561384 191.524406 
L 339.391909 191.763931 
L 339.261068 192.030297 
L 339.178323 192.316979 
L 339.15 192.6146 
L 339.178323 192.912221 
L 339.261068 193.198903 
L 339.391909 193.465269 
L 339.561384 193.704794 
L 339.758334 193.9146 
L 339.971556 194.095616 
L 340.191394 194.25208 
L 340.411008 194.39046 
L 340.627103 194.517995 
L 340.84 194.641099 
L 341.05306 194.763922 
L 341.271556 194.887298 
L 341.501204 195.008299 
L 341.746624 195.120453 
L 342.01 195.2146 
L 342.290172 195.280261 
L 342.582344 195.307268 
L 342.878444 195.287396 
L 343.168091 195.215715 
L 343.44 195.091433 
L 343.683586 194.918094 
L 343.890487 194.703093 
L 344.055747 194.456599 
L 344.178444 194.190067 
L 344.261666 193.9146 
L 344.31182 193.639436 
L 344.337403 193.370819 
L 344.347436 193.111437 
L 344.349837 192.860527 
z
" clip-path="url(#pe98bc2f327)" style="fill: #ff5900"/>
   </g>
   <g id="patch_46">
    <path d="M 346.31 265.1854 
L 346.320517 264.732346 
L 346.346801 264.263584 
L 346.373971 263.76746 
L 346.380117 263.239699 
L 346.340127 262.6854 
L 346.230085 262.119329 
L 346.031491 261.564433 
L 345.73459 261.048824 
L 345.340238 260.60172 
L 344.86 260.249055 
L 344.314464 260.009489 
L 343.730085 259.891523 
L 343.135104 259.892203 
L 342.555253 259.997664 
L 342.01 260.1854 
L 341.509968 260.427917 
L 341.055987 260.697121 
L 340.639915 260.968712 
L 340.247097 261.225856 
L 339.86 261.461491 
L 339.462386 261.67891 
L 339.043284 261.890528 
L 338.600043 262.115061 
L 338.139915 262.373619 
L 337.679873 262.6854 
L 337.244662 263.063735 
L 336.863406 263.51317 
L 336.565325 264.028099 
L 336.375298 264.593169 
L 336.31 265.1854 
L 336.375298 265.777631 
L 336.565325 266.342701 
L 336.863406 266.85763 
L 337.244662 267.307065 
L 337.679873 267.6854 
L 338.139915 267.997181 
L 338.600043 268.255739 
L 339.043284 268.480272 
L 339.462386 268.69189 
L 339.86 268.909309 
L 340.247097 269.144944 
L 340.639915 269.402088 
L 341.055987 269.673679 
L 341.509968 269.942883 
L 342.01 270.1854 
L 342.555253 270.373136 
L 343.135104 270.478597 
L 343.730085 270.479277 
L 344.314464 270.361311 
L 344.86 270.121745 
L 345.340238 269.76908 
L 345.73459 269.321976 
L 346.031491 268.806367 
L 346.230085 268.251471 
L 346.340127 267.6854 
L 346.380117 267.131101 
L 346.373971 266.60334 
L 346.346801 266.107216 
L 346.320517 265.638454 
z
" clip-path="url(#pe98bc2f327)" style="fill: #ff8c00; stroke: #ffcc00; stroke-width: 1.4; stroke-linejoin: miter"/>
   </g>
   <g id="patch_47">
    <path d="M 344.35 265.1854 
L 344.349837 264.939473 
L 344.347436 264.688563 
L 344.337403 264.429181 
L 344.31182 264.160564 
L 344.261666 263.8854 
L 344.178444 263.609933 
L 344.055747 263.343401 
L 343.890487 263.096907 
L 343.683586 262.881906 
L 343.44 262.708567 
L 343.168091 262.584285 
L 342.878444 262.512604 
L 342.582344 262.492732 
L 342.290172 262.519739 
L 342.01 262.5854 
L 341.746624 262.679547 
L 341.501204 262.791701 
L 341.271556 262.912702 
L 341.05306 263.036078 
L 340.84 263.158901 
L 340.627103 263.282005 
L 340.411008 263.40954 
L 340.191394 263.54792 
L 339.971556 263.704384 
L 339.758334 263.8854 
L 339.561384 264.095206 
L 339.391909 264.334731 
L 339.261068 264.601097 
L 339.178323 264.887779 
L 339.15 265.1854 
L 339.178323 265.483021 
L 339.261068 265.769703 
L 339.391909 266.036069 
L 339.561384 266.275594 
L 339.758334 266.4854 
L 339.971556 266.666416 
L 340.191394 266.82288 
L 340.411008 266.96126 
L 340.627103 267.088795 
L 340.84 267.211899 
L 341.05306 267.334722 
L 341.271556 267.458098 
L 341.501204 267.579099 
L 341.746624 267.691253 
L 342.01 267.7854 
L 342.290172 267.851061 
L 342.582344 267.878068 
L 342.878444 267.858196 
L 343.168091 267.786515 
L 343.44 267.662233 
L 343.683586 267.488894 
L 343.890487 267.273893 
L 344.055747 267.027399 
L 344.178444 266.760867 
L 344.261666 266.4854 
L 344.31182 266.210236 
L 344.337403 265.941619 
L 344.347436 265.682237 
L 344.349837 265.431327 
z
" clip-path="url(#pe98bc2f327)" style="fill: #ff5900"/>
   </g>
   <g id="patch_48">
    <path d="M 471.552 228.9 
L 471.51374 228.461322 
L 471.401673 228.036665 
L 471.223534 227.638163 
L 470.990905 227.274512 
L 470.717499 226.95 
L 470.417166 226.664308 
L 470.10198 226.413102 
L 469.780712 226.189315 
L 469.457949 225.984893 
L 469.134 225.792701 
L 468.805582 225.608249 
L 468.467166 225.430939 
L 468.112727 225.264606 
L 467.737583 225.11725 
L 467.34 225 
L 466.922261 224.925479 
L 466.491016 224.905843 
L 466.056834 224.95082 
L 465.633036 225.066097 
L 465.234 225.252301 
L 464.873224 225.504774 
L 464.561493 225.814156 
L 464.305451 226.167679 
L 464.106834 226.550967 
L 463.962501 226.95 
L 463.865251 227.352942 
L 463.805293 227.751504 
L 463.772122 228.141624 
L 463.756469 228.523356 
L 463.752 228.9 
L 463.756469 229.276644 
L 463.772122 229.658376 
L 463.805293 230.048496 
L 463.865251 230.447058 
L 463.962501 230.85 
L 464.106834 231.249033 
L 464.305451 231.632321 
L 464.561493 231.985844 
L 464.873224 232.295226 
L 465.234 232.547699 
L 465.633036 232.733903 
L 466.056834 232.84918 
L 466.491016 232.894157 
L 466.922261 232.874521 
L 467.34 232.8 
L 467.737583 232.68275 
L 468.112727 232.535394 
L 468.467166 232.369061 
L 468.805582 232.191751 
L 469.134 232.007299 
L 469.457949 231.815107 
L 469.780712 231.610685 
L 470.10198 231.386898 
L 470.417166 231.135692 
L 470.717499 230.85 
L 470.990905 230.525488 
L 471.223534 230.161837 
L 471.401673 229.763335 
L 471.51374 229.338678 
z
" clip-path="url(#pe98bc2f327)" style="fill: #ff4c00; stroke: #ffc400; stroke-width: 1.3; stroke-linejoin: miter"/>
   </g>
   <g id="patch_49">
    <path d="M 408.702 192.6146 
L 408.66374 192.175922 
L 408.551673 191.751265 
L 408.373534 191.352763 
L 408.140905 190.989112 
L 407.867499 190.6646 
L 407.567166 190.378908 
L 407.25198 190.127702 
L 406.930712 189.903915 
L 406.607949 189.699493 
L 406.284 189.507301 
L 405.955582 189.322849 
L 405.617166 189.145539 
L 405.262727 188.979206 
L 404.887583 188.83185 
L 404.49 188.7146 
L 404.072261 188.640079 
L 403.641016 188.620443 
L 403.206834 188.66542 
L 402.783036 188.780697 
L 402.384 188.966901 
L 402.023224 189.219374 
L 401.711493 189.528756 
L 401.455451 189.882279 
L 401.256834 190.265567 
L 401.112501 190.6646 
L 401.015251 191.067542 
L 400.955293 191.466104 
L 400.922122 191.856224 
L 400.906469 192.237956 
L 400.902 192.6146 
L 400.906469 192.991244 
L 400.922122 193.372976 
L 400.955293 193.763096 
L 401.015251 194.161658 
L 401.112501 194.5646 
L 401.256834 194.963633 
L 401.455451 195.346921 
L 401.711493 195.700444 
L 402.023224 196.009826 
L 402.384 196.262299 
L 402.783036 196.448503 
L 403.206834 196.56378 
L 403.641016 196.608757 
L 404.072261 196.589121 
L 404.49 196.5146 
L 404.887583 196.39735 
L 405.262727 196.249994 
L 405.617166 196.083661 
L 405.955582 195.906351 
L 406.284 195.721899 
L 406.607949 195.529707 
L 406.930712 195.325285 
L 407.25198 195.101498 
L 407.567166 194.850292 
L 407.867499 194.5646 
L 408.140905 194.240088 
L 408.373534 193.876437 
L 408.551673 193.477935 
L 408.66374 193.053278 
z
" clip-path="url(#pe98bc2f327)" style="fill: #ff4c00; stroke: #ffc400; stroke-width: 1.3; stroke-linejoin: miter"/>
   </g>
   <g id="patch_50">
    <path d="M 408.702 265.1854 
L 408.66374 264.746722 
L 408.551673 264.322065 
L 408.373534 263.923563 
L 408.140905 263.559912 
L 407.867499 263.2354 
L 407.567166 262.949708 
L 407.25198 262.698502 
L 406.930712 262.474715 
L 406.607949 262.270293 
L 406.284 262.078101 
L 405.955582 261.893649 
L 405.617166 261.716339 
L 405.262727 261.550006 
L 404.887583 261.40265 
L 404.49 261.2854 
L 404.072261 261.210879 
L 403.641016 261.191243 
L 403.206834 261.23622 
L 402.783036 261.351497 
L 402.384 261.537701 
L 402.023224 261.790174 
L 401.711493 262.099556 
L 401.455451 262.453079 
L 401.256834 262.836367 
L 401.112501 263.2354 
L 401.015251 263.638342 
L 400.955293 264.036904 
L 400.922122 264.427024 
L 400.906469 264.808756 
L 400.902 265.1854 
L 400.906469 265.562044 
L 400.922122 265.943776 
L 400.955293 266.333896 
L 401.015251 266.732458 
L 401.112501 267.1354 
L 401.256834 267.534433 
L 401.455451 267.917721 
L 401.711493 268.271244 
L 402.023224 268.580626 
L 402.384 268.833099 
L 402.783036 269.019303 
L 403.206834 269.13458 
L 403.641016 269.179557 
L 404.072261 269.159921 
L 404.49 269.0854 
L 404.887583 268.96815 
L 405.262727 268.820794 
L 405.617166 268.654461 
L 405.955582 268.477151 
L 406.284 268.292699 
L 406.607949 268.100507 
L 406.930712 267.896085 
L 407.25198 267.672298 
L 407.567166 267.421092 
L 407.867499 267.1354 
L 408.140905 266.810888 
L 408.373534 266.447237 
L 408.551673 266.048735 
L 408.66374 265.624078 
z
" clip-path="url(#pe98bc2f327)" style="fill: #ff4c00; stroke: #ffc400; stroke-width: 1.3; stroke-linejoin: miter"/>
   </g>
   <g id="patch_51">
    <path d="M 387.128 228.9 
L 387.123531 228.523356 
L 387.107878 228.141624 
L 387.074707 227.751504 
L 387.014749 227.352942 
L 386.917499 226.95 
L 386.773166 226.550967 
L 386.574549 226.167679 
L 386.318507 225.814156 
L 386.006776 225.504774 
L 385.646 225.252301 
L 385.246964 225.066097 
L 384.823166 224.95082 
L 384.388984 224.905843 
L 383.957739 224.925479 
L 383.54 225 
L 383.142417 225.11725 
L 382.767273 225.264606 
L 382.412834 225.430939 
L 382.074418 225.608249 
L 381.746 225.792701 
L 381.422051 225.984893 
L 381.099288 226.189315 
L 380.77802 226.413102 
L 380.462834 226.664308 
L 380.162501 226.95 
L 379.889095 227.274512 
L 379.656466 227.638163 
L 379.478327 228.036665 
L 379.36626 228.461322 
L 379.328 228.9 
L 379.36626 229.338678 
L 379.478327 229.763335 
L 379.656466 230.161837 
L 379.889095 230.525488 
L 380.162501 230.85 
L 380.462834 231.135692 
L 380.77802 231.386898 
L 381.099288 231.610685 
L 381.422051 231.815107 
L 381.746 232.007299 
L 382.074418 232.191751 
L 382.412834 232.369061 
L 382.767273 232.535394 
L 383.142417 232.68275 
L 383.54 232.8 
L 383.957739 232.874521 
L 384.388984 232.894157 
L 384.823166 232.84918 
L 385.246964 232.733903 
L 385.646 232.547699 
L 386.006776 232.295226 
L 386.318507 231.985844 
L 386.574549 231.632321 
L 386.773166 231.249033 
L 386.917499 230.85 
L 387.014749 230.447058 
L 387.074707 230.048496 
L 387.107878 229.658376 
L 387.123531 229.276644 
z
" clip-path="url(#pe98bc2f327)" style="fill: #ff4c00; stroke: #ffc400; stroke-width: 1.3; stroke-linejoin: miter"/>
   </g>
   <g id="patch_52">
    <path d="M 449.978 192.6146 
L 449.973531 192.237956 
L 449.957878 191.856224 
L 449.924707 191.466104 
L 449.864749 191.067542 
L 449.767499 190.6646 
L 449.623166 190.265567 
L 449.424549 189.882279 
L 449.168507 189.528756 
L 448.856776 189.219374 
L 448.496 188.966901 
L 448.096964 188.780697 
L 447.673166 188.66542 
L 447.238984 188.620443 
L 446.807739 188.640079 
L 446.39 188.7146 
L 445.992417 188.83185 
L 445.617273 188.979206 
L 445.262834 189.145539 
L 444.924418 189.322849 
L 444.596 189.507301 
L 444.272051 189.699493 
L 443.949288 189.903915 
L 443.62802 190.127702 
L 443.312834 190.378908 
L 443.012501 190.6646 
L 442.739095 190.989112 
L 442.506466 191.352763 
L 442.328327 191.751265 
L 442.21626 192.175922 
L 442.178 192.6146 
L 442.21626 193.053278 
L 442.328327 193.477935 
L 442.506466 193.876437 
L 442.739095 194.240088 
L 443.012501 194.5646 
L 443.312834 194.850292 
L 443.62802 195.101498 
L 443.949288 195.325285 
L 444.272051 195.529707 
L 444.596 195.721899 
L 444.924418 195.906351 
L 445.262834 196.083661 
L 445.617273 196.249994 
L 445.992417 196.39735 
L 446.39 196.5146 
L 446.807739 196.589121 
L 447.238984 196.608757 
L 447.673166 196.56378 
L 448.096964 196.448503 
L 448.496 196.262299 
L 448.856776 196.009826 
L 449.168507 195.700444 
L 449.424549 195.346921 
L 449.623166 194.963633 
L 449.767499 194.5646 
L 449.864749 194.161658 
L 449.924707 193.763096 
L 449.957878 193.372976 
L 449.973531 192.991244 
z
" clip-path="url(#pe98bc2f327)" style="fill: #ff4c00; stroke: #ffc400; stroke-width: 1.3; stroke-linejoin: miter"/>
   </g>
   <g id="patch_53">
    <path d="M 449.978 265.1854 
L 449.973531 264.808756 
L 449.957878 264.427024 
L 449.924707 264.036904 
L 449.864749 263.638342 
L 449.767499 263.2354 
L 449.623166 262.836367 
L 449.424549 262.453079 
L 449.168507 262.099556 
L 448.856776 261.790174 
L 448.496 261.537701 
L 448.096964 261.351497 
L 447.673166 261.23622 
L 447.238984 261.191243 
L 446.807739 261.210879 
L 446.39 261.2854 
L 445.992417 261.40265 
L 445.617273 261.550006 
L 445.262834 261.716339 
L 444.924418 261.893649 
L 444.596 262.078101 
L 444.272051 262.270293 
L 443.949288 262.474715 
L 443.62802 262.698502 
L 443.312834 262.949708 
L 443.012501 263.2354 
L 442.739095 263.559912 
L 442.506466 263.923563 
L 442.328327 264.322065 
L 442.21626 264.746722 
L 442.178 265.1854 
L 442.21626 265.624078 
L 442.328327 266.048735 
L 442.506466 266.447237 
L 442.739095 266.810888 
L 443.012501 267.1354 
L 443.312834 267.421092 
L 443.62802 267.672298 
L 443.949288 267.896085 
L 444.272051 268.100507 
L 444.596 268.292699 
L 444.924418 268.477151 
L 445.262834 268.654461 
L 445.617273 268.820794 
L 445.992417 268.96815 
L 446.39 269.0854 
L 446.807739 269.159921 
L 447.238984 269.179557 
L 447.673166 269.13458 
L 448.096964 269.019303 
L 448.496 268.833099 
L 448.856776 268.580626 
L 449.168507 268.271244 
L 449.424549 267.917721 
L 449.623166 267.534433 
L 449.767499 267.1354 
L 449.864749 266.732458 
L 449.924707 266.333896 
L 449.957878 265.943776 
L 449.973531 265.562044 
z
" clip-path="url(#pe98bc2f327)" style="fill: #ff4c00; stroke: #ffc400; stroke-width: 1.3; stroke-linejoin: miter"/>
   </g>
   <g id="patch_54">
    <path d="M 574.87 228.9 
L 574.845443 228.571503 
L 574.773144 228.251034 
L 574.657022 227.945704 
L 574.502982 227.660937 
L 574.318076 227.4 
L 574.109551 227.16389 
L 573.883913 226.951604 
L 573.646191 226.760748 
L 573.399503 226.588362 
L 573.145 226.431828 
L 572.882185 226.289689 
L 572.609551 226.162244 
L 572.325404 226.051798 
L 572.02874 225.962533 
L 571.72 225.9 
L 571.401569 225.870336 
L 571.077934 225.879316 
L 570.755449 225.931417 
L 570.441766 226.029039 
L 570.145 226.17202 
L 569.872792 226.357536 
L 569.631407 226.580383 
L 569.425044 226.833612 
L 569.255449 227.109399 
L 569.121924 227.4 
L 569.021709 227.698643 
L 568.950683 228.000194 
L 568.904258 228.301496 
L 568.878311 228.601326 
L 568.87 228.9 
L 568.878311 229.198674 
L 568.904258 229.498504 
L 568.950683 229.799806 
L 569.021709 230.101357 
L 569.121924 230.4 
L 569.255449 230.690601 
L 569.425044 230.966388 
L 569.631407 231.219617 
L 569.872792 231.442464 
L 570.145 231.62798 
L 570.441766 231.770961 
L 570.755449 231.868583 
L 571.077934 231.920684 
L 571.401569 231.929664 
L 571.72 231.9 
L 572.02874 231.837467 
L 572.325404 231.748202 
L 572.609551 231.637756 
L 572.882185 231.510311 
L 573.145 231.368172 
L 573.399503 231.211638 
L 573.646191 231.039252 
L 573.883913 230.848396 
L 574.109551 230.63611 
L 574.318076 230.4 
L 574.502982 230.139063 
L 574.657022 229.854296 
L 574.773144 229.548966 
L 574.845443 229.228497 
z
" clip-path="url(#pe98bc2f327)" style="fill: #eb1400; stroke: #ff8c1a; stroke-width: 1.2; stroke-linejoin: miter"/>
   </g>
   <g id="patch_55">
    <path d="M 512.02 192.6146 
L 511.995443 192.286103 
L 511.923144 191.965634 
L 511.807022 191.660304 
L 511.652982 191.375537 
L 511.468076 191.1146 
L 511.259551 190.87849 
L 511.033913 190.666204 
L 510.796191 190.475348 
L 510.549503 190.302962 
L 510.295 190.146428 
L 510.032185 190.004289 
L 509.759551 189.876844 
L 509.475404 189.766398 
L 509.17874 189.677133 
L 508.87 189.6146 
L 508.551569 189.584936 
L 508.227934 189.593916 
L 507.905449 189.646017 
L 507.591766 189.743639 
L 507.295 189.88662 
L 507.022792 190.072136 
L 506.781407 190.294983 
L 506.575044 190.548212 
L 506.405449 190.823999 
L 506.271924 191.1146 
L 506.171709 191.413243 
L 506.100683 191.714794 
L 506.054258 192.016096 
L 506.028311 192.315926 
L 506.02 192.6146 
L 506.028311 192.913274 
L 506.054258 193.213104 
L 506.100683 193.514406 
L 506.171709 193.815957 
L 506.271924 194.1146 
L 506.405449 194.405201 
L 506.575044 194.680988 
L 506.781407 194.934217 
L 507.022792 195.157064 
L 507.295 195.34258 
L 507.591766 195.485561 
L 507.905449 195.583183 
L 508.227934 195.635284 
L 508.551569 195.644264 
L 508.87 195.6146 
L 509.17874 195.552067 
L 509.475404 195.462802 
L 509.759551 195.352356 
L 510.032185 195.224911 
L 510.295 195.082772 
L 510.549503 194.926238 
L 510.796191 194.753852 
L 511.033913 194.562996 
L 511.259551 194.35071 
L 511.468076 194.1146 
L 511.652982 193.853663 
L 511.807022 193.568896 
L 511.923144 193.263566 
L 511.995443 192.943097 
z
" clip-path="url(#pe98bc2f327)" style="fill: #eb1400; stroke: #ff8c1a; stroke-width: 1.2; stroke-linejoin: miter"/>
   </g>
   <g id="patch_56">
    <path d="M 512.02 265.1854 
L 511.995443 264.856903 
L 511.923144 264.536434 
L 511.807022 264.231104 
L 511.652982 263.946337 
L 511.468076 263.6854 
L 511.259551 263.44929 
L 511.033913 263.237004 
L 510.796191 263.046148 
L 510.549503 262.873762 
L 510.295 262.717228 
L 510.032185 262.575089 
L 509.759551 262.447644 
L 509.475404 262.337198 
L 509.17874 262.247933 
L 508.87 262.1854 
L 508.551569 262.155736 
L 508.227934 262.164716 
L 507.905449 262.216817 
L 507.591766 262.314439 
L 507.295 262.45742 
L 507.022792 262.642936 
L 506.781407 262.865783 
L 506.575044 263.119012 
L 506.405449 263.394799 
L 506.271924 263.6854 
L 506.171709 263.984043 
L 506.100683 264.285594 
L 506.054258 264.586896 
L 506.028311 264.886726 
L 506.02 265.1854 
L 506.028311 265.484074 
L 506.054258 265.783904 
L 506.100683 266.085206 
L 506.171709 266.386757 
L 506.271924 266.6854 
L 506.405449 266.976001 
L 506.575044 267.251788 
L 506.781407 267.505017 
L 507.022792 267.727864 
L 507.295 267.91338 
L 507.591766 268.056361 
L 507.905449 268.153983 
L 508.227934 268.206084 
L 508.551569 268.215064 
L 508.87 268.1854 
L 509.17874 268.122867 
L 509.475404 268.033602 
L 509.759551 267.923156 
L 510.032185 267.795711 
L 510.295 267.653572 
L 510.549503 267.497038 
L 510.796191 267.324652 
L 511.033913 267.133796 
L 511.259551 266.92151 
L 511.468076 266.6854 
L 511.652982 266.424463 
L 511.807022 266.139696 
L 511.923144 265.834366 
L 511.995443 265.513897 
z
" clip-path="url(#pe98bc2f327)" style="fill: #eb1400; stroke: #ff8c1a; stroke-width: 1.2; stroke-linejoin: miter"/>
   </g>
   <g id="patch_57">
    <path d="M 490.77 228.9 
L 490.761689 228.601326 
L 490.735742 228.301496 
L 490.689317 228.000194 
L 490.618291 227.698643 
L 490.518076 227.4 
L 490.384551 227.109399 
L 490.214956 226.833612 
L 490.008593 226.580383 
L 489.767208 226.357536 
L 489.495 226.17202 
L 489.198234 226.029039 
L 488.884551 225.931417 
L 488.562066 225.879316 
L 488.238431 225.870336 
L 487.92 225.9 
L 487.61126 225.962533 
L 487.314596 226.051798 
L 487.030449 226.162244 
L 486.757815 226.289689 
L 486.495 226.431828 
L 486.240497 226.588362 
L 485.993809 226.760748 
L 485.756087 226.951604 
L 485.530449 227.16389 
L 485.321924 227.4 
L 485.137018 227.660937 
L 484.982978 227.945704 
L 484.866856 228.251034 
L 484.794557 228.571503 
L 484.77 228.9 
L 484.794557 229.228497 
L 484.866856 229.548966 
L 484.982978 229.854296 
L 485.137018 230.139063 
L 485.321924 230.4 
L 485.530449 230.63611 
L 485.756087 230.848396 
L 485.993809 231.039252 
L 486.240497 231.211638 
L 486.495 231.368172 
L 486.757815 231.510311 
L 487.030449 231.637756 
L 487.314596 231.748202 
L 487.61126 231.837467 
L 487.92 231.9 
L 488.238431 231.929664 
L 488.562066 231.920684 
L 488.884551 231.868583 
L 489.198234 231.770961 
L 489.495 231.62798 
L 489.767208 231.442464 
L 490.008593 231.219617 
L 490.214956 230.966388 
L 490.384551 230.690601 
L 490.518076 230.4 
L 490.618291 230.101357 
L 490.689317 229.799806 
L 490.735742 229.498504 
L 490.761689 229.198674 
z
" clip-path="url(#pe98bc2f327)" style="fill: #eb1400; stroke: #ff8c1a; stroke-width: 1.2; stroke-linejoin: miter"/>
   </g>
   <g id="patch_58">
    <path d="M 553.62 192.6146 
L 553.611689 192.315926 
L 553.585742 192.016096 
L 553.539317 191.714794 
L 553.468291 191.413243 
L 553.368076 191.1146 
L 553.234551 190.823999 
L 553.064956 190.548212 
L 552.858593 190.294983 
L 552.617208 190.072136 
L 552.345 189.88662 
L 552.048234 189.743639 
L 551.734551 189.646017 
L 551.412066 189.593916 
L 551.088431 189.584936 
L 550.77 189.6146 
L 550.46126 189.677133 
L 550.164596 189.766398 
L 549.880449 189.876844 
L 549.607815 190.004289 
L 549.345 190.146428 
L 549.090497 190.302962 
L 548.843809 190.475348 
L 548.606087 190.666204 
L 548.380449 190.87849 
L 548.171924 191.1146 
L 547.987018 191.375537 
L 547.832978 191.660304 
L 547.716856 191.965634 
L 547.644557 192.286103 
L 547.62 192.6146 
L 547.644557 192.943097 
L 547.716856 193.263566 
L 547.832978 193.568896 
L 547.987018 193.853663 
L 548.171924 194.1146 
L 548.380449 194.35071 
L 548.606087 194.562996 
L 548.843809 194.753852 
L 549.090497 194.926238 
L 549.345 195.082772 
L 549.607815 195.224911 
L 549.880449 195.352356 
L 550.164596 195.462802 
L 550.46126 195.552067 
L 550.77 195.6146 
L 551.088431 195.644264 
L 551.412066 195.635284 
L 551.734551 195.583183 
L 552.048234 195.485561 
L 552.345 195.34258 
L 552.617208 195.157064 
L 552.858593 194.934217 
L 553.064956 194.680988 
L 553.234551 194.405201 
L 553.368076 194.1146 
L 553.468291 193.815957 
L 553.539317 193.514406 
L 553.585742 193.213104 
L 553.611689 192.913274 
z
" clip-path="url(#pe98bc2f327)" style="fill: #eb1400; stroke: #ff8c1a; stroke-width: 1.2; stroke-linejoin: miter"/>
   </g>
   <g id="patch_59">
    <path d="M 553.62 265.1854 
L 553.611689 264.886726 
L 553.585742 264.586896 
L 553.539317 264.285594 
L 553.468291 263.984043 
L 553.368076 263.6854 
L 553.234551 263.394799 
L 553.064956 263.119012 
L 552.858593 262.865783 
L 552.617208 262.642936 
L 552.345 262.45742 
L 552.048234 262.314439 
L 551.734551 262.216817 
L 551.412066 262.164716 
L 551.088431 262.155736 
L 550.77 262.1854 
L 550.46126 262.247933 
L 550.164596 262.337198 
L 549.880449 262.447644 
L 549.607815 262.575089 
L 549.345 262.717228 
L 549.090497 262.873762 
L 548.843809 263.046148 
L 548.606087 263.237004 
L 548.380449 263.44929 
L 548.171924 263.6854 
L 547.987018 263.946337 
L 547.832978 264.231104 
L 547.716856 264.536434 
L 547.644557 264.856903 
L 547.62 265.1854 
L 547.644557 265.513897 
L 547.716856 265.834366 
L 547.832978 266.139696 
L 547.987018 266.424463 
L 548.171924 266.6854 
L 548.380449 266.92151 
L 548.606087 267.133796 
L 548.843809 267.324652 
L 549.090497 267.497038 
L 549.345 267.653572 
L 549.607815 267.795711 
L 549.880449 267.923156 
L 550.164596 268.033602 
L 550.46126 268.122867 
L 550.77 268.1854 
L 551.088431 268.215064 
L 551.412066 268.206084 
L 551.734551 268.153983 
L 552.048234 268.056361 
L 552.345 267.91338 
L 552.617208 267.727864 
L 552.858593 267.505017 
L 553.064956 267.251788 
L 553.234551 266.976001 
L 553.368076 266.6854 
L 553.468291 266.386757 
L 553.539317 266.085206 
L 553.585742 265.783904 
L 553.611689 265.484074 
z
" clip-path="url(#pe98bc2f327)" style="fill: #eb1400; stroke: #ff8c1a; stroke-width: 1.2; stroke-linejoin: miter"/>
   </g>
   <g id="line2d_66">
    <path d="M 154.2 228.9 
L 133.25 192.613536 
L 91.35 192.613536 
L 70.4 228.9 
L 91.35 265.186464 
L 133.25 265.186464 
L 154.2 228.9 
" clip-path="url(#pe98bc2f327)" style="fill: none; stroke: #6a6a6a; stroke-width: 1.1; stroke-linecap: square"/>
   </g>
   <g id="line2d_67">
    <path d="M 112.3 228.9 
L 91.35 192.6146 
" clip-path="url(#pe98bc2f327)" style="fill: none; stroke: #606060; stroke-linecap: square"/>
   </g>
   <g id="line2d_68">
    <path d="M 112.3 228.9 
L 133.25 192.6146 
" clip-path="url(#pe98bc2f327)" style="fill: none; stroke: #606060; stroke-linecap: square"/>
   </g>
   <g id="line2d_69">
    <path d="M 112.3 228.9 
L 112.3 192.6146 
" clip-path="url(#pe98bc2f327)" style="fill: none; stroke: #606060; stroke-linecap: square"/>
   </g>
   <g id="text_36">
    <text style="font-size: 9.5px; font-family: 'DejaVu Sans'; text-anchor: middle" x="76.2" y="195.621406" transform="rotate(-0 76.2 195.621406)">K</text>
   </g>
   <g id="text_37">
    <text style="font-size: 9.5px; font-family: 'DejaVu Sans'; text-anchor: middle" x="112.3" y="189.921406" transform="rotate(-0 112.3 189.921406)">M</text>
   </g>
   <g id="text_38">
    <text style="font-size: 9.5px; font-family: 'DejaVu Sans'; text-anchor: middle" x="148.3" y="195.621406" transform="rotate(-0 148.3 195.621406)">K'</text>
   </g>
   <g id="text_39">
    <text style="font-size: 9.5px; font-family: 'DejaVu Sans'; text-anchor: middle" x="92.4" y="215.221406" transform="rotate(-0 92.4 215.221406)">S</text>
   </g>
   <g id="text_40">
    <text style="font-size: 9.5px; font-family: 'DejaVu Sans'; text-anchor: middle" x="132.6" y="215.221406" transform="rotate(-0 132.6 215.221406)">S'</text>
   </g>
   <g id="text_41">
    <text style="font-size: 9.5px; font-family: 'DejaVu Sans'; text-anchor: middle" x="112.4" y="239.621406" transform="rotate(-0 112.4 239.621406)">Γ</text>
   </g>
   <g id="line2d_70">
    <path d="M 258.58 228.9 
L 237.63 192.613536 
L 195.73 192.613536 
L 174.78 228.9 
L 195.73 265.186464 
L 237.63 265.186464 
L 258.58 228.9 
" clip-path="url(#pe98bc2f327)" style="fill: none; stroke: #6a6a6a; stroke-width: 1.1; stroke-linecap: square"/>
   </g>
   <g id="line2d_71">
    <path d="M 362.96 228.9 
L 342.01 192.613536 
L 300.11 192.613536 
L 279.16 228.9 
L 300.11 265.186464 
L 342.01 265.186464 
L 362.96 228.9 
" clip-path="url(#pe98bc2f327)" style="fill: none; stroke: #6a6a6a; stroke-width: 1.1; stroke-linecap: square"/>
   </g>
   <g id="line2d_72">
    <path d="M 467.34 228.9 
L 446.39 192.613536 
L 404.49 192.613536 
L 383.54 228.9 
L 404.49 265.186464 
L 446.39 265.186464 
L 467.34 228.9 
" clip-path="url(#pe98bc2f327)" style="fill: none; stroke: #6a6a6a; stroke-width: 1.1; stroke-linecap: square"/>
   </g>
   <g id="line2d_73">
    <path d="M 571.72 228.9 
L 550.77 192.613536 
L 508.87 192.613536 
L 487.92 228.9 
L 508.87 265.186464 
L 550.77 265.186464 
L 571.72 228.9 
" clip-path="url(#pe98bc2f327)" style="fill: none; stroke: #6a6a6a; stroke-width: 1.1; stroke-linecap: square"/>
   </g>
   <g id="line2d_74">
    <defs>
     <path id="md9dcbfcf00" d="M 0 1.3 
C 0.344764 1.3 0.675454 1.163024 0.919239 0.919239 
C 1.163024 0.675454 1.3 0.344764 1.3 0 
C 1.3 -0.344764 1.163024 -0.675454 0.919239 -0.919239 
C 0.675454 -1.163024 0.344764 -1.3 0 -1.3 
C -0.344764 -1.3 -0.675454 -1.163024 -0.919239 -0.919239 
C -1.163024 -0.675454 -1.3 -0.344764 -1.3 0 
C -1.3 0.344764 -1.163024 0.675454 -0.919239 0.919239 
C -0.675454 1.163024 -0.344764 1.3 0 1.3 
z
"/>
    </defs>
    <g clip-path="url(#pe98bc2f327)">
     <use href="#md9dcbfcf00" x="98.333333" y="204.709733" style="fill: #111111"/>
     <use href="#md9dcbfcf00" x="126.266667" y="204.709733" style="fill: #111111"/>
     <use href="#md9dcbfcf00" x="112.3" y="228.9" style="fill: #111111"/>
    </g>
   </g>
   <g id="patch_60">
    <path d="M 421.3 302.3 
Q 430.52 307.58 430.251835 316.479736 
" clip-path="url(#pe98bc2f327)" style="fill: none; stroke: #ed1a1a; stroke-width: 1.6; stroke-linecap: round"/>
    <path d="M 432.471355 312.544799 
L 430.251835 316.479736 
L 428.27326 312.418302 
z
" clip-path="url(#pe98bc2f327)" style="fill: #ed1a1a; stroke: #ed1a1a; stroke-width: 1.6; stroke-linecap: round"/>
   </g>
   <g id="patch_61">
    <path d="M 441 322 
Q 450.35 326.93 450.391859 335.778974 
" clip-path="url(#pe98bc2f327)" style="fill: none; stroke: #ed1a1a; stroke-width: 1.6; stroke-linecap: round"/>
    <path d="M 452.472914 331.769085 
L 450.391859 335.778974 
L 448.272961 331.788953 
z
" clip-path="url(#pe98bc2f327)" style="fill: #ed1a1a; stroke: #ed1a1a; stroke-width: 1.6; stroke-linecap: round"/>
   </g>
   <g id="patch_62">
    <path d="M 461.7 341 
Q 470.9 346.02 470.816421 354.779033 
" clip-path="url(#pe98bc2f327)" style="fill: none; stroke: #ed1a1a; stroke-width: 1.6; stroke-linecap: round"/>
    <path d="M 472.954492 350.799253 
L 470.816421 354.779033 
L 468.754683 350.759178 
z
" clip-path="url(#pe98bc2f327)" style="fill: #ed1a1a; stroke: #ed1a1a; stroke-width: 1.6; stroke-linecap: round"/>
   </g>
   <g id="patch_63">
    <path d="M 492.3 360.3 
Q 501.22 365.08 501.203401 373.478958 
" clip-path="url(#pe98bc2f327)" style="fill: none; stroke: #ed1a1a; stroke-width: 1.6; stroke-linecap: round"/>
    <path d="M 503.311302 369.483116 
L 501.203401 373.478958 
L 499.11131 369.474816 
z
" clip-path="url(#pe98bc2f327)" style="fill: #ed1a1a; stroke: #ed1a1a; stroke-width: 1.6; stroke-linecap: round"/>
   </g>
  </g>
  <g id="axes_7">
   <g id="patch_64">
    <path d="M 60.3 413.3 
L 262.6 413.3 
L 262.6 296.7 
L 60.3 296.7 
L 60.3 413.3 
z
" style="fill: none; opacity: 0"/>
   </g>
   <g id="matplotlib.axis_11">
    <g id="xtick_26">
     <g id="line2d_75">
      <g>
       <use href="#m8d3a855a7b" x="60.3" y="413.3" style="stroke: #000000"/>
      </g>
     </g>
     <g id="text_42">
      <text style="font-size: 10px; font-family: 'DejaVu Sans'; text-anchor: middle" x="60.3" y="428.898438" transform="rotate(-0 60.3 428.898438)">0.0</text>
     </g>
    </g>
    <g id="xtick_27">
     <g id="line2d_76">
      <g>
       <use href="#m8d3a855a7b" x="110.875" y="413.3" style="stroke: #000000"/>
      </g>
     </g>
     <g id="text_43">
      <text style="font-size: 10px; font-family: 'DejaVu Sans'; text-anchor: middle" x="110.875" y="428.898438" transform="rotate(-0 110.875 428.898438)">0.5</text>
     </g>
    </g>
    <g id="xtick_28">
     <g id="line2d_77">
      <g>
       <use href="#m8d3a855a7b" x="161.45" y="413.3" style="stroke: #000000"/>
      </g>
     </g>
     <g id="text_44">
      <text style="font-size: 10px; font-family: 'DejaVu Sans'; text-anchor: middle" x="161.45" y="428.898438" transform="rotate(-0 161.45 428.898438)">1.0</text>
     </g>
    </g>
    <g id="xtick_29">
     <g id="line2d_78">
      <g>
       <use href="#m8d3a855a7b" x="212.025" y="413.3" style="stroke: #000000"/>
      </g>
     </g>
     <g id="text_45">
      <text style="font-size: 10px; font-family: 'DejaVu Sans'; text-anchor: middle" x="212.025" y="428.898438" transform="rotate(-0 212.025 428.898438)">1.5</text>
     </g>
    </g>
    <g id="xtick_30">
     <g id="line2d_79">
      <g>
       <use href="#m8d3a855a7b" x="262.6" y="413.3" style="stroke: #000000"/>
      </g>
     </g>
     <g id="text_46">
      <text style="font-size: 10px; font-family: 'DejaVu Sans'; text-anchor: middle" x="262.6" y="428.898438" transform="rotate(-0 262.6 428.898438)">2.0</text>
     </g>
    </g>
    <g id="text_47">
     <text style="font-size: 10.5px; font-family: 'DejaVu Sans'; text-anchor: middle" x="161.45" y="443.256484" transform="rotate(-0 161.45 443.256484)">Time (ps)</text>
    </g>
   </g>
   <g id="matplotlib.axis_12">
    <g id="ytick_21">
     <g id="line2d_80">
      <g>
       <use href="#me4d9d56b5a" x="60.3" y="413.3" style="stroke: #000000"/>
      </g>
     </g>
     <g id="text_48">
      <text style="font-size: 10px; font-family: 'DejaVu Sans'; text-anchor: end" x="53.3" y="417.099219" transform="rotate(-0 53.3 417.099219)">0.0</text>
     </g>
    </g>
    <g id="ytick_22">
     <g id="line2d_81">
      <g>
       <use href="#me4d9d56b5a" x="60.3" y="389.98" style="stroke: #000000"/>
      </g>
     </g>
     <g id="text_49">
      <text style="font-size: 10px; font-family: 'DejaVu Sans'; text-anchor: end" x="53.3" y="393.779219" transform="rotate(-0 53.3 393.779219)">0.2</text>
     </g>
    </g>
    <g id="ytick_23">
     <g id="line2d_82">
      <g>
       <use href="#me4d9d56b5a" x="60.3" y="366.66" style="stroke: #000000"/>
      </g>
     </g>
     <g id="text_50">
      <text style="font-size: 10px; font-family: 'DejaVu Sans'; text-anchor: end" x="53.3" y="370.459219" transform="rotate(-0 53.3 370.459219)">0.4</text>
     </g>
    </g>
    <g id="ytick_24">
     <g id="line2d_83">
      <g>
       <use href="#me4d9d56b5a" x="60.3" y="343.34" style="stroke: #000000"/>
      </g>
     </g>
     <g id="text_51">
      <text style="font-size: 10px; font-family: 'DejaVu Sans'; text-anchor: end" x="53.3" y="347.139219" transform="rotate(-0 53.3 347.139219)">0.6</text>
     </g>
    </g>
    <g id="ytick_25">
     <g id="line2d_84">
      <g>
       <use href="#me4d9d56b5a" x="60.3" y="320.02" style="stroke: #000000"/>
      </g>
     </g>
     <g id="text_52">
      <text style="font-size: 10px; font-family: 'DejaVu Sans'; text-anchor: end" x="53.3" y="323.819219" transform="rotate(-0 53.3 323.819219)">0.8</text>
     </g>
    </g>
    <g id="ytick_26">
     <g id="line2d_85">
      <g>
       <use href="#me4d9d56b5a" x="60.3" y="296.7" style="stroke: #000000"/>
      </g>
     </g>
     <g id="text_53">
      <text style="font-size: 10px; font-family: 'DejaVu Sans'; text-anchor: end" x="53.3" y="300.499219" transform="rotate(-0 53.3 300.499219)">1.0</text>
     </g>
    </g>
    <g id="text_54">
     <text style="font-size: 10.5px; font-family: 'DejaVu Sans'; text-anchor: middle" x="31.213203" y="355" transform="rotate(-90 31.213203 355)">Population</text>
    </g>
   </g>
   <g id="line2d_86">
    <path d="M 60.3 296.7 
L 61.313189 296.864586 
L 62.664107 297.368287 
L 64.015025 298.104627 
L 65.703673 299.287637 
L 67.73005 301.029739 
L 69.756427 303.079615 
L 71.782805 305.41887 
L 74.146912 308.521252 
L 76.511018 312.057453 
L 78.875125 316.058706 
L 81.239232 320.510181 
L 84.616528 327.403291 
L 87.993823 334.214794 
L 90.0202 337.844733 
L 91.708848 340.452725 
L 93.397496 342.639807 
L 95.086144 344.425067 
L 96.774791 345.869346 
L 98.801169 347.262718 
L 101.165275 348.571422 
L 103.867112 349.79715 
L 106.906678 350.929743 
L 110.283973 351.938953 
L 113.998998 352.795883 
L 118.051753 353.486342 
L 122.779967 354.045359 
L 128.183639 354.452358 
L 135.27596 354.747651 
L 145.407846 354.923478 
L 169.048915 355.251586 
L 182.220367 355.407649 
L 262.6 355.4081 
L 262.6 355.4081 
" clip-path="url(#pe7594e555f)" style="fill: none; stroke: #ff1010; stroke-width: 1.3; stroke-linecap: square"/>
   </g>
   <g id="line2d_87">
    <path d="M 60.3 413.3 
L 61.313189 413.135414 
L 62.664107 412.631713 
L 64.015025 411.895373 
L 65.703673 410.712363 
L 67.73005 408.970261 
L 69.756427 406.920385 
L 71.782805 404.58113 
L 74.146912 401.478748 
L 76.511018 397.942547 
L 78.875125 393.941294 
L 81.239232 389.489819 
L 84.616528 382.596709 
L 87.993823 375.785206 
L 90.0202 372.155267 
L 91.708848 369.547275 
L 93.397496 367.360193 
L 95.086144 365.574933 
L 96.774791 364.130654 
L 98.801169 362.737282 
L 101.165275 361.428578 
L 103.867112 360.20285 
L 106.906678 359.070257 
L 110.283973 358.061047 
L 113.998998 357.204117 
L 118.051753 356.513658 
L 122.779967 355.954641 
L 128.183639 355.547642 
L 135.27596 355.252349 
L 145.407846 355.076522 
L 169.048915 354.748414 
L 182.220367 354.592351 
L 262.6 354.5919 
L 262.6 354.5919 
" clip-path="url(#pe7594e555f)" style="fill: none; stroke: #1010ff; stroke-width: 1.3; stroke-linecap: square"/>
   </g>
   <g id="patch_65">
    <path d="M 60.3 413.3 
L 60.3 296.7 
" style="fill: none; stroke: #222222; stroke-width: 1.1; stroke-linejoin: miter; stroke-linecap: square"/>
   </g>
   <g id="patch_66">
    <path d="M 262.6 413.3 
L 262.6 296.7 
" style="fill: none; stroke: #222222; stroke-width: 1.1; stroke-linejoin: miter; stroke-linecap: square"/>
   </g>
   <g id="patch_67">
    <path d="M 60.3 413.3 
L 262.6 413.3 
" style="fill: none; stroke: #222222; stroke-width: 1.1; stroke-linejoin: miter; stroke-linecap: square"/>
   </g>
   <g id="patch_68">
    <path d="M 60.3 296.7 
L 262.6 296.7 
" style="fill: none; stroke: #222222; stroke-width: 1.1; stroke-linejoin: miter; stroke-linecap: square"/>
   </g>
   <g id="legend_1">
    <g id="patch_69">
     <path d="M 155.235937 319.878125 
L 256.1 319.878125 
Q 258.1 319.878125 258.1 317.878125 
L 258.1 303.2 
Q 258.1 301.2 256.1 301.2 
L 155.235937 301.2 
Q 153.235937 301.2 153.235937 303.2 
L 153.235937 317.878125 
Q 153.235937 319.878125 155.235937 319.878125 
z
" style="fill: #ffffff; opacity: 0.8; stroke: #cccccc; stroke-linejoin: miter"/>
    </g>
    <g id="line2d_88">
     <path d="M 157.735937 309.798437 
L 168.735937 309.798437 
L 179.735937 309.798437 
" style="fill: none; stroke: #ff1010; stroke-width: 1.3; stroke-linecap: square"/>
    </g>
    <g id="text_55">
     <text style="font-size: 10px; font-family: 'DejaVu Sans'; text-anchor: start" x="187.735937" y="313.298437" transform="rotate(-0 187.735937 313.298437)">K</text>
    </g>
    <g id="line2d_89">
     <path d="M 214.29375 309.798437 
L 225.29375 309.798437 
L 236.29375 309.798437 
" style="fill: none; stroke: #1010ff; stroke-width: 1.3; stroke-linecap: square"/>
    </g>
    <g id="text_56">
     <text style="font-size: 10px; font-family: 'DejaVu Sans'; text-anchor: start" x="244.29375" y="313.298437" transform="rotate(-0 244.29375 313.298437)">K'</text>
    </g>
   </g>
  </g>
  <g id="axes_8">
   <g id="patch_70">
    <path d="M 378.7 413 
L 581.7 413 
L 581.7 296.7 
L 378.7 296.7 
L 378.7 413 
z
" style="fill: none; opacity: 0"/>
   </g>
   <g id="matplotlib.axis_13">
    <g id="xtick_31">
     <g id="line2d_90">
      <g>
       <use href="#m8d3a855a7b" x="378.7" y="413" style="stroke: #000000"/>
      </g>
     </g>
     <g id="text_57">
      <text style="font-size: 10px; font-family: 'DejaVu Sans'; text-anchor: middle" x="378.7" y="428.598438" transform="rotate(-0 378.7 428.598438)">0.0</text>
     </g>
    </g>
    <g id="xtick_32">
     <g id="line2d_91">
      <g>
       <use href="#m8d3a855a7b" x="429.45" y="413" style="stroke: #000000"/>
      </g>
     </g>
     <g id="text_58">
      <text style="font-size: 10px; font-family: 'DejaVu Sans'; text-anchor: middle" x="429.45" y="428.598438" transform="rotate(-0 429.45 428.598438)">0.5</text>
     </g>
    </g>
    <g id="xtick_33">
     <g id="line2d_92">
      <g>
       <use href="#m8d3a855a7b" x="480.2" y="413" style="stroke: #000000"/>
      </g>
     </g>
     <g id="text_59">
      <text style="font-size: 10px; font-family: 'DejaVu Sans'; text-anchor: middle" x="480.2" y="428.598438" transform="rotate(-0 480.2 428.598438)">1.0</text>
     </g>
    </g>
    <g id="xtick_34">
     <g id="line2d_93">
      <g>
       <use href="#m8d3a855a7b" x="530.95" y="413" style="stroke: #000000"/>
      </g>
     </g>
     <g id="text_60">
      <text style="font-size: 10px; font-family: 'DejaVu Sans'; text-anchor: middle" x="530.95" y="428.598438" transform="rotate(-0 530.95 428.598438)">1.5</text>
     </g>
    </g>
    <g id="xtick_35">
     <g id="line2d_94">
      <g>
       <use href="#m8d3a855a7b" x="581.7" y="413" style="stroke: #000000"/>
      </g>
     </g>
     <g id="text_61">
      <text style="font-size: 10px; font-family: 'DejaVu Sans'; text-anchor: middle" x="581.7" y="428.598438" transform="rotate(-0 581.7 428.598438)">2.0</text>
     </g>
    </g>
    <g id="text_62">
     <text style="font-size: 10.5px; font-family: 'DejaVu Sans'; text-anchor: middle" x="480.2" y="442.956484" transform="rotate(-0 480.2 442.956484)">Time (ps)</text>
    </g>
   </g>
   <g id="matplotlib.axis_14">
    <g id="ytick_27">
     <g id="line2d_95">
      <g>
       <use href="#me4d9d56b5a" x="378.7" y="408.211802" style="stroke: #000000"/>
      </g>
     </g>
     <g id="text_63">
      <text style="font-size: 10px; font-family: 'DejaVu Sans'; text-anchor: end" x="371.7" y="412.011021" transform="rotate(-0 371.7 412.011021)">0.00</text>
     </g>
    </g>
    <g id="ytick_28">
     <g id="line2d_96">
      <g>
       <use href="#me4d9d56b5a" x="378.7" y="381.610704" style="stroke: #000000"/>
      </g>
     </g>
     <g id="text_64">
      <text style="font-size: 10px; font-family: 'DejaVu Sans'; text-anchor: end" x="371.7" y="385.409923" transform="rotate(-0 371.7 385.409923)">0.25</text>
     </g>
    </g>
    <g id="ytick_29">
     <g id="line2d_97">
      <g>
       <use href="#me4d9d56b5a" x="378.7" y="355.009607" style="stroke: #000000"/>
      </g>
     </g>
     <g id="text_65">
      <text style="font-size: 10px; font-family: 'DejaVu Sans'; text-anchor: end" x="371.7" y="358.808825" transform="rotate(-0 371.7 358.808825)">0.50</text>
     </g>
    </g>
    <g id="ytick_30">
     <g id="line2d_98">
      <g>
       <use href="#me4d9d56b5a" x="378.7" y="328.408509" style="stroke: #000000"/>
      </g>
     </g>
     <g id="text_66">
      <text style="font-size: 10px; font-family: 'DejaVu Sans'; text-anchor: end" x="371.7" y="332.207727" transform="rotate(-0 371.7 332.207727)">0.75</text>
     </g>
    </g>
    <g id="ytick_31">
     <g id="line2d_99">
      <g>
       <use href="#me4d9d56b5a" x="378.7" y="301.807411" style="stroke: #000000"/>
      </g>
     </g>
     <g id="text_67">
      <text style="font-size: 10px; font-family: 'DejaVu Sans'; text-anchor: end" x="371.7" y="305.60663" transform="rotate(-0 371.7 305.60663)">1.00</text>
     </g>
    </g>
    <g id="text_68">
     <text style="font-size: 10.5px; font-family: 'DejaVu Sans'; text-anchor: middle" x="343.250703" y="354.85" transform="rotate(-90 343.250703 354.85)">Energy (eV)</text>
    </g>
   </g>
   <g id="patch_71">
    <path d="M 378.7 413 
L 378.7 296.7 
" style="fill: none; stroke: #222222; stroke-width: 1.1; stroke-linejoin: miter; stroke-linecap: square"/>
   </g>
   <g id="patch_72">
    <path d="M 581.7 413 
L 581.7 296.7 
" style="fill: none; stroke: #222222; stroke-width: 1.1; stroke-linejoin: miter; stroke-linecap: square"/>
   </g>
   <g id="patch_73">
    <path d="M 378.7 413 
L 581.7 413 
" style="fill: none; stroke: #222222; stroke-width: 1.1; stroke-linejoin: miter; stroke-linecap: square"/>
   </g>
   <g id="patch_74">
    <path d="M 378.7 296.7 
L 581.7 296.7 
" style="fill: none; stroke: #222222; stroke-width: 1.1; stroke-linejoin: miter; stroke-linecap: square"/>
   </g>
   <g id="line2d_100">
    <path d="M 378.7 300.213842 
L 383.444574 301.352036 
L 386.15576 302.239752 
L 388.189149 303.113174 
L 390.222538 304.217052 
L 392.255927 305.590087 
L 394.289316 307.259329 
L 396.322705 309.237164 
L 398.356093 311.51941 
L 400.728381 314.537845 
L 403.439566 318.381915 
L 406.828548 323.597911 
L 416.995492 339.516502 
L 420.384474 344.265584 
L 423.434558 348.163458 
L 426.484641 351.691505 
L 429.534725 354.860365 
L 432.584808 357.694435 
L 435.634891 360.225082 
L 438.684975 362.485971 
L 442.073957 364.721803 
L 445.801836 366.893558 
L 449.529716 368.811573 
L 453.596494 370.663697 
L 458.341068 372.565656 
L 463.424541 374.355478 
L 469.18581 376.1403 
L 475.624875 377.897971 
L 483.080634 379.695533 
L 491.553088 381.506378 
L 501.381135 383.378389 
L 512.903673 385.343239 
L 526.459599 387.420957 
L 542.048915 389.577158 
L 559.671619 391.784505 
L 579.327713 394.018053 
L 581.7 394.273493 
L 581.7 394.273493 
" clip-path="url(#p55bf77de1c)" style="fill: none; stroke: #2020e0; stroke-width: 1.5; stroke-linecap: square"/>
   </g>
  </g>
  <g id="axes_9">
   <g id="patch_75">
    <path d="M 468.5 311 
L 570 311 
L 570 303 
L 468.5 303 
L 468.5 311 
z
" style="fill: none; opacity: 0"/>
   </g>
   <g id="matplotlib.axis_15">
    <g id="xtick_36">
     <g id="line2d_101">
      <g>
       <use href="#m8d3a855a7b" x="468.5" y="311" style="stroke: #000000"/>
      </g>
     </g>
     <g id="text_69">
      
      <g transform="translate(456.75 328.398438)">
       <text>
        <tspan x="0" y="-0.064063" style="font-size: 10px; font-family: 'DejaVu Sans'">1</tspan>
        <tspan x="6.362305" y="-0.064063" style="font-size: 10px; font-family: 'DejaVu Sans'">0</tspan>
        <tspan x="12.820312" y="-3.892188" style="font-size: 7px; font-family: 'DejaVu Sans'">−</tspan>
        <tspan x="18.685547" y="-3.892188" style="font-size: 7px; font-family: 'DejaVu Sans'">4</tspan>
       </text>
      </g>
     </g>
    </g>
    <g id="xtick_37">
     <g id="line2d_102">
      <g>
       <use href="#m8d3a855a7b" x="519.25" y="311" style="stroke: #000000"/>
      </g>
     </g>
     <g id="text_70">
      
      <g transform="translate(507.5 328.398438)">
       <text>
        <tspan x="0" y="-0.976562" style="font-size: 10px; font-family: 'DejaVu Sans'">1</tspan>
        <tspan x="6.362305" y="-0.976562" style="font-size: 10px; font-family: 'DejaVu Sans'">0</tspan>
        <tspan x="12.820312" y="-4.804688" style="font-size: 7px; font-family: 'DejaVu Sans'">−</tspan>
        <tspan x="18.685547" y="-4.804688" style="font-size: 7px; font-family: 'DejaVu Sans'">2</tspan>
       </text>
      </g>
     </g>
    </g>
    <g id="xtick_38">
     <g id="line2d_103">
      <g>
       <use href="#m8d3a855a7b" x="570" y="311" style="stroke: #000000"/>
      </g>
     </g>
     <g id="text_71">
      
      <g transform="translate(561.2 328.398438)">
       <text>
        <tspan x="0" y="-0.976562" style="font-size: 10px; font-family: 'DejaVu Sans'">1</tspan>
        <tspan x="6.362305" y="-0.976562" style="font-size: 10px; font-family: 'DejaVu Sans'">0</tspan>
        <tspan x="12.820312" y="-4.804688" style="font-size: 7px; font-family: 'DejaVu Sans'">0</tspan>
       </text>
      </g>
     </g>
    </g>
   </g>
   <g id="matplotlib.axis_16"/>
   <g id="patch_76">
    <path d="M 468.5 311 
L 468.5 303 
" style="fill: none; stroke: #222222; stroke-width: 1.6; stroke-linejoin: miter; stroke-linecap: square"/>
   </g>
   <g id="patch_77">
    <path d="M 570 311 
L 570 303 
" style="fill: none; stroke: #222222; stroke-width: 1.6; stroke-linejoin: miter; stroke-linecap: square"/>
   </g>
   <g id="patch_78">
    <path d="M 468.5 311 
L 570 311 
" style="fill: none; stroke: #222222; stroke-width: 1.6; stroke-linejoin: miter; stroke-linecap: square"/>
   </g>
   <g id="patch_79">
    <path d="M 468.5 303 
L 570 303 
" style="fill: none; stroke: #222222; stroke-width: 1.6; stroke-linejoin: miter; stroke-linecap: square"/>
   </g>
  </g>
  <g id="text_72">
   <text style="font-size: 15.5px; font-family: 'DejaVu Sans'; text-anchor: start" x="5.5" y="20" transform="rotate(-0 5.5 20)">(a)</text>
  </g>
  <g id="text_73">
   <text style="font-size: 15.5px; font-family: 'DejaVu Sans'; text-anchor: start" x="5.5" y="195.3" transform="rotate(-0 5.5 195.3)">(b)</text>
  </g>
  <g id="text_74">
   <text style="font-size: 15.5px; font-family: 'DejaVu Sans'; text-anchor: start" x="5.5" y="300.8" transform="rotate(-0 5.5 300.8)">(c)</text>
  </g>
  <g id="text_75">
   <text style="font-size: 15.5px; font-family: 'DejaVu Sans'; text-anchor: start" x="317.8" y="300.8" transform="rotate(-0 317.8 300.8)">(d)</text>
  </g>
 </g>
 <defs>
  <clipPath id="p44844f4a24">
   <rect x="60.3" y="22.3" width="96.4" height="125.8"/>
  </clipPath>
  <clipPath id="pb991e767cc">
   <rect x="166.5" y="22.3" width="96.4" height="125.8"/>
  </clipPath>
  <clipPath id="p926dd5e495">
   <rect x="272.7" y="22.3" width="96.4" height="125.8"/>
  </clipPath>
  <clipPath id="p4cb11d95ed">
   <rect x="378.9" y="22.3" width="96.4" height="125.8"/>
  </clipPath>
  <clipPath id="pf6ebbcd71c">
   <rect x="485.1" y="22.3" width="96.4" height="125.8"/>
  </clipPath>
  <clipPath id="pe98bc2f327">
   <rect x="0" y="0" width="600" height="451"/>
  </clipPath>
  <clipPath id="pe7594e555f">
   <rect x="60.3" y="296.7" width="202.3" height="116.6"/>
  </clipPath>
  <clipPath id="p55bf77de1c">
   <rect x="378.7" y="296.7" width="203" height="116.3"/>
  </clipPath>
 </defs>
</svg>

</div></body></html>
